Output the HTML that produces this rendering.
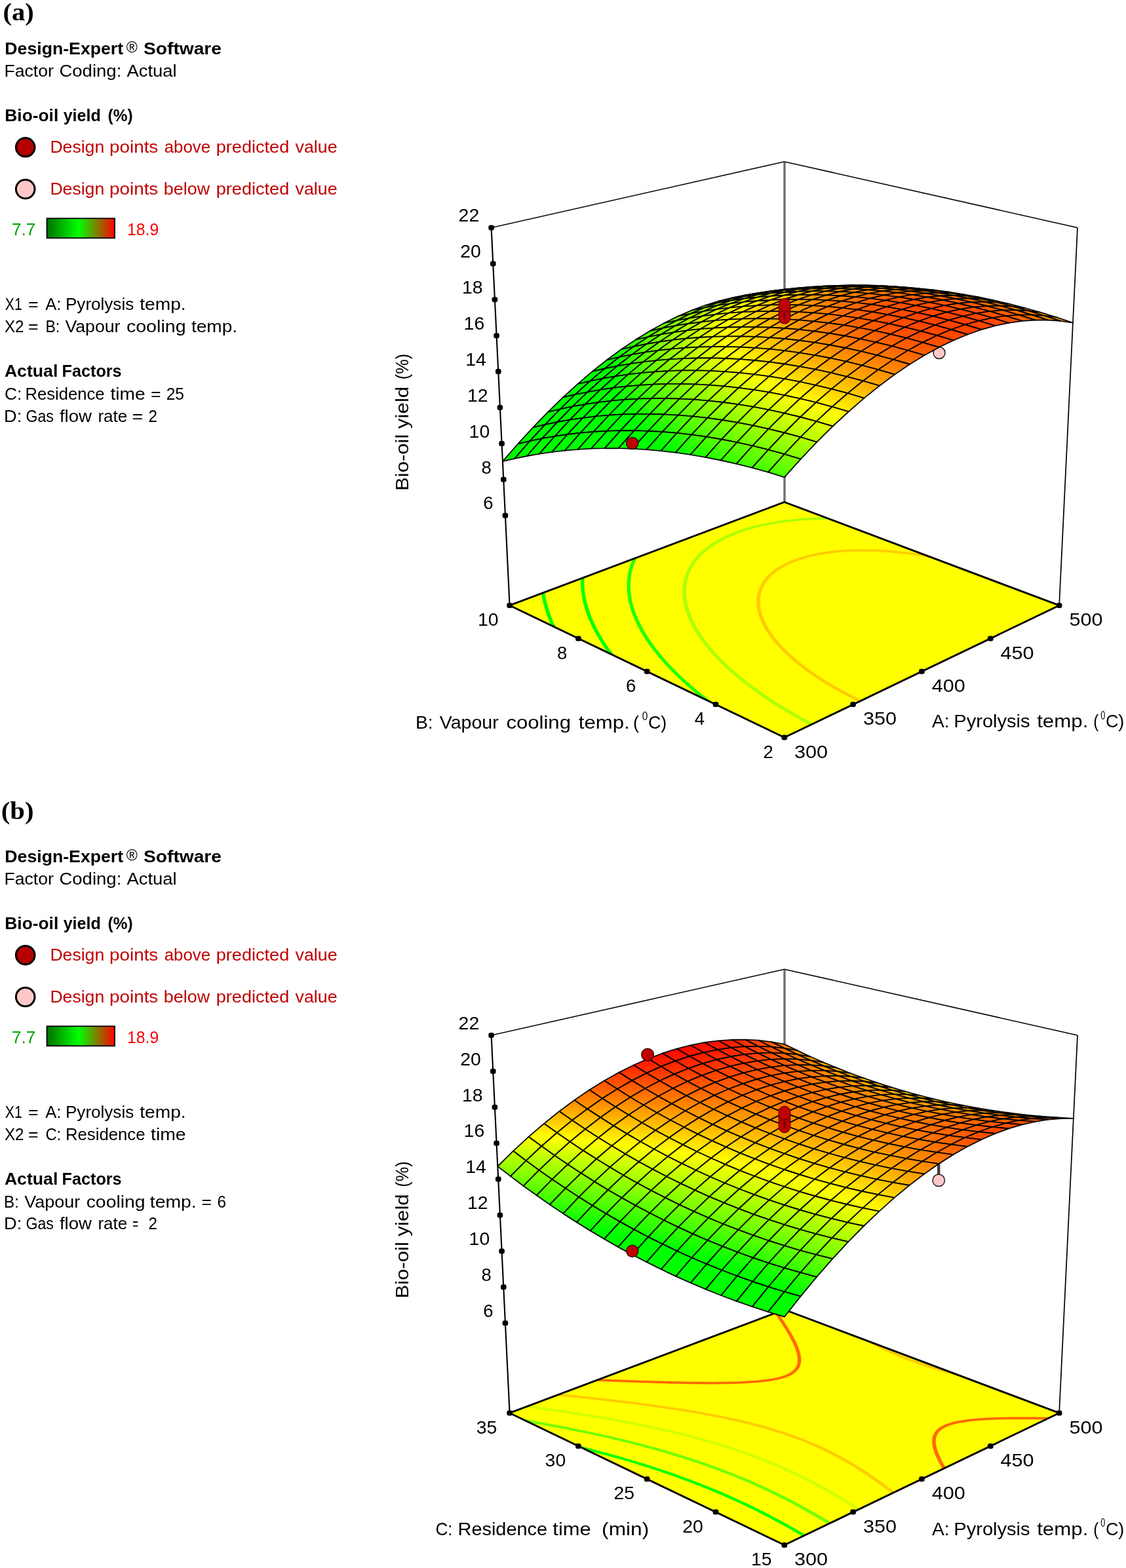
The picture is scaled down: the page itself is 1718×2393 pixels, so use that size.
<!DOCTYPE html><html><head><meta charset="utf-8"><title>Bio-oil yield response surfaces</title><style>html,body{margin:0;padding:0;background:#fff}svg{display:block}text{font-family:"Liberation Sans",sans-serif;font-size:26px;fill:#000}.b{font-weight:bold}.reg{font-size:23px;font-weight:normal}.tk text{font-size:28.3px}.ax{font-size:28.5px}.sup{font-size:17.5px}.pre{white-space:pre}.sf path{stroke:#000;stroke-width:1.85;stroke-opacity:.95;stroke-linejoin:round}.ttl{font-family:"Liberation Serif",serif;font-weight:bold;font-size:38px}</style></head><body>
<svg width="1718" height="2393" viewBox="0 0 1718 2393">
<defs><linearGradient id="lg" x1="0" x2="1" y1="0" y2="0"><stop offset="0" stop-color="#007000"/><stop offset="0.47" stop-color="#00ff00"/><stop offset="1" stop-color="#ff0000"/></linearGradient></defs>
<rect width="1718" height="2393" fill="#fff"/>
<clipPath id="fc0"><path d="M777.6 924 L1196.8 1125.5 L1616.1 924 L1196.8 766.2Z"/></clipPath>
<clipPath id="fc1"><path d="M777.6 2156.5 L1196.8 2358 L1616.1 2156.5 L1196.8 1998.7Z"/></clipPath>
<text class="ttl" x="4.4" y="30.6" textLength="47.3" lengthAdjust="spacingAndGlyphs">(a)</text>
<circle cx="38.7" cy="224.8" r="14.3" fill="#b40000" stroke="#000" stroke-width="3"/><circle cx="38.7" cy="288.6" r="14.3" fill="#ffc8c8" stroke="#000" stroke-width="3"/><rect x="71.5" y="333.3" width="103.5" height="30" fill="url(#lg)" stroke="#000" stroke-width="1.8"/>
<path d="M1197 247.7 L1197 766.2" stroke="#707070" stroke-width="3.4" fill="none"/><path d="M749.6 347.5 L1196.8 246.7 L1644 347.5" stroke="#000" stroke-width="1.6" fill="none" stroke-linejoin="miter"/><path d="M749.6 347.5 L777.6 924" stroke="#000" stroke-width="2.1" fill="none"/><path d="M1644 347.5 L1616.1 924" stroke="#000" stroke-width="1.7" fill="none"/>
<path d="M777.6 924 L1196.8 1125.5 L1616.1 924 L1196.8 766.2Z" fill="#ffff00"/><g clip-path="url(#fc0)" stroke-width="2.3" stroke-linejoin="round"><path d="M829.2 895.8 L829.4 898.6 L829.6 900.6 L830 903.2 L830.4 906.1 L830.9 908.9 L831.3 911 L831.7 913.5 L832.4 916.4 L833.1 919.3 L833.7 921.9 L834.3 924.2 L835 926.5 L835.9 929.4 L836.8 932.3 L837.7 935.2 L838.7 938 L839.7 940.7 L840.6 943.2 L841.6 945.7 L842.7 948.2 L843.8 950.9 L845.1 953.7 L846.4 956.6 L847.7 959.4 L849.1 962.2 L850.5 965 L852 967.9 L853.5 970.7 L854.5 972.5 L851.3 972.9 L850.4 971.1 L848.8 968.3 L847.4 965.5 L845.9 962.6 L844.6 959.8 L843.2 957 L841.9 954.1 L840.7 951.3 L839.5 948.6 L838.5 946 L837.5 943.5 L836.5 941 L835.6 938.4 L834.6 935.5 L833.6 932.6 L832.7 929.7 L831.8 926.8 L831.2 924.5 L830.6 922.2 L829.9 919.6 L829.2 916.6 L828.6 913.7 L828.1 911.2 L827.7 909.1 L827.3 906.4 L826.9 903.4 L826.5 900.8 L826.3 898.8 L826.1 896Z" fill="#00ff00" stroke="#00ff00"/><path d="M891.1 872.7 L890.9 874.5 L890.6 877.4 L890.4 879.8 L890.3 882.1 L890.2 885.1 L890.1 887 L890.2 889.8 L890.2 892.6 L890.3 894.5 L890.5 897.5 L890.8 900.3 L891 902.2 L891.4 905 L891.8 908 L892.2 910.4 L892.6 912.5 L893.2 915.4 L893.9 918.4 L894.6 921 L895.1 923.2 L895.9 925.7 L896.7 928.7 L897.7 931.6 L898.7 934.5 L899.6 937 L900.5 939.4 L901.4 941.8 L902.6 944.6 L903.8 947.4 L905.1 950.3 L906.4 953.2 L907.8 956 L909.2 958.9 L910.7 961.7 L912.2 964.5 L913.8 967.3 L915.4 970.2 L917.1 973 L918.8 975.8 L920.5 978.6 L922.3 981.4 L924.2 984.2 L926.1 987 L928 989.8 L929.9 992.5 L932 995.3 L934.1 998.2 L936.6 1001.5 L939.2 1004.9 L941.5 1007.8 L943.8 1010.5 L946.1 1013.3 L948.4 1016 L951.1 1019.2 L948 1019.8 L945.2 1016.7 L942.9 1013.9 L940.6 1011.1 L938.4 1008.4 L936.1 1005.5 L933.4 1002.1 L930.9 998.7 L928.8 995.9 L926.8 993.1 L924.8 990.3 L922.9 987.5 L921 984.7 L919.2 981.9 L917.4 979.1 L915.6 976.3 L913.9 973.4 L912.3 970.6 L910.6 967.8 L909.1 964.9 L907.5 962.1 L906.1 959.3 L904.6 956.4 L903.3 953.5 L901.9 950.7 L900.7 947.8 L899.4 944.9 L898.3 942.1 L897.3 939.7 L896.4 937.3 L895.5 934.8 L894.5 931.9 L893.6 928.9 L892.7 926 L892 923.5 L891.4 921.3 L890.8 918.6 L890.1 915.7 L889.5 912.7 L889.1 910.6 L888.7 908.2 L888.3 905.2 L887.9 902.4 L887.7 900.4 L887.4 897.6 L887.2 894.6 L887.1 892.7 L887.1 890 L887.1 887.1 L887.1 885.2 L887.2 882.2 L887.3 879.8 L887.5 877.5 L887.8 874.6 L888.1 872.7Z" fill="#00ff00" stroke="#00ff00"/><path d="M976.9 840.7 L975.2 843.3 L973.6 846 L972.2 848.4 L971.2 850.3 L969.9 852.9 L968.6 855.8 L967.8 857.5 L966.8 860.1 L965.8 862.8 L965.2 864.7 L964.2 867.7 L963.7 869.7 L963 872.5 L962.5 874.8 L962.1 877.4 L961.7 879.8 L961.3 882.4 L961.1 884.6 L960.9 887.6 L960.8 889.5 L960.7 892.7 L960.7 894.7 L960.8 897.4 L960.9 900.3 L961.1 902.2 L961.3 905.2 L961.7 908 L962 910 L962.5 912.8 L963 915.9 L963.5 918.2 L964.1 920.4 L964.8 923.4 L965.7 926.4 L966.5 929 L967.2 931.2 L968.1 933.8 L969.1 936.7 L970.3 939.6 L971.5 942.5 L972.6 945.3 L973.7 947.7 L974.9 950.2 L976.2 952.7 L977.6 955.5 L979.1 958.4 L980.7 961.2 L982.3 964.1 L984 966.9 L985.7 969.7 L987.5 972.5 L989.3 975.4 L991.2 978.2 L993.1 981 L995.1 983.7 L997.1 986.5 L999.4 989.6 L1001.9 992.8 L1004.5 996.1 L1006.9 999 L1009.1 1001.7 L1011.5 1004.4 L1013.9 1007.2 L1016.3 1009.9 L1019.6 1013.6 L1022.5 1016.7 L1025.1 1019.4 L1027.8 1022.1 L1030.8 1025.2 L1034.5 1028.9 L1037.3 1031.5 L1040.1 1034.2 L1044.1 1038 L1047.4 1040.9 L1050.3 1043.6 L1054.5 1047.2 L1057.9 1050.2 L1061.1 1052.8 L1065.8 1056.8 L1069 1059.4 L1073.1 1062.7 L1077.3 1066 L1080.7 1068.6 L1085.8 1072.5 L1089.3 1075.1 L1094.6 1079 L1098.1 1081.6 L1103.6 1085.4 L1107.3 1088 L1112.9 1091.8 L1118.6 1095.7 L1122.4 1098.2 L1128.3 1102 L1132.2 1104.6 L1138.2 1108.4 L1144.3 1112.2 L1148.9 1114.9 L1146.1 1116 L1141.5 1113.2 L1135.4 1109.4 L1129.4 1105.6 L1125.4 1103.1 L1119.5 1099.2 L1115.7 1096.7 L1110 1092.8 L1104.4 1088.9 L1100.7 1086.4 L1095.2 1082.5 L1091.6 1079.9 L1086.3 1076 L1082.8 1073.4 L1077.7 1069.4 L1074.3 1066.8 L1070.1 1063.5 L1066 1060.2 L1062.8 1057.6 L1058 1053.6 L1054.9 1051 L1051.5 1048 L1047.3 1044.3 L1044.3 1041.6 L1041.1 1038.7 L1037 1034.9 L1034.2 1032.2 L1031.4 1029.5 L1027.8 1025.9 L1024.7 1022.8 L1022 1020.1 L1019.5 1017.3 L1016.5 1014.2 L1013.2 1010.5 L1010.8 1007.8 L1008.4 1005 L1006 1002.3 L1003.7 999.5 L1001.4 996.6 L998.8 993.3 L996.3 990.1 L994 987 L992 984.2 L990 981.4 L988.1 978.6 L986.2 975.8 L984.3 973 L982.6 970.2 L980.8 967.3 L979.1 964.5 L977.5 961.6 L975.9 958.8 L974.4 955.9 L973 953.1 L971.8 950.6 L970.6 948.1 L969.5 945.6 L968.3 942.9 L967.1 939.9 L966 937 L964.9 934 L964 931.5 L963.3 929.2 L962.5 926.6 L961.7 923.6 L960.9 920.6 L960.4 918.4 L959.9 916.1 L959.3 913 L958.9 910.2 L958.6 908.2 L958.2 905.3 L958 902.3 L957.8 900.4 L957.7 897.5 L957.6 894.8 L957.6 892.7 L957.7 889.5 L957.8 887.6 L958 884.7 L958.3 882.4 L958.6 879.8 L959 877.4 L959.5 874.8 L960 872.4 L960.7 869.7 L961.2 867.7 L962.2 864.6 L962.8 862.8 L963.8 860 L964.8 857.4 L965.6 855.6 L966.9 852.7 L968.3 850.1 L969.3 848.2 L970.7 845.8 L972.3 843.1 L974 840.5Z" fill="#21ff00" stroke="#21ff00"/><path d="M1286.1 791.8 L1279.3 791.6 L1274.2 791.6 L1268.1 791.6 L1262.9 791.6 L1256.4 791.7 L1252 791.8 L1245 792 L1239.8 792.3 L1235 792.5 L1228.4 792.9 L1222.1 793.4 L1216.7 793.9 L1211.7 794.3 L1206.5 794.9 L1201 795.5 L1195.3 796.3 L1189.2 797.2 L1182.7 798.2 L1176.6 799.3 L1171.5 800.2 L1166.5 801.3 L1159.2 802.9 L1154.5 804 L1147.7 805.8 L1143.3 807.1 L1136.8 809.1 L1130.5 811.2 L1124.5 813.4 L1118.7 815.7 L1113.1 818 L1107.7 820.5 L1103.4 822.7 L1099.2 824.9 L1094.7 827.5 L1091.3 829.6 L1088.3 831.5 L1083.9 834.6 L1081.2 836.6 L1078.5 838.7 L1075.9 840.9 L1073.3 843.2 L1070.6 845.8 L1068.2 848.2 L1066 850.6 L1064 852.9 L1062.2 855.1 L1060.4 857.5 L1058.6 860.1 L1056.9 862.8 L1055.3 865.5 L1054.2 867.6 L1053.1 869.6 L1051.8 872.5 L1050.7 875.2 L1050 877.1 L1049.1 879.9 L1048.3 882.5 L1047.8 884.6 L1047 887.8 L1046.7 889.5 L1046.2 892.7 L1046 894.7 L1045.7 897.8 L1045.7 899.7 L1045.6 903 L1045.6 904.9 L1045.8 907.9 L1045.9 910.4 L1046.2 912.7 L1046.6 915.8 L1047 918.2 L1047.4 920.5 L1048.1 923.6 L1048.8 926.3 L1049.4 928.4 L1050.2 931.3 L1051.2 934.3 L1052.3 937.2 L1053.1 939.4 L1054.1 941.8 L1055.4 944.7 L1056.7 947.7 L1058.1 950.6 L1059.6 953.5 L1061.2 956.3 L1062.6 958.9 L1064.2 961.5 L1065.8 964.2 L1067.5 966.9 L1069.3 969.7 L1071.3 972.5 L1073.3 975.4 L1075.5 978.4 L1077.8 981.4 L1080.2 984.5 L1082.5 987.4 L1084.8 990.1 L1087.2 992.9 L1089.6 995.6 L1092.1 998.3 L1094.6 1001 L1097.9 1004.6 L1101.1 1007.8 L1103.8 1010.5 L1106.5 1013.1 L1109.6 1016 L1113.6 1019.8 L1116.5 1022.4 L1119.5 1025.1 L1123.8 1028.8 L1127.1 1031.6 L1130.3 1034.2 L1135.1 1038.1 L1138.3 1040.7 L1141.9 1043.4 L1146.7 1047.1 L1150.1 1049.7 L1155.4 1053.5 L1158.9 1056 L1164.3 1059.8 L1168 1062.3 L1173.6 1066.1 L1177.3 1068.6 L1183.1 1072.3 L1189 1076 L1193 1078.4 L1199 1082.1 L1205.1 1085.8 L1209.3 1088.2 L1215.7 1091.8 L1222.1 1095.4 L1228.3 1098.8 L1233.1 1101.3 L1239.8 1104.9 L1246.6 1108.4 L1253.6 1111.9 L1251 1113 L1244.1 1109.5 L1237.2 1106 L1230.5 1102.5 L1225.6 1099.9 L1219.4 1096.5 L1213 1092.9 L1206.6 1089.2 L1202.4 1086.8 L1196.3 1083.1 L1190.2 1079.4 L1186.2 1077 L1180.3 1073.2 L1174.5 1069.5 L1170.7 1067 L1165.1 1063.2 L1161.4 1060.7 L1156 1056.9 L1152.5 1054.3 L1147.2 1050.5 L1143.8 1047.9 L1138.9 1044.2 L1135.4 1041.5 L1132.1 1038.9 L1127.3 1035 L1124.1 1032.4 L1120.8 1029.5 L1116.5 1025.8 L1113.5 1023.1 L1110.6 1020.5 L1106.5 1016.7 L1103.5 1013.8 L1100.7 1011.1 L1098 1008.4 L1094.9 1005.2 L1091.5 1001.6 L1089 998.9 L1086.5 996.2 L1084.1 993.4 L1081.8 990.7 L1079.5 987.9 L1077.1 985 L1074.7 981.9 L1072.4 978.9 L1070.2 975.9 L1068.2 973 L1066.2 970.1 L1064.4 967.4 L1062.7 964.6 L1061 961.9 L1059.5 959.3 L1058 956.7 L1056.5 953.8 L1055 950.9 L1053.6 948 L1052.2 945 L1050.9 942.1 L1050 939.7 L1049.1 937.4 L1048.1 934.5 L1047.1 931.5 L1046.2 928.7 L1045.7 926.5 L1045 923.8 L1044.3 920.7 L1043.9 918.3 L1043.5 916 L1043.1 912.8 L1042.8 910.5 L1042.6 907.9 L1042.5 905 L1042.5 903 L1042.6 899.7 L1042.7 897.8 L1042.9 894.7 L1043.2 892.7 L1043.7 889.5 L1044 887.7 L1044.7 884.5 L1045.3 882.4 L1046 879.8 L1047 876.9 L1047.7 875.1 L1048.8 872.3 L1050.2 869.4 L1051.2 867.4 L1052.4 865.2 L1054 862.5 L1055.7 859.8 L1057.6 857.2 L1059.4 854.8 L1061.2 852.6 L1063.2 850.3 L1065.4 847.9 L1067.8 845.4 L1070.5 842.8 L1073.2 840.5 L1075.8 838.3 L1078.6 836.1 L1081.4 834 L1085.8 831 L1088.8 829 L1092.3 826.9 L1096.9 824.3 L1101.1 822 L1105.5 819.8 L1110.9 817.3 L1116.6 814.9 L1122.5 812.6 L1128.6 810.3 L1135 808.2 L1141.5 806.2 L1146 804.9 L1153 803.1 L1157.8 801.9 L1165.1 800.3 L1170.2 799.3 L1175.4 798.3 L1181.6 797.2 L1188.2 796.1 L1194.3 795.2 L1200.1 794.5 L1205.7 793.8 L1211 793.3 L1216.1 792.8 L1221.5 792.3 L1227.9 791.8 L1234.5 791.4 L1239.4 791.2 L1244.7 790.9 L1251.8 790.7 L1256.2 790.6 L1262.7 790.5 L1268 790.5 L1274.2 790.5 L1279.3 790.6 L1286.1 790.7Z" fill="#aaff00" stroke="#aaff00"/><path d="M1636.9 925.8 L1631.1 922.6 L1627.1 920.5 L1621.1 917.3 L1620.8 917.2 L1623.1 916.4 L1623.5 916.6 L1629.5 919.7 L1633.5 921.9 L1639.4 925.1Z" fill="#ffca00" stroke="#ffca00"/><path d="M1472 861.5 L1465.4 859.9 L1460.3 858.6 L1452.5 856.8 L1447.2 855.6 L1440.6 854.2 L1433.8 852.8 L1428.3 851.8 L1422.8 850.7 L1416.4 849.6 L1409.3 848.4 L1402.9 847.4 L1397.1 846.5 L1391.1 845.7 L1385.1 844.9 L1378.9 844.2 L1372.7 843.5 L1367.2 843 L1362.1 842.5 L1356.6 842 L1349.8 841.6 L1343 841.1 L1338.3 840.9 L1332.3 840.7 L1325.4 840.5 L1321.1 840.4 L1313.5 840.4 L1309.3 840.5 L1302.2 840.6 L1296.6 840.8 L1291.7 841.1 L1285 841.5 L1278.5 842 L1272.6 842.6 L1267.1 843.3 L1261.3 844.1 L1254.9 845.1 L1249.5 846 L1244.2 847.1 L1239.2 848.2 L1231.9 850 L1227.3 851.3 L1220.7 853.3 L1214.4 855.6 L1208.4 857.9 L1202.8 860.5 L1197.5 863.1 L1194.2 865 L1189.4 867.9 L1186.4 869.9 L1182.5 872.8 L1179.5 875.3 L1177 877.6 L1174.6 879.9 L1172.4 882.4 L1170.4 884.8 L1168.4 887.4 L1166.7 890.1 L1165.1 892.8 L1163.8 895.3 L1162.8 897.4 L1161.8 900 L1160.8 903 L1160.2 905.2 L1159.6 907.7 L1159.1 910.8 L1158.9 912.6 L1158.6 916 L1158.6 917.9 L1158.6 921.3 L1158.7 923.1 L1159.1 926.3 L1159.5 928.8 L1159.9 931.3 L1160.7 934.5 L1161.3 936.8 L1162.1 939.2 L1163.2 942.3 L1164.4 945.4 L1165.4 947.7 L1166.4 950 L1167.9 952.9 L1169.5 955.9 L1171.2 958.8 L1173 961.8 L1174.8 964.7 L1176.8 967.5 L1178.8 970.3 L1180.9 973.1 L1183.2 976 L1185.5 978.8 L1187.8 981.5 L1190.3 984.3 L1192.8 987 L1195.4 989.7 L1198 992.4 L1201.1 995.4 L1205 999 L1207.9 1001.7 L1210.8 1004.3 L1213.9 1006.9 L1218.5 1010.8 L1221.7 1013.3 L1224.9 1015.9 L1229.9 1019.7 L1233.3 1022.2 L1238.2 1025.7 L1242.1 1028.4 L1246.6 1031.4 L1251.2 1034.5 L1256.5 1037.9 L1260.8 1040.5 L1266.7 1044.1 L1270.6 1046.5 L1276.8 1050 L1283 1053.4 L1287.3 1055.7 L1293.7 1059.2 L1300.3 1062.5 L1307.1 1065.9 L1314 1069.2 L1321 1072.5 L1328.2 1075.7 L1325.8 1076.9 L1318.6 1073.6 L1311.5 1070.3 L1304.6 1067 L1297.8 1063.6 L1291.2 1060.2 L1284.7 1056.8 L1280.4 1054.4 L1274.1 1050.9 L1268 1047.4 L1264 1045 L1258 1041.4 L1253.8 1038.8 L1248.5 1035.4 L1243.8 1032.3 L1239.3 1029.2 L1235.4 1026.5 L1230.5 1023 L1227 1020.4 L1222 1016.6 L1218.8 1014 L1215.6 1011.5 L1211 1007.6 L1207.9 1005 L1204.9 1002.3 L1202 999.7 L1198.1 996 L1195 993 L1192.3 990.3 L1189.7 987.5 L1187.2 984.8 L1184.8 982 L1182.4 979.3 L1180.1 976.5 L1177.8 973.6 L1175.7 970.7 L1173.7 967.9 L1171.7 965 L1169.9 962.1 L1168.1 959.2 L1166.4 956.2 L1164.8 953.2 L1163.3 950.3 L1162.2 948 L1161.2 945.6 L1160 942.5 L1158.9 939.4 L1158.2 937 L1157.5 934.6 L1156.8 931.4 L1156.3 928.9 L1156 926.4 L1155.6 923.2 L1155.5 921.4 L1155.4 917.9 L1155.5 916 L1155.7 912.6 L1156 910.7 L1156.5 907.6 L1157.1 905.1 L1157.7 902.8 L1158.7 899.8 L1159.8 897.2 L1160.8 895.1 L1162.1 892.5 L1163.7 889.8 L1165.5 887.1 L1167.5 884.5 L1169.6 881.9 L1171.8 879.5 L1174.2 877.1 L1176.8 874.8 L1179.8 872.3 L1183.8 869.3 L1186.8 867.3 L1191.7 864.3 L1195.1 862.4 L1200.5 859.7 L1206.3 857.1 L1212.4 854.7 L1218.8 852.4 L1225.6 850.3 L1230.3 849 L1237.7 847.2 L1242.8 846 L1248.2 845 L1253.7 844 L1260.2 843 L1266.2 842.2 L1271.8 841.5 L1277.8 840.9 L1284.3 840.4 L1291.2 839.9 L1296.2 839.7 L1301.9 839.4 L1309.1 839.3 L1313.3 839.2 L1321.1 839.3 L1325.5 839.3 L1332.4 839.5 L1338.5 839.7 L1343.2 840 L1350.2 840.4 L1357 840.9 L1362.6 841.3 L1367.8 841.8 L1373.3 842.4 L1379.6 843.1 L1385.8 843.8 L1391.9 844.6 L1397.9 845.4 L1403.8 846.3 L1410.3 847.3 L1417.5 848.5 L1423.9 849.7 L1429.5 850.7 L1435 851.8 L1441.9 853.2 L1448.5 854.6 L1453.8 855.8 L1461.6 857.6 L1466.8 858.8 L1473.5 860.5Z" fill="#ffca00" stroke="#ffca00"/></g><path d="M777.6 924 L1196.8 1125.5 L1616.1 924 L1196.8 766.2Z" fill="none" stroke="#000" stroke-width="2.9" stroke-linejoin="miter"/>
<circle cx="1433" cy="538.5" r="9.0" fill="#ffc8c8" stroke="#2a1a1a" stroke-width="1.5"/>
<defs><linearGradient id="a0" gradientUnits="userSpaceOnUse" x1="1196.9" y1="446.7" x2="1196.7" y2="443.6"><stop stop-color="#46ff00"/><stop offset="1" stop-color="#7aff00"/></linearGradient><linearGradient id="a1" gradientUnits="userSpaceOnUse" x1="1177.3" y1="446.7" x2="1177.1" y2="444.7"><stop stop-color="#5aff00"/><stop offset="1" stop-color="#8aff00"/></linearGradient><linearGradient id="a2" gradientUnits="userSpaceOnUse" x1="1216.5" y1="443.7" x2="1216.4" y2="441"><stop stop-color="#65ff00"/><stop offset="1" stop-color="#97ff00"/></linearGradient><linearGradient id="a3" gradientUnits="userSpaceOnUse" x1="1196.9" y1="443.6" x2="1196.7" y2="441.9"><stop stop-color="#7aff00"/><stop offset="1" stop-color="#a7ff00"/></linearGradient><linearGradient id="a4" gradientUnits="userSpaceOnUse" x1="1236.4" y1="441.2" x2="1236.3" y2="438.8"><stop stop-color="#83ff00"/><stop offset="1" stop-color="#b3ff00"/></linearGradient><linearGradient id="a5" gradientUnits="userSpaceOnUse" x1="1256.5" y1="439.2" x2="1256.4" y2="437.2"><stop stop-color="#9eff00"/><stop offset="1" stop-color="#cdff00"/></linearGradient><linearGradient id="a6" gradientUnits="userSpaceOnUse" x1="1276.9" y1="437.8" x2="1276.8" y2="436.1"><stop stop-color="#b7ff00"/><stop offset="1" stop-color="#e4ff00"/></linearGradient><linearGradient id="a7" gradientUnits="userSpaceOnUse" x1="1096.1" y1="459.6" x2="1096.8" y2="461.9"><stop stop-color="#7eff00"/><stop offset="1" stop-color="#a2ff00"/></linearGradient><linearGradient id="a8" gradientUnits="userSpaceOnUse" x1="1136.3" y1="450.9" x2="1136.7" y2="452.4"><stop stop-color="#9fff00"/><stop offset="1" stop-color="#c0ff00"/></linearGradient><linearGradient id="a9" gradientUnits="userSpaceOnUse" x1="1074.8" y1="465.7" x2="1076.5" y2="469.8"><stop stop-color="#77ff00"/><stop offset="1" stop-color="#a0ff00"/></linearGradient><linearGradient id="a10" gradientUnits="userSpaceOnUse" x1="1115.5" y1="455.9" x2="1116.4" y2="458.6"><stop stop-color="#a0ff00"/><stop offset="1" stop-color="#c1ff00"/></linearGradient><linearGradient id="a11" gradientUnits="userSpaceOnUse" x1="1156.1" y1="447.8" x2="1156.6" y2="449.7"><stop stop-color="#beff00"/><stop offset="1" stop-color="#deff00"/></linearGradient><linearGradient id="a12" gradientUnits="userSpaceOnUse" x1="1053" y1="473" x2="1056.3" y2="479.3"><stop stop-color="#6bff00"/><stop offset="1" stop-color="#99ff00"/></linearGradient><linearGradient id="a13" gradientUnits="userSpaceOnUse" x1="1094.2" y1="461.8" x2="1096.1" y2="466.5"><stop stop-color="#99ff00"/><stop offset="1" stop-color="#c0ff00"/></linearGradient><linearGradient id="a14" gradientUnits="userSpaceOnUse" x1="1135.3" y1="452.7" x2="1136.2" y2="455.8"><stop stop-color="#c0ff00"/><stop offset="1" stop-color="#dfff00"/></linearGradient><linearGradient id="a15" gradientUnits="userSpaceOnUse" x1="1176.2" y1="445.2" x2="1176.7" y2="447.6"><stop stop-color="#dbff00"/><stop offset="1" stop-color="#faff00"/></linearGradient><linearGradient id="a16" gradientUnits="userSpaceOnUse" x1="1217.1" y1="439.8" x2="1217.3" y2="441.6"><stop stop-color="#eeff00"/><stop offset="0.51" stop-color="#ffff00"/><stop offset="1" stop-color="#ffef00"/></linearGradient><linearGradient id="a17" gradientUnits="userSpaceOnUse" x1="1030.5" y1="481.5" x2="1036.5" y2="490.3"><stop stop-color="#5bff00"/><stop offset="1" stop-color="#8eff00"/></linearGradient><linearGradient id="a18" gradientUnits="userSpaceOnUse" x1="1072.2" y1="468.9" x2="1076" y2="476"><stop stop-color="#8eff00"/><stop offset="1" stop-color="#baff00"/></linearGradient><linearGradient id="a19" gradientUnits="userSpaceOnUse" x1="1113.9" y1="458.4" x2="1116" y2="463.7"><stop stop-color="#baff00"/><stop offset="1" stop-color="#deff00"/></linearGradient><linearGradient id="a20" gradientUnits="userSpaceOnUse" x1="1155.3" y1="450" x2="1156.4" y2="453.5"><stop stop-color="#deff00"/><stop offset="1" stop-color="#fbff00"/></linearGradient><linearGradient id="a21" gradientUnits="userSpaceOnUse" x1="1196.5" y1="443.1" x2="1197.1" y2="446"><stop stop-color="#f6ff00"/><stop offset="0.3" stop-color="#ffff00"/><stop offset="1" stop-color="#ffea00"/></linearGradient><linearGradient id="a22" gradientUnits="userSpaceOnUse" x1="1007.1" y1="491.4" x2="1017" y2="502.7"><stop stop-color="#47ff00"/><stop offset="1" stop-color="#7fff00"/></linearGradient><linearGradient id="a23" gradientUnits="userSpaceOnUse" x1="1237.8" y1="438.4" x2="1238" y2="440.6"><stop stop-color="#fff700"/><stop offset="1" stop-color="#ffd700"/></linearGradient><linearGradient id="a24" gradientUnits="userSpaceOnUse" x1="1049.4" y1="477.2" x2="1056.3" y2="487"><stop stop-color="#7fff00"/><stop offset="1" stop-color="#afff00"/></linearGradient><linearGradient id="a25" gradientUnits="userSpaceOnUse" x1="1091.7" y1="465.2" x2="1096" y2="473.2"><stop stop-color="#afff00"/><stop offset="1" stop-color="#d8ff00"/></linearGradient><linearGradient id="a26" gradientUnits="userSpaceOnUse" x1="982.8" y1="503.1" x2="998.1" y2="516"><stop stop-color="#2eff00"/><stop offset="1" stop-color="#6bff00"/></linearGradient><linearGradient id="a27" gradientUnits="userSpaceOnUse" x1="1133.8" y1="455.5" x2="1136.2" y2="461.4"><stop stop-color="#d8ff00"/><stop offset="1" stop-color="#faff00"/></linearGradient><linearGradient id="a28" gradientUnits="userSpaceOnUse" x1="1175.6" y1="447.8" x2="1176.8" y2="451.7"><stop stop-color="#faff00"/><stop offset="0.19" stop-color="#ffff00"/><stop offset="1" stop-color="#ffea00"/></linearGradient><linearGradient id="a29" gradientUnits="userSpaceOnUse" x1="1217.2" y1="441.6" x2="1217.8" y2="444.9"><stop stop-color="#ffef00"/><stop offset="1" stop-color="#ffd200"/></linearGradient><linearGradient id="a30" gradientUnits="userSpaceOnUse" x1="1300.2" y1="435.7" x2="1300.2" y2="437.6"><stop stop-color="#ffda00"/><stop offset="1" stop-color="#ffb900"/></linearGradient><linearGradient id="a31" gradientUnits="userSpaceOnUse" x1="1258.7" y1="437.5" x2="1259" y2="440.2"><stop stop-color="#ffe100"/><stop offset="1" stop-color="#ffc200"/></linearGradient><linearGradient id="a32" gradientUnits="userSpaceOnUse" x1="1025.7" y1="487" x2="1037.2" y2="499.3"><stop stop-color="#6bff00"/><stop offset="1" stop-color="#a0ff00"/></linearGradient><linearGradient id="a33" gradientUnits="userSpaceOnUse" x1="1068.6" y1="473.3" x2="1076.5" y2="484.2"><stop stop-color="#a0ff00"/><stop offset="1" stop-color="#ceff00"/></linearGradient><linearGradient id="a34" gradientUnits="userSpaceOnUse" x1="957.8" y1="517" x2="979.4" y2="530.1"><stop stop-color="#10ff00"/><stop offset="1" stop-color="#52ff00"/></linearGradient><linearGradient id="a35" gradientUnits="userSpaceOnUse" x1="1111.5" y1="462.1" x2="1116.3" y2="470.9"><stop stop-color="#ceff00"/><stop offset="1" stop-color="#f5ff00"/></linearGradient><linearGradient id="a36" gradientUnits="userSpaceOnUse" x1="1154" y1="453.2" x2="1156.6" y2="459.6"><stop stop-color="#f5ff00"/><stop offset="0.31" stop-color="#ffff00"/><stop offset="1" stop-color="#ffea00"/></linearGradient><linearGradient id="a37" gradientUnits="userSpaceOnUse" x1="1000.9" y1="498.8" x2="1018.5" y2="512.4"><stop stop-color="#52ff00"/><stop offset="1" stop-color="#8dff00"/></linearGradient><linearGradient id="a38" gradientUnits="userSpaceOnUse" x1="1196.2" y1="446.2" x2="1197.4" y2="450.5"><stop stop-color="#ffea00"/><stop offset="1" stop-color="#ffd200"/></linearGradient><linearGradient id="a39" gradientUnits="userSpaceOnUse" x1="1321.7" y1="436.1" x2="1321.7" y2="438.4"><stop stop-color="#ffc700"/><stop offset="1" stop-color="#ffa800"/></linearGradient><linearGradient id="a40" gradientUnits="userSpaceOnUse" x1="1238.1" y1="440.6" x2="1238.7" y2="444.4"><stop stop-color="#ffd700"/><stop offset="1" stop-color="#ffbc00"/></linearGradient><linearGradient id="a41" gradientUnits="userSpaceOnUse" x1="1279.9" y1="437.2" x2="1280.2" y2="440.3"><stop stop-color="#ffcc00"/><stop offset="1" stop-color="#ffae00"/></linearGradient><linearGradient id="a42" gradientUnits="userSpaceOnUse" x1="932.6" y1="533.2" x2="960.6" y2="544.7"><stop stop-color="#00ff00"/><stop offset="0.24" stop-color="#00ff00"/><stop offset="1" stop-color="#36ff00"/></linearGradient><linearGradient id="a43" gradientUnits="userSpaceOnUse" x1="1044.4" y1="483.1" x2="1057.7" y2="496.4"><stop stop-color="#8dff00"/><stop offset="1" stop-color="#c0ff00"/></linearGradient><linearGradient id="a44" gradientUnits="userSpaceOnUse" x1="1088.1" y1="470" x2="1097.1" y2="481.9"><stop stop-color="#c0ff00"/><stop offset="1" stop-color="#ecff00"/></linearGradient><linearGradient id="a45" gradientUnits="userSpaceOnUse" x1="975.5" y1="513" x2="1000.2" y2="526"><stop stop-color="#36ff00"/><stop offset="1" stop-color="#75ff00"/></linearGradient><linearGradient id="a46" gradientUnits="userSpaceOnUse" x1="1131.5" y1="459.5" x2="1136.9" y2="469.2"><stop stop-color="#ecff00"/><stop offset="0.53" stop-color="#ffff00"/><stop offset="1" stop-color="#ffee00"/></linearGradient><linearGradient id="a47" gradientUnits="userSpaceOnUse" x1="1385.4" y1="438.9" x2="1385.3" y2="440.7"><stop stop-color="#ffbc00"/><stop offset="1" stop-color="#ff9c00"/></linearGradient><linearGradient id="a48" gradientUnits="userSpaceOnUse" x1="1174.6" y1="451.3" x2="1177.3" y2="458.4"><stop stop-color="#ffee00"/><stop offset="1" stop-color="#ffd100"/></linearGradient><linearGradient id="a49" gradientUnits="userSpaceOnUse" x1="907.5" y1="551.7" x2="941.3" y2="560"><stop stop-color="#00ff00"/><stop offset="0.73" stop-color="#00ff00"/><stop offset="1" stop-color="#14ff00"/></linearGradient><linearGradient id="a50" gradientUnits="userSpaceOnUse" x1="1343.5" y1="437.1" x2="1343.4" y2="439.8"><stop stop-color="#ffb700"/><stop offset="1" stop-color="#ff9800"/></linearGradient><linearGradient id="a51" gradientUnits="userSpaceOnUse" x1="1217.1" y1="445.1" x2="1218.4" y2="449.9"><stop stop-color="#ffd200"/><stop offset="1" stop-color="#ffbb00"/></linearGradient><linearGradient id="a52" gradientUnits="userSpaceOnUse" x1="1301.4" y1="437.5" x2="1301.7" y2="441"><stop stop-color="#ffb900"/><stop offset="1" stop-color="#ff9c00"/></linearGradient><linearGradient id="a53" gradientUnits="userSpaceOnUse" x1="1259.3" y1="440.1" x2="1260" y2="444.4"><stop stop-color="#ffc200"/><stop offset="1" stop-color="#ffa800"/></linearGradient><linearGradient id="a54" gradientUnits="userSpaceOnUse" x1="1019.2" y1="495" x2="1039.5" y2="509.2"><stop stop-color="#75ff00"/><stop offset="1" stop-color="#adff00"/></linearGradient><linearGradient id="a55" gradientUnits="userSpaceOnUse" x1="1063.3" y1="479.7" x2="1078.7" y2="494"><stop stop-color="#adff00"/><stop offset="1" stop-color="#deff00"/></linearGradient><linearGradient id="a56" gradientUnits="userSpaceOnUse" x1="950" y1="529.7" x2="981.5" y2="540.1"><stop stop-color="#14ff00"/><stop offset="1" stop-color="#59ff00"/></linearGradient><linearGradient id="a57" gradientUnits="userSpaceOnUse" x1="882.8" y1="572.1" x2="921.2" y2="576.3"><stop stop-color="#00ff00"/><stop offset="1" stop-color="#00ff00"/></linearGradient><linearGradient id="a58" gradientUnits="userSpaceOnUse" x1="1107.7" y1="467.2" x2="1118" y2="480.2"><stop stop-color="#deff00"/><stop offset="0.8" stop-color="#ffff00"/><stop offset="1" stop-color="#fff700"/></linearGradient><linearGradient id="a59" gradientUnits="userSpaceOnUse" x1="1407.7" y1="441.2" x2="1407.5" y2="443.4"><stop stop-color="#ffb000"/><stop offset="1" stop-color="#ff9100"/></linearGradient><linearGradient id="a60" gradientUnits="userSpaceOnUse" x1="1151.8" y1="457.4" x2="1157.8" y2="468"><stop stop-color="#fff700"/><stop offset="1" stop-color="#ffd500"/></linearGradient><linearGradient id="a61" gradientUnits="userSpaceOnUse" x1="993.4" y1="509.7" x2="1021.4" y2="522.3"><stop stop-color="#59ff00"/><stop offset="1" stop-color="#96ff00"/></linearGradient><linearGradient id="a62" gradientUnits="userSpaceOnUse" x1="1365.6" y1="438.7" x2="1365.5" y2="441.8"><stop stop-color="#ffa800"/><stop offset="1" stop-color="#ff8b00"/></linearGradient><linearGradient id="a63" gradientUnits="userSpaceOnUse" x1="1195.4" y1="450.1" x2="1198.3" y2="457.7"><stop stop-color="#ffd500"/><stop offset="1" stop-color="#ffbb00"/></linearGradient><linearGradient id="a64" gradientUnits="userSpaceOnUse" x1="1323.2" y1="438.3" x2="1323.4" y2="442.3"><stop stop-color="#ffa700"/><stop offset="1" stop-color="#ff8d00"/></linearGradient><linearGradient id="a65" gradientUnits="userSpaceOnUse" x1="1238.3" y1="444.5" x2="1239.6" y2="449.8"><stop stop-color="#ffbc00"/><stop offset="1" stop-color="#ffa600"/></linearGradient><linearGradient id="a66" gradientUnits="userSpaceOnUse" x1="1280.8" y1="440.3" x2="1281.5" y2="445"><stop stop-color="#ffae00"/><stop offset="1" stop-color="#ff9600"/></linearGradient><linearGradient id="a67" gradientUnits="userSpaceOnUse" x1="925" y1="548.6" x2="962" y2="554.8"><stop stop-color="#00ff00"/><stop offset="0.24" stop-color="#00ff00"/><stop offset="1" stop-color="#38ff00"/></linearGradient><linearGradient id="a68" gradientUnits="userSpaceOnUse" x1="1037.5" y1="492" x2="1060.9" y2="506.4"><stop stop-color="#96ff00"/><stop offset="1" stop-color="#cbff00"/></linearGradient><linearGradient id="a69" gradientUnits="userSpaceOnUse" x1="858.6" y1="594.2" x2="900.2" y2="593.9"><stop stop-color="#00ff00"/><stop offset="1" stop-color="#00ff00"/></linearGradient><linearGradient id="a70" gradientUnits="userSpaceOnUse" x1="1082.3" y1="477" x2="1100.1" y2="492"><stop stop-color="#ccff00"/><stop offset="1" stop-color="#faff00"/></linearGradient><linearGradient id="a71" gradientUnits="userSpaceOnUse" x1="1472.6" y1="449.6" x2="1472.4" y2="451.2"><stop stop-color="#ffb700"/><stop offset="1" stop-color="#ff9700"/></linearGradient><linearGradient id="a72" gradientUnits="userSpaceOnUse" x1="967.8" y1="526.9" x2="1002.7" y2="535.6"><stop stop-color="#38ff00"/><stop offset="1" stop-color="#7aff00"/></linearGradient><linearGradient id="a73" gradientUnits="userSpaceOnUse" x1="1127.5" y1="464.9" x2="1139.4" y2="479"><stop stop-color="#faff00"/><stop offset="0.14" stop-color="#ffff00"/><stop offset="1" stop-color="#ffdd00"/></linearGradient><linearGradient id="a74" gradientUnits="userSpaceOnUse" x1="1430.4" y1="444.1" x2="1430.1" y2="446.7"><stop stop-color="#ffa600"/><stop offset="1" stop-color="#ff8800"/></linearGradient><linearGradient id="a75" gradientUnits="userSpaceOnUse" x1="900.5" y1="569.5" x2="941.5" y2="570.6"><stop stop-color="#00ff00"/><stop offset="0.76" stop-color="#00ff00"/><stop offset="1" stop-color="#13ff00"/></linearGradient><linearGradient id="a76" gradientUnits="userSpaceOnUse" x1="834.8" y1="617.7" x2="878.6" y2="613.2"><stop stop-color="#00ff00"/><stop offset="1" stop-color="#00ff00"/></linearGradient><linearGradient id="a77" gradientUnits="userSpaceOnUse" x1="1172.3" y1="455.8" x2="1179.1" y2="467.4"><stop stop-color="#ffdd00"/><stop offset="1" stop-color="#ffbe00"/></linearGradient><linearGradient id="a78" gradientUnits="userSpaceOnUse" x1="1387.9" y1="440.8" x2="1387.7" y2="444.3"><stop stop-color="#ff9b00"/><stop offset="1" stop-color="#ff8000"/></linearGradient><linearGradient id="a79" gradientUnits="userSpaceOnUse" x1="1011.4" y1="507.2" x2="1043" y2="518.7"><stop stop-color="#7aff00"/><stop offset="1" stop-color="#b5ff00"/></linearGradient><linearGradient id="a80" gradientUnits="userSpaceOnUse" x1="1216.5" y1="449.4" x2="1219.6" y2="457.5"><stop stop-color="#ffbe00"/><stop offset="1" stop-color="#ffa600"/></linearGradient><linearGradient id="a81" gradientUnits="userSpaceOnUse" x1="1345.4" y1="439.8" x2="1345.4" y2="444.2"><stop stop-color="#ff9800"/><stop offset="1" stop-color="#ff7f00"/></linearGradient><linearGradient id="a82" gradientUnits="userSpaceOnUse" x1="1259.8" y1="444.5" x2="1261.2" y2="450.3"><stop stop-color="#ffa800"/><stop offset="1" stop-color="#ff9400"/></linearGradient><linearGradient id="a83" gradientUnits="userSpaceOnUse" x1="1302.6" y1="441" x2="1303.2" y2="446.2"><stop stop-color="#ff9c00"/><stop offset="1" stop-color="#ff8600"/></linearGradient><linearGradient id="a84" gradientUnits="userSpaceOnUse" x1="942.9" y1="546.4" x2="982.9" y2="549.7"><stop stop-color="#13ff00"/><stop offset="1" stop-color="#5aff00"/></linearGradient><linearGradient id="a85" gradientUnits="userSpaceOnUse" x1="1056" y1="489.7" x2="1082.9" y2="503.8"><stop stop-color="#b5ff00"/><stop offset="1" stop-color="#e8ff00"/></linearGradient><linearGradient id="a86" gradientUnits="userSpaceOnUse" x1="1495.8" y1="454" x2="1495.4" y2="455.8"><stop stop-color="#ffb200"/><stop offset="1" stop-color="#ff9300"/></linearGradient><linearGradient id="a87" gradientUnits="userSpaceOnUse" x1="811.3" y1="642.5" x2="856.5" y2="634.1"><stop stop-color="#00ff00"/><stop offset="1" stop-color="#00ff00"/></linearGradient><linearGradient id="a88" gradientUnits="userSpaceOnUse" x1="876.6" y1="591.7" x2="920.2" y2="588"><stop stop-color="#00ff00"/><stop offset="1" stop-color="#00ff00"/></linearGradient><linearGradient id="a89" gradientUnits="userSpaceOnUse" x1="1101.4" y1="474.8" x2="1122.1" y2="490.5"><stop stop-color="#e8ff00"/><stop offset="0.53" stop-color="#ffff00"/><stop offset="1" stop-color="#ffea00"/></linearGradient><linearGradient id="a90" gradientUnits="userSpaceOnUse" x1="1453.3" y1="447.7" x2="1452.9" y2="450.5"><stop stop-color="#ff9e00"/><stop offset="1" stop-color="#ff8100"/></linearGradient><linearGradient id="a91" gradientUnits="userSpaceOnUse" x1="985.9" y1="525.2" x2="1024.1" y2="531.3"><stop stop-color="#5aff00"/><stop offset="1" stop-color="#99ff00"/></linearGradient><linearGradient id="a92" gradientUnits="userSpaceOnUse" x1="1147.4" y1="463.2" x2="1161.1" y2="478.4"><stop stop-color="#ffea00"/><stop offset="1" stop-color="#ffc600"/></linearGradient><linearGradient id="a93" gradientUnits="userSpaceOnUse" x1="1410.6" y1="443.6" x2="1410.3" y2="447.5"><stop stop-color="#ff9100"/><stop offset="1" stop-color="#ff7600"/></linearGradient><linearGradient id="a94" gradientUnits="userSpaceOnUse" x1="1193.1" y1="454.8" x2="1200.7" y2="467.4"><stop stop-color="#ffc600"/><stop offset="1" stop-color="#ffa900"/></linearGradient><linearGradient id="a95" gradientUnits="userSpaceOnUse" x1="787.8" y1="668.5" x2="833.9" y2="656.9"><stop stop-color="#00fd00"/><stop offset="0.08" stop-color="#00ff00"/><stop offset="1" stop-color="#00ff00"/></linearGradient><linearGradient id="a96" gradientUnits="userSpaceOnUse" x1="1367.8" y1="441.8" x2="1367.7" y2="446.7"><stop stop-color="#ff8b00"/><stop offset="1" stop-color="#ff7300"/></linearGradient><linearGradient id="a97" gradientUnits="userSpaceOnUse" x1="918.8" y1="567.6" x2="962" y2="565.2"><stop stop-color="#00ff00"/><stop offset="0.3" stop-color="#00ff00"/><stop offset="1" stop-color="#35ff00"/></linearGradient><linearGradient id="a98" gradientUnits="userSpaceOnUse" x1="1237.9" y1="449.3" x2="1241.2" y2="457.9"><stop stop-color="#ffa900"/><stop offset="1" stop-color="#ff9300"/></linearGradient><linearGradient id="a99" gradientUnits="userSpaceOnUse" x1="1324.8" y1="442.2" x2="1325.3" y2="448"><stop stop-color="#ff8d00"/><stop offset="1" stop-color="#ff7700"/></linearGradient><linearGradient id="a100" gradientUnits="userSpaceOnUse" x1="1281.6" y1="445" x2="1282.9" y2="451.4"><stop stop-color="#ff9600"/><stop offset="1" stop-color="#ff8300"/></linearGradient><linearGradient id="a101" gradientUnits="userSpaceOnUse" x1="853" y1="615.3" x2="898.2" y2="607.2"><stop stop-color="#00ff00"/><stop offset="1" stop-color="#00ff00"/></linearGradient><linearGradient id="a102" gradientUnits="userSpaceOnUse" x1="1029.7" y1="505.7" x2="1065.1" y2="515.2"><stop stop-color="#99ff00"/><stop offset="1" stop-color="#d2ff00"/></linearGradient><linearGradient id="a103" gradientUnits="userSpaceOnUse" x1="1519.2" y1="458.9" x2="1518.7" y2="461.1"><stop stop-color="#ffae00"/><stop offset="1" stop-color="#ff9000"/></linearGradient><linearGradient id="a104" gradientUnits="userSpaceOnUse" x1="1074.5" y1="488.3" x2="1105.3" y2="501.4"><stop stop-color="#d2ff00"/><stop offset="0.93" stop-color="#ffff00"/><stop offset="1" stop-color="#fffc00"/></linearGradient><linearGradient id="a105" gradientUnits="userSpaceOnUse" x1="764.3" y1="695.8" x2="811.1" y2="681.4"><stop stop-color="#00e900"/><stop offset="0.7" stop-color="#00ff00"/><stop offset="1" stop-color="#00ff00"/></linearGradient><linearGradient id="a106" gradientUnits="userSpaceOnUse" x1="961.3" y1="545.1" x2="1003.9" y2="544.8"><stop stop-color="#35ff00"/><stop offset="1" stop-color="#7aff00"/></linearGradient><linearGradient id="a107" gradientUnits="userSpaceOnUse" x1="1476.5" y1="451.9" x2="1475.9" y2="455.1"><stop stop-color="#ff9700"/><stop offset="1" stop-color="#ff7c00"/></linearGradient><linearGradient id="a108" gradientUnits="userSpaceOnUse" x1="829.6" y1="640.1" x2="875.6" y2="628.1"><stop stop-color="#00ff00"/><stop offset="1" stop-color="#00ff00"/></linearGradient><linearGradient id="a109" gradientUnits="userSpaceOnUse" x1="895.2" y1="590" x2="940.1" y2="582.4"><stop stop-color="#00ff00"/><stop offset="0.86" stop-color="#00ff00"/><stop offset="1" stop-color="#0cff00"/></linearGradient><linearGradient id="a110" gradientUnits="userSpaceOnUse" x1="1120.5" y1="473.5" x2="1144.7" y2="489.4"><stop stop-color="#fffc00"/><stop offset="1" stop-color="#ffd200"/></linearGradient><linearGradient id="a111" gradientUnits="userSpaceOnUse" x1="1433.6" y1="447.1" x2="1433.1" y2="451.3"><stop stop-color="#ff8800"/><stop offset="1" stop-color="#ff6f00"/></linearGradient><linearGradient id="a112" gradientUnits="userSpaceOnUse" x1="1167.4" y1="462" x2="1183.4" y2="478.3"><stop stop-color="#ffd200"/><stop offset="1" stop-color="#ffb000"/></linearGradient><linearGradient id="a113" gradientUnits="userSpaceOnUse" x1="1004.4" y1="524.4" x2="1045.7" y2="527"><stop stop-color="#7aff00"/><stop offset="1" stop-color="#b7ff00"/></linearGradient><linearGradient id="a114" gradientUnits="userSpaceOnUse" x1="1390.5" y1="444.5" x2="1390.3" y2="449.7"><stop stop-color="#ff8000"/><stop offset="1" stop-color="#ff6900"/></linearGradient><linearGradient id="a115" gradientUnits="userSpaceOnUse" x1="1214.1" y1="454.3" x2="1222.6" y2="467.9"><stop stop-color="#ffb000"/><stop offset="1" stop-color="#ff9600"/></linearGradient><linearGradient id="a116" gradientUnits="userSpaceOnUse" x1="1347.2" y1="444.1" x2="1347.6" y2="450.4"><stop stop-color="#ff7f00"/><stop offset="1" stop-color="#ff6b00"/></linearGradient><linearGradient id="a117" gradientUnits="userSpaceOnUse" x1="1259.6" y1="449.8" x2="1263" y2="458.9"><stop stop-color="#ff9600"/><stop offset="1" stop-color="#ff8300"/></linearGradient><linearGradient id="a118" gradientUnits="userSpaceOnUse" x1="1303.7" y1="446.2" x2="1305" y2="453.1"><stop stop-color="#ff8600"/><stop offset="1" stop-color="#ff7400"/></linearGradient><linearGradient id="a119" gradientUnits="userSpaceOnUse" x1="1542.9" y1="464.6" x2="1542.3" y2="467"><stop stop-color="#ffac00"/><stop offset="1" stop-color="#ff8f00"/></linearGradient><linearGradient id="a120" gradientUnits="userSpaceOnUse" x1="937.6" y1="566.5" x2="982.3" y2="560"><stop stop-color="#0cff00"/><stop offset="1" stop-color="#55ff00"/></linearGradient><linearGradient id="a121" gradientUnits="userSpaceOnUse" x1="806.2" y1="666.1" x2="852.8" y2="651"><stop stop-color="#00ff00"/><stop offset="1" stop-color="#00ff00"/></linearGradient><linearGradient id="a122" gradientUnits="userSpaceOnUse" x1="1048.3" y1="505.3" x2="1087.3" y2="511.8"><stop stop-color="#b7ff00"/><stop offset="1" stop-color="#edff00"/></linearGradient><linearGradient id="a123" gradientUnits="userSpaceOnUse" x1="871.8" y1="613.5" x2="917.7" y2="601.6"><stop stop-color="#00ff00"/><stop offset="1" stop-color="#00ff00"/></linearGradient><linearGradient id="a124" gradientUnits="userSpaceOnUse" x1="1500" y1="456.8" x2="1499.3" y2="460.2"><stop stop-color="#ff9300"/><stop offset="1" stop-color="#ff7900"/></linearGradient><linearGradient id="a125" gradientUnits="userSpaceOnUse" x1="1093.2" y1="487.9" x2="1128.1" y2="499.1"><stop stop-color="#edff00"/><stop offset="0.4" stop-color="#ffff00"/><stop offset="1" stop-color="#ffe300"/></linearGradient><linearGradient id="a126" gradientUnits="userSpaceOnUse" x1="980.4" y1="544.7" x2="1024.8" y2="540.1"><stop stop-color="#55ff00"/><stop offset="1" stop-color="#97ff00"/></linearGradient><linearGradient id="a127" gradientUnits="userSpaceOnUse" x1="1456.9" y1="451.1" x2="1456.2" y2="455.7"><stop stop-color="#ff8100"/><stop offset="1" stop-color="#ff6900"/></linearGradient><linearGradient id="a128" gradientUnits="userSpaceOnUse" x1="782.8" y1="693.3" x2="829.7" y2="675.6"><stop stop-color="#00f500"/><stop offset="0.31" stop-color="#00ff00"/><stop offset="1" stop-color="#00ff00"/></linearGradient><linearGradient id="a129" gradientUnits="userSpaceOnUse" x1="1139.7" y1="473" x2="1167.8" y2="488.5"><stop stop-color="#ffe300"/><stop offset="1" stop-color="#ffbc00"/></linearGradient><linearGradient id="a130" gradientUnits="userSpaceOnUse" x1="1413.5" y1="447.8" x2="1413.1" y2="453.4"><stop stop-color="#ff7600"/><stop offset="1" stop-color="#ff6100"/></linearGradient><linearGradient id="a131" gradientUnits="userSpaceOnUse" x1="914.4" y1="588.9" x2="960" y2="577.2"><stop stop-color="#00ff00"/><stop offset="0.43" stop-color="#00ff00"/><stop offset="1" stop-color="#2dff00"/></linearGradient><linearGradient id="a132" gradientUnits="userSpaceOnUse" x1="848.6" y1="638.3" x2="894.8" y2="622.6"><stop stop-color="#00ff00"/><stop offset="1" stop-color="#00ff00"/></linearGradient><linearGradient id="a133" gradientUnits="userSpaceOnUse" x1="1187.5" y1="461.5" x2="1206.3" y2="478.7"><stop stop-color="#ffbc00"/><stop offset="1" stop-color="#ff9d00"/></linearGradient><linearGradient id="a134" gradientUnits="userSpaceOnUse" x1="1566.9" y1="470.8" x2="1566.1" y2="473.8"><stop stop-color="#ffad00"/><stop offset="1" stop-color="#ff8e00"/></linearGradient><linearGradient id="a135" gradientUnits="userSpaceOnUse" x1="1369.9" y1="446.6" x2="1370.1" y2="453.4"><stop stop-color="#ff7300"/><stop offset="1" stop-color="#ff6000"/></linearGradient><linearGradient id="a136" gradientUnits="userSpaceOnUse" x1="1235.3" y1="454.4" x2="1244.9" y2="469.1"><stop stop-color="#ff9d00"/><stop offset="1" stop-color="#ff8500"/></linearGradient><linearGradient id="a137" gradientUnits="userSpaceOnUse" x1="1023.7" y1="524.6" x2="1067.3" y2="522.8"><stop stop-color="#97ff00"/><stop offset="1" stop-color="#d2ff00"/></linearGradient><linearGradient id="a138" gradientUnits="userSpaceOnUse" x1="1326.1" y1="447.9" x2="1327.3" y2="455.4"><stop stop-color="#ff7700"/><stop offset="1" stop-color="#ff6700"/></linearGradient><linearGradient id="a139" gradientUnits="userSpaceOnUse" x1="1281.7" y1="450.9" x2="1285.1" y2="460.4"><stop stop-color="#ff8500"/><stop offset="1" stop-color="#ff7400"/></linearGradient><linearGradient id="a140" gradientUnits="userSpaceOnUse" x1="1523.8" y1="462.3" x2="1522.9" y2="466"><stop stop-color="#ff9000"/><stop offset="1" stop-color="#ff7700"/></linearGradient><linearGradient id="a141" gradientUnits="userSpaceOnUse" x1="1067.4" y1="505.9" x2="1109.6" y2="508.3"><stop stop-color="#d2ff00"/><stop offset="0.87" stop-color="#ffff00"/><stop offset="1" stop-color="#fff800"/></linearGradient><linearGradient id="a142" gradientUnits="userSpaceOnUse" x1="957.2" y1="566.1" x2="1002.6" y2="555.2"><stop stop-color="#2dff00"/><stop offset="1" stop-color="#74ff00"/></linearGradient><linearGradient id="a143" gradientUnits="userSpaceOnUse" x1="825.3" y1="664.2" x2="871.7" y2="645.5"><stop stop-color="#00ff00"/><stop offset="1" stop-color="#00ff00"/></linearGradient><linearGradient id="a144" gradientUnits="userSpaceOnUse" x1="891.3" y1="612.3" x2="937.2" y2="596.4"><stop stop-color="#00ff00"/><stop offset="1" stop-color="#00ff00"/></linearGradient><linearGradient id="a145" gradientUnits="userSpaceOnUse" x1="1480.4" y1="455.9" x2="1479.5" y2="460.7"><stop stop-color="#ff7c00"/><stop offset="1" stop-color="#ff6500"/></linearGradient><linearGradient id="a146" gradientUnits="userSpaceOnUse" x1="1112.2" y1="488.8" x2="1151.3" y2="496.7"><stop stop-color="#fff800"/><stop offset="1" stop-color="#ffcd00"/></linearGradient><linearGradient id="a147" gradientUnits="userSpaceOnUse" x1="1436.8" y1="451.7" x2="1436.2" y2="457.7"><stop stop-color="#ff6f00"/><stop offset="1" stop-color="#ff5b00"/></linearGradient><linearGradient id="a148" gradientUnits="userSpaceOnUse" x1="1000.3" y1="545" x2="1045.5" y2="535.7"><stop stop-color="#74ff00"/><stop offset="1" stop-color="#b3ff00"/></linearGradient><linearGradient id="a149" gradientUnits="userSpaceOnUse" x1="1591.3" y1="477.6" x2="1590.1" y2="481.2"><stop stop-color="#ffb000"/><stop offset="1" stop-color="#ff9000"/></linearGradient><linearGradient id="a150" gradientUnits="userSpaceOnUse" x1="1158.8" y1="473.6" x2="1191.5" y2="487.6"><stop stop-color="#ffcc00"/><stop offset="1" stop-color="#ffa800"/></linearGradient><linearGradient id="a151" gradientUnits="userSpaceOnUse" x1="1393" y1="449.8" x2="1392.9" y2="457"><stop stop-color="#ff6900"/><stop offset="1" stop-color="#ff5800"/></linearGradient><linearGradient id="a152" gradientUnits="userSpaceOnUse" x1="801.9" y1="691.4" x2="848.4" y2="670.3"><stop stop-color="#00ff00"/><stop offset="1" stop-color="#00ff00"/></linearGradient><linearGradient id="a153" gradientUnits="userSpaceOnUse" x1="1207.5" y1="461.8" x2="1229.8" y2="479.6"><stop stop-color="#ffa800"/><stop offset="1" stop-color="#ff8b00"/></linearGradient><linearGradient id="a154" gradientUnits="userSpaceOnUse" x1="1348.8" y1="450.3" x2="1349.9" y2="458.4"><stop stop-color="#ff6b00"/><stop offset="1" stop-color="#ff5c00"/></linearGradient><linearGradient id="a155" gradientUnits="userSpaceOnUse" x1="934.3" y1="588.4" x2="979.8" y2="572.5"><stop stop-color="#00ff00"/><stop offset="0.01" stop-color="#00ff00"/><stop offset="1" stop-color="#4bff00"/></linearGradient><linearGradient id="a156" gradientUnits="userSpaceOnUse" x1="1256.7" y1="455.1" x2="1267.6" y2="470.9"><stop stop-color="#ff8b00"/><stop offset="1" stop-color="#ff7500"/></linearGradient><linearGradient id="a157" gradientUnits="userSpaceOnUse" x1="1304.1" y1="452.7" x2="1307.5" y2="462.5"><stop stop-color="#ff7500"/><stop offset="1" stop-color="#ff6700"/></linearGradient><linearGradient id="a158" gradientUnits="userSpaceOnUse" x1="868.2" y1="636.9" x2="914" y2="617.6"><stop stop-color="#00ff00"/><stop offset="1" stop-color="#00ff00"/></linearGradient><linearGradient id="a159" gradientUnits="userSpaceOnUse" x1="1547.9" y1="468.4" x2="1546.7" y2="472.6"><stop stop-color="#ff9000"/><stop offset="1" stop-color="#ff7700"/></linearGradient><linearGradient id="a160" gradientUnits="userSpaceOnUse" x1="1043.7" y1="525.6" x2="1088.6" y2="518.9"><stop stop-color="#b3ff00"/><stop offset="1" stop-color="#ecff00"/></linearGradient><linearGradient id="a161" gradientUnits="userSpaceOnUse" x1="1504.3" y1="461.3" x2="1503.1" y2="466.3"><stop stop-color="#ff7800"/><stop offset="1" stop-color="#ff6400"/></linearGradient><linearGradient id="a162" gradientUnits="userSpaceOnUse" x1="1087.4" y1="507.7" x2="1131.7" y2="504.9"><stop stop-color="#ecff00"/><stop offset="0.39" stop-color="#ffff00"/><stop offset="1" stop-color="#ffe100"/></linearGradient><linearGradient id="a163" gradientUnits="userSpaceOnUse" x1="977.6" y1="566.2" x2="1022.7" y2="551"><stop stop-color="#4bff00"/><stop offset="1" stop-color="#90ff00"/></linearGradient><linearGradient id="a164" gradientUnits="userSpaceOnUse" x1="1616" y1="485" x2="1614.4" y2="489.3"><stop stop-color="#ffb600"/><stop offset="1" stop-color="#ff9300"/></linearGradient><linearGradient id="a165" gradientUnits="userSpaceOnUse" x1="844.9" y1="662.7" x2="890.7" y2="640.7"><stop stop-color="#00ff00"/><stop offset="1" stop-color="#00ff00"/></linearGradient><linearGradient id="a166" gradientUnits="userSpaceOnUse" x1="1460.5" y1="456.3" x2="1459.5" y2="462.6"><stop stop-color="#ff6900"/><stop offset="1" stop-color="#ff5700"/></linearGradient><linearGradient id="a167" gradientUnits="userSpaceOnUse" x1="911.4" y1="611.6" x2="956.6" y2="591.9"><stop stop-color="#00ff00"/><stop offset="0.62" stop-color="#00ff00"/><stop offset="1" stop-color="#1fff00"/></linearGradient><linearGradient id="a168" gradientUnits="userSpaceOnUse" x1="1131.9" y1="491" x2="1174.4" y2="494.1"><stop stop-color="#ffe100"/><stop offset="1" stop-color="#ffb800"/></linearGradient><linearGradient id="a169" gradientUnits="userSpaceOnUse" x1="1416.4" y1="453.6" x2="1416" y2="461.2"><stop stop-color="#ff6100"/><stop offset="1" stop-color="#ff5100"/></linearGradient><linearGradient id="a170" gradientUnits="userSpaceOnUse" x1="1178.1" y1="475.6" x2="1215.6" y2="486.6"><stop stop-color="#ffb800"/><stop offset="1" stop-color="#ff9600"/></linearGradient><linearGradient id="a171" gradientUnits="userSpaceOnUse" x1="1021.1" y1="546" x2="1066" y2="531.8"><stop stop-color="#90ff00"/><stop offset="1" stop-color="#cdff00"/></linearGradient><linearGradient id="a172" gradientUnits="userSpaceOnUse" x1="1371.9" y1="453.3" x2="1372.7" y2="461.9"><stop stop-color="#ff6000"/><stop offset="1" stop-color="#ff5300"/></linearGradient><linearGradient id="a173" gradientUnits="userSpaceOnUse" x1="1227.4" y1="463" x2="1254" y2="480.7"><stop stop-color="#ff9600"/><stop offset="1" stop-color="#ff7b00"/></linearGradient><linearGradient id="a174" gradientUnits="userSpaceOnUse" x1="1572.4" y1="474.9" x2="1570.7" y2="480.1"><stop stop-color="#ff9300"/><stop offset="1" stop-color="#ff7700"/></linearGradient><linearGradient id="a175" gradientUnits="userSpaceOnUse" x1="1326.8" y1="455.2" x2="1330.1" y2="465.1"><stop stop-color="#ff6800"/><stop offset="1" stop-color="#ff5c00"/></linearGradient><linearGradient id="a176" gradientUnits="userSpaceOnUse" x1="1278.3" y1="456.3" x2="1290.8" y2="473.4"><stop stop-color="#ff7b00"/><stop offset="1" stop-color="#ff6800"/></linearGradient><linearGradient id="a177" gradientUnits="userSpaceOnUse" x1="821.5" y1="689.9" x2="867.2" y2="665.6"><stop stop-color="#00ff00"/><stop offset="1" stop-color="#00ff00"/></linearGradient><linearGradient id="a178" gradientUnits="userSpaceOnUse" x1="955" y1="588.3" x2="999.5" y2="568.5"><stop stop-color="#1fff00"/><stop offset="1" stop-color="#68ff00"/></linearGradient><linearGradient id="a179" gradientUnits="userSpaceOnUse" x1="1064.7" y1="527.5" x2="1109.5" y2="515.3"><stop stop-color="#cdff00"/><stop offset="0.92" stop-color="#ffff00"/><stop offset="1" stop-color="#fffb00"/></linearGradient><linearGradient id="a180" gradientUnits="userSpaceOnUse" x1="888.4" y1="636.1" x2="933.2" y2="613.3"><stop stop-color="#00ff00"/><stop offset="1" stop-color="#00ff00"/></linearGradient><linearGradient id="a181" gradientUnits="userSpaceOnUse" x1="1528.5" y1="467.4" x2="1527" y2="472.8"><stop stop-color="#ff7800"/><stop offset="1" stop-color="#ff6300"/></linearGradient><linearGradient id="a182" gradientUnits="userSpaceOnUse" x1="1108.4" y1="510.4" x2="1153.3" y2="501.7"><stop stop-color="#fffb00"/><stop offset="1" stop-color="#ffcc00"/></linearGradient><linearGradient id="a183" gradientUnits="userSpaceOnUse" x1="1484.5" y1="461.7" x2="1483.1" y2="468.1"><stop stop-color="#ff6500"/><stop offset="1" stop-color="#ff5500"/></linearGradient><linearGradient id="a184" gradientUnits="userSpaceOnUse" x1="998.8" y1="566.9" x2="1042.7" y2="547.3"><stop stop-color="#68ff00"/><stop offset="1" stop-color="#abff00"/></linearGradient><linearGradient id="a185" gradientUnits="userSpaceOnUse" x1="1152.5" y1="494.5" x2="1197.1" y2="491.4"><stop stop-color="#ffcc00"/><stop offset="1" stop-color="#ffa500"/></linearGradient><linearGradient id="a186" gradientUnits="userSpaceOnUse" x1="1440.1" y1="458.1" x2="1439.3" y2="466"><stop stop-color="#ff5b00"/><stop offset="1" stop-color="#ff4d00"/></linearGradient><linearGradient id="a187" gradientUnits="userSpaceOnUse" x1="1597.2" y1="482.1" x2="1595" y2="488.2"><stop stop-color="#ff9800"/><stop offset="1" stop-color="#ff7a00"/></linearGradient><linearGradient id="a188" gradientUnits="userSpaceOnUse" x1="932.2" y1="611.4" x2="976" y2="588.1"><stop stop-color="#00ff00"/><stop offset="0.24" stop-color="#00ff00"/><stop offset="1" stop-color="#3cff00"/></linearGradient><linearGradient id="a189" gradientUnits="userSpaceOnUse" x1="865.1" y1="661.8" x2="909.7" y2="636.5"><stop stop-color="#00ff00"/><stop offset="1" stop-color="#00ff00"/></linearGradient><linearGradient id="a190" gradientUnits="userSpaceOnUse" x1="1197.9" y1="479.2" x2="1239.8" y2="485.1"><stop stop-color="#ffa500"/><stop offset="1" stop-color="#ff8500"/></linearGradient><linearGradient id="a191" gradientUnits="userSpaceOnUse" x1="1395.4" y1="456.9" x2="1395.8" y2="466.1"><stop stop-color="#ff5800"/><stop offset="1" stop-color="#ff4c00"/></linearGradient><linearGradient id="a192" gradientUnits="userSpaceOnUse" x1="1247" y1="465.4" x2="1279" y2="481.7"><stop stop-color="#ff8500"/><stop offset="1" stop-color="#ff6d00"/></linearGradient><linearGradient id="a193" gradientUnits="userSpaceOnUse" x1="1349.9" y1="458.4" x2="1352.9" y2="468.2"><stop stop-color="#ff5c00"/><stop offset="1" stop-color="#ff5300"/></linearGradient><linearGradient id="a194" gradientUnits="userSpaceOnUse" x1="1299.9" y1="458.1" x2="1314.6" y2="476.5"><stop stop-color="#ff6d00"/><stop offset="1" stop-color="#ff5c00"/></linearGradient><linearGradient id="a195" gradientUnits="userSpaceOnUse" x1="1042.7" y1="547.4" x2="1086.2" y2="528.6"><stop stop-color="#abff00"/><stop offset="1" stop-color="#e6ff00"/></linearGradient><linearGradient id="a196" gradientUnits="userSpaceOnUse" x1="1553.1" y1="473.6" x2="1551" y2="480.3"><stop stop-color="#ff7a00"/><stop offset="1" stop-color="#ff6300"/></linearGradient><linearGradient id="a197" gradientUnits="userSpaceOnUse" x1="1086.7" y1="529.8" x2="1130.1" y2="512.4"><stop stop-color="#e6ff00"/><stop offset="0.49" stop-color="#ffff00"/><stop offset="1" stop-color="#ffe500"/></linearGradient><linearGradient id="a198" gradientUnits="userSpaceOnUse" x1="976.3" y1="588.6" x2="1019.1" y2="565.1"><stop stop-color="#3cff00"/><stop offset="1" stop-color="#83ff00"/></linearGradient><linearGradient id="a199" gradientUnits="userSpaceOnUse" x1="841.6" y1="688.8" x2="886.1" y2="661.6"><stop stop-color="#00ff00"/><stop offset="1" stop-color="#00ff00"/></linearGradient><linearGradient id="a200" gradientUnits="userSpaceOnUse" x1="1508.7" y1="467.7" x2="1507" y2="474.3"><stop stop-color="#ff6400"/><stop offset="1" stop-color="#ff5400"/></linearGradient><linearGradient id="a201" gradientUnits="userSpaceOnUse" x1="909.2" y1="635.6" x2="952.5" y2="609.6"><stop stop-color="#00ff00"/><stop offset="0.86" stop-color="#00ff00"/><stop offset="1" stop-color="#0bff00"/></linearGradient><linearGradient id="a202" gradientUnits="userSpaceOnUse" x1="1130.6" y1="513.8" x2="1174.4" y2="499"><stop stop-color="#ffe500"/><stop offset="1" stop-color="#ffb900"/></linearGradient><linearGradient id="a203" gradientUnits="userSpaceOnUse" x1="1464.2" y1="463.4" x2="1462.9" y2="471.4"><stop stop-color="#ff5700"/><stop offset="1" stop-color="#ff4a00"/></linearGradient><linearGradient id="a204" gradientUnits="userSpaceOnUse" x1="1020.7" y1="567.9" x2="1062.5" y2="544.5"><stop stop-color="#83ff00"/><stop offset="1" stop-color="#c3ff00"/></linearGradient><linearGradient id="a205" gradientUnits="userSpaceOnUse" x1="1174.5" y1="499.1" x2="1219.1" y2="488.9"><stop stop-color="#ffb900"/><stop offset="1" stop-color="#ff9400"/></linearGradient><linearGradient id="a206" gradientUnits="userSpaceOnUse" x1="1419.2" y1="461.3" x2="1419.1" y2="470.9"><stop stop-color="#ff5100"/><stop offset="1" stop-color="#ff4700"/></linearGradient><linearGradient id="a207" gradientUnits="userSpaceOnUse" x1="1218.9" y1="484.6" x2="1263.5" y2="483"><stop stop-color="#ff9400"/><stop offset="1" stop-color="#ff7700"/></linearGradient><linearGradient id="a208" gradientUnits="userSpaceOnUse" x1="1373.3" y1="461.9" x2="1376.1" y2="472.2"><stop stop-color="#ff5300"/><stop offset="1" stop-color="#ff4c00"/></linearGradient><linearGradient id="a209" gradientUnits="userSpaceOnUse" x1="1578.2" y1="480.5" x2="1575.1" y2="488.5"><stop stop-color="#ff7f00"/><stop offset="1" stop-color="#ff6600"/></linearGradient><linearGradient id="a210" gradientUnits="userSpaceOnUse" x1="1266.6" y1="469.7" x2="1304.8" y2="482.2"><stop stop-color="#ff7700"/><stop offset="1" stop-color="#ff6100"/></linearGradient><linearGradient id="a211" gradientUnits="userSpaceOnUse" x1="1321.4" y1="460.6" x2="1339" y2="480.2"><stop stop-color="#ff6100"/><stop offset="1" stop-color="#ff5300"/></linearGradient><linearGradient id="a212" gradientUnits="userSpaceOnUse" x1="953.6" y1="611.4" x2="995.5" y2="585"><stop stop-color="#0bff00"/><stop offset="1" stop-color="#58ff00"/></linearGradient><linearGradient id="a213" gradientUnits="userSpaceOnUse" x1="885.8" y1="661.2" x2="928.8" y2="633.1"><stop stop-color="#00ff00"/><stop offset="1" stop-color="#00ff00"/></linearGradient><linearGradient id="a214" gradientUnits="userSpaceOnUse" x1="1065.2" y1="549.2" x2="1106.3" y2="526.2"><stop stop-color="#c3ff00"/><stop offset="1" stop-color="#fcff00"/></linearGradient><linearGradient id="a215" gradientUnits="userSpaceOnUse" x1="1533.6" y1="473.7" x2="1530.9" y2="482"><stop stop-color="#ff6600"/><stop offset="1" stop-color="#ff5400"/></linearGradient><linearGradient id="a216" gradientUnits="userSpaceOnUse" x1="1109.7" y1="532.4" x2="1150.4" y2="510.4"><stop stop-color="#fcff00"/><stop offset="0.07" stop-color="#ffff00"/><stop offset="1" stop-color="#ffd100"/></linearGradient><linearGradient id="a217" gradientUnits="userSpaceOnUse" x1="998.3" y1="589.3" x2="1038.8" y2="562.6"><stop stop-color="#58ff00"/><stop offset="1" stop-color="#9dff00"/></linearGradient><linearGradient id="a218" gradientUnits="userSpaceOnUse" x1="1488.6" y1="469.4" x2="1486.7" y2="477.4"><stop stop-color="#ff5500"/><stop offset="1" stop-color="#ff4900"/></linearGradient><linearGradient id="a219" gradientUnits="userSpaceOnUse" x1="862.2" y1="688.1" x2="905.1" y2="658.3"><stop stop-color="#00ff00"/><stop offset="1" stop-color="#00ff00"/></linearGradient><linearGradient id="a220" gradientUnits="userSpaceOnUse" x1="930.5" y1="635.5" x2="971.8" y2="606.7"><stop stop-color="#00ff00"/><stop offset="0.51" stop-color="#00ff00"/><stop offset="1" stop-color="#27ff00"/></linearGradient><linearGradient id="a221" gradientUnits="userSpaceOnUse" x1="1154" y1="517.5" x2="1194.9" y2="497.3"><stop stop-color="#ffd100"/><stop offset="1" stop-color="#ffa800"/></linearGradient><linearGradient id="a222" gradientUnits="userSpaceOnUse" x1="1443.4" y1="466.4" x2="1442.5" y2="476.2"><stop stop-color="#ff4d00"/><stop offset="1" stop-color="#ff4400"/></linearGradient><linearGradient id="a223" gradientUnits="userSpaceOnUse" x1="1198.1" y1="504.2" x2="1240.1" y2="487.1"><stop stop-color="#ffa800"/><stop offset="1" stop-color="#ff8500"/></linearGradient><linearGradient id="a224" gradientUnits="userSpaceOnUse" x1="1397" y1="466" x2="1399.4" y2="477.1"><stop stop-color="#ff4c00"/><stop offset="1" stop-color="#ff4600"/></linearGradient><linearGradient id="a225" gradientUnits="userSpaceOnUse" x1="1043.2" y1="569.2" x2="1082.4" y2="542.5"><stop stop-color="#9dff00"/><stop offset="1" stop-color="#daff00"/></linearGradient><linearGradient id="a226" gradientUnits="userSpaceOnUse" x1="1241.7" y1="491.4" x2="1285.9" y2="480.9"><stop stop-color="#ff8500"/><stop offset="1" stop-color="#ff6b00"/></linearGradient><linearGradient id="a227" gradientUnits="userSpaceOnUse" x1="1342.4" y1="463.8" x2="1364.6" y2="484.4"><stop stop-color="#ff5700"/><stop offset="1" stop-color="#ff4b00"/></linearGradient><linearGradient id="a228" gradientUnits="userSpaceOnUse" x1="1286.8" y1="476.7" x2="1330.5" y2="481.2"><stop stop-color="#ff6b00"/><stop offset="1" stop-color="#ff5700"/></linearGradient><linearGradient id="a229" gradientUnits="userSpaceOnUse" x1="1558.9" y1="480.2" x2="1554.8" y2="490.4"><stop stop-color="#ff6a00"/><stop offset="1" stop-color="#ff5600"/></linearGradient><linearGradient id="a230" gradientUnits="userSpaceOnUse" x1="975.5" y1="611.8" x2="1015.1" y2="582.7"><stop stop-color="#27ff00"/><stop offset="1" stop-color="#71ff00"/></linearGradient><linearGradient id="a231" gradientUnits="userSpaceOnUse" x1="1088.3" y1="551.1" x2="1126.3" y2="524.8"><stop stop-color="#daff00"/><stop offset="0.68" stop-color="#ffff00"/><stop offset="1" stop-color="#ffee00"/></linearGradient><linearGradient id="a232" gradientUnits="userSpaceOnUse" x1="907.1" y1="660.9" x2="948.1" y2="630.3"><stop stop-color="#00ff00"/><stop offset="1" stop-color="#00ff00"/></linearGradient><linearGradient id="a233" gradientUnits="userSpaceOnUse" x1="1513.7" y1="475.2" x2="1510.4" y2="485.1"><stop stop-color="#ff5600"/><stop offset="1" stop-color="#ff4900"/></linearGradient><linearGradient id="a234" gradientUnits="userSpaceOnUse" x1="1133.4" y1="535.2" x2="1170.5" y2="509.5"><stop stop-color="#ffee00"/><stop offset="1" stop-color="#ffbf00"/></linearGradient><linearGradient id="a235" gradientUnits="userSpaceOnUse" x1="1020.8" y1="590.2" x2="1058.5" y2="560.9"><stop stop-color="#71ff00"/><stop offset="1" stop-color="#b4ff00"/></linearGradient><linearGradient id="a236" gradientUnits="userSpaceOnUse" x1="1468.1" y1="472.4" x2="1466.2" y2="482.1"><stop stop-color="#ff4a00"/><stop offset="1" stop-color="#ff4300"/></linearGradient><linearGradient id="a237" gradientUnits="userSpaceOnUse" x1="1178.4" y1="521.2" x2="1215.1" y2="496.7"><stop stop-color="#ffbf00"/><stop offset="1" stop-color="#ff9800"/></linearGradient><linearGradient id="a238" gradientUnits="userSpaceOnUse" x1="1421.4" y1="470.8" x2="1422.9" y2="482.6"><stop stop-color="#ff4700"/><stop offset="1" stop-color="#ff4200"/></linearGradient><linearGradient id="a239" gradientUnits="userSpaceOnUse" x1="883.3" y1="687.8" x2="924.3" y2="655.7"><stop stop-color="#00ff00"/><stop offset="1" stop-color="#00ff00"/></linearGradient><linearGradient id="a240" gradientUnits="userSpaceOnUse" x1="952.3" y1="635.7" x2="991.3" y2="604.6"><stop stop-color="#00ff00"/><stop offset="0.17" stop-color="#00ff00"/><stop offset="1" stop-color="#42ff00"/></linearGradient><linearGradient id="a241" gradientUnits="userSpaceOnUse" x1="1223.1" y1="509.2" x2="1260.4" y2="486.6"><stop stop-color="#ff9800"/><stop offset="1" stop-color="#ff7800"/></linearGradient><linearGradient id="a242" gradientUnits="userSpaceOnUse" x1="1362" y1="468.6" x2="1392.1" y2="488.4"><stop stop-color="#ff4f00"/><stop offset="1" stop-color="#ff4600"/></linearGradient><linearGradient id="a243" gradientUnits="userSpaceOnUse" x1="1266.9" y1="498.5" x2="1306.6" y2="479.6"><stop stop-color="#ff7800"/><stop offset="1" stop-color="#ff6000"/></linearGradient><linearGradient id="a244" gradientUnits="userSpaceOnUse" x1="1309.6" y1="486.6" x2="1354.2" y2="478.6"><stop stop-color="#ff6000"/><stop offset="1" stop-color="#ff4f00"/></linearGradient><linearGradient id="a245" gradientUnits="userSpaceOnUse" x1="1066.3" y1="570.7" x2="1102.3" y2="541.5"><stop stop-color="#b4ff00"/><stop offset="1" stop-color="#efff00"/></linearGradient><linearGradient id="a246" gradientUnits="userSpaceOnUse" x1="1539.6" y1="481.1" x2="1533.9" y2="493.9"><stop stop-color="#ff5900"/><stop offset="1" stop-color="#ff4a00"/></linearGradient><linearGradient id="a247" gradientUnits="userSpaceOnUse" x1="997.9" y1="612.6" x2="1034.8" y2="581.2"><stop stop-color="#42ff00"/><stop offset="1" stop-color="#89ff00"/></linearGradient><linearGradient id="a248" gradientUnits="userSpaceOnUse" x1="1112" y1="553.3" x2="1146.3" y2="524.5"><stop stop-color="#efff00"/><stop offset="0.32" stop-color="#ffff00"/><stop offset="1" stop-color="#ffdc00"/></linearGradient><linearGradient id="a249" gradientUnits="userSpaceOnUse" x1="928.7" y1="661.1" x2="967.6" y2="628.4"><stop stop-color="#00ff00"/><stop offset="0.84" stop-color="#00ff00"/><stop offset="1" stop-color="#0dff00"/></linearGradient><linearGradient id="a250" gradientUnits="userSpaceOnUse" x1="1493.6" y1="478" x2="1489.5" y2="489.7"><stop stop-color="#ff4a00"/><stop offset="1" stop-color="#ff4200"/></linearGradient><linearGradient id="a251" gradientUnits="userSpaceOnUse" x1="1157.8" y1="538" x2="1190.6" y2="509.8"><stop stop-color="#ffdc00"/><stop offset="1" stop-color="#ffaf00"/></linearGradient><linearGradient id="a252" gradientUnits="userSpaceOnUse" x1="1446.5" y1="476.5" x2="1446.1" y2="488.6"><stop stop-color="#ff4400"/><stop offset="1" stop-color="#ff4000"/></linearGradient><linearGradient id="a253" gradientUnits="userSpaceOnUse" x1="1043.7" y1="591.5" x2="1078.5" y2="560.2"><stop stop-color="#89ff00"/><stop offset="1" stop-color="#c9ff00"/></linearGradient><linearGradient id="a254" gradientUnits="userSpaceOnUse" x1="1203.6" y1="524.8" x2="1235.2" y2="497.5"><stop stop-color="#ffaf00"/><stop offset="1" stop-color="#ff8b00"/></linearGradient><linearGradient id="a255" gradientUnits="userSpaceOnUse" x1="1379.6" y1="478.6" x2="1422.2" y2="488.5"><stop stop-color="#ff4900"/><stop offset="1" stop-color="#ff4200"/></linearGradient><linearGradient id="a256" gradientUnits="userSpaceOnUse" x1="1249.1" y1="513.9" x2="1280.2" y2="487.7"><stop stop-color="#ff8b00"/><stop offset="1" stop-color="#ff6d00"/></linearGradient><linearGradient id="a257" gradientUnits="userSpaceOnUse" x1="1337" y1="497" x2="1373.9" y2="476.9"><stop stop-color="#ff5700"/><stop offset="1" stop-color="#ff4900"/></linearGradient><linearGradient id="a258" gradientUnits="userSpaceOnUse" x1="1294" y1="504.9" x2="1326.1" y2="480.5"><stop stop-color="#ff6d00"/><stop offset="1" stop-color="#ff5700"/></linearGradient><linearGradient id="a259" gradientUnits="userSpaceOnUse" x1="974.5" y1="636.3" x2="1011" y2="603.4"><stop stop-color="#0dff00"/><stop offset="1" stop-color="#5aff00"/></linearGradient><linearGradient id="a260" gradientUnits="userSpaceOnUse" x1="904.9" y1="687.9" x2="943.8" y2="653.9"><stop stop-color="#00ff00"/><stop offset="1" stop-color="#00ff00"/></linearGradient><linearGradient id="a261" gradientUnits="userSpaceOnUse" x1="1089.9" y1="572.5" x2="1122.4" y2="541.5"><stop stop-color="#c9ff00"/><stop offset="0.95" stop-color="#ffff00"/><stop offset="1" stop-color="#fffc00"/></linearGradient><linearGradient id="a262" gradientUnits="userSpaceOnUse" x1="1136.2" y1="555.6" x2="1166.6" y2="525.2"><stop stop-color="#fffc00"/><stop offset="1" stop-color="#ffcb00"/></linearGradient><linearGradient id="a263" gradientUnits="userSpaceOnUse" x1="1520.9" y1="482.8" x2="1511.7" y2="499.5"><stop stop-color="#ff4d00"/><stop offset="1" stop-color="#ff4300"/></linearGradient><linearGradient id="a264" gradientUnits="userSpaceOnUse" x1="1020.7" y1="613.6" x2="1054.8" y2="580.7"><stop stop-color="#5aff00"/><stop offset="1" stop-color="#9fff00"/></linearGradient><linearGradient id="a265" gradientUnits="userSpaceOnUse" x1="950.8" y1="661.6" x2="987.3" y2="627.2"><stop stop-color="#00ff00"/><stop offset="0.53" stop-color="#00ff00"/><stop offset="1" stop-color="#26ff00"/></linearGradient><linearGradient id="a266" gradientUnits="userSpaceOnUse" x1="1182.6" y1="540.8" x2="1211" y2="511.3"><stop stop-color="#ffcb00"/><stop offset="1" stop-color="#ffa200"/></linearGradient><linearGradient id="a267" gradientUnits="userSpaceOnUse" x1="1473.3" y1="482.1" x2="1468.1" y2="496.1"><stop stop-color="#ff4300"/><stop offset="1" stop-color="#ff4000"/></linearGradient><linearGradient id="a268" gradientUnits="userSpaceOnUse" x1="1229.1" y1="528.3" x2="1255.5" y2="499.8"><stop stop-color="#ffa200"/><stop offset="1" stop-color="#ff7f00"/></linearGradient><linearGradient id="a269" gradientUnits="userSpaceOnUse" x1="1408.2" y1="499.7" x2="1441.9" y2="478.9"><stop stop-color="#ff4500"/><stop offset="1" stop-color="#ff4000"/></linearGradient><linearGradient id="a270" gradientUnits="userSpaceOnUse" x1="1067.1" y1="593" x2="1098.7" y2="560.4"><stop stop-color="#9fff00"/><stop offset="1" stop-color="#dcff00"/></linearGradient><linearGradient id="a271" gradientUnits="userSpaceOnUse" x1="1275.5" y1="518.1" x2="1300.3" y2="490.7"><stop stop-color="#ff7f00"/><stop offset="1" stop-color="#ff6400"/></linearGradient><linearGradient id="a272" gradientUnits="userSpaceOnUse" x1="1367.5" y1="504.4" x2="1391.2" y2="479.6"><stop stop-color="#ff5100"/><stop offset="1" stop-color="#ff4500"/></linearGradient><linearGradient id="a273" gradientUnits="userSpaceOnUse" x1="1321.8" y1="510.1" x2="1345.4" y2="483.9"><stop stop-color="#ff6400"/><stop offset="1" stop-color="#ff5100"/></linearGradient><linearGradient id="a274" gradientUnits="userSpaceOnUse" x1="997.2" y1="637.3" x2="1031" y2="602.9"><stop stop-color="#26ff00"/><stop offset="1" stop-color="#70ff00"/></linearGradient><linearGradient id="a275" gradientUnits="userSpaceOnUse" x1="926.8" y1="688.4" x2="963.5" y2="652.8"><stop stop-color="#00ff00"/><stop offset="1" stop-color="#00ff00"/></linearGradient><linearGradient id="a276" gradientUnits="userSpaceOnUse" x1="1113.8" y1="574.5" x2="1142.9" y2="542.5"><stop stop-color="#dcff00"/><stop offset="0.64" stop-color="#ffff00"/><stop offset="1" stop-color="#ffec00"/></linearGradient><linearGradient id="a277" gradientUnits="userSpaceOnUse" x1="1160.6" y1="558.1" x2="1187.2" y2="527"><stop stop-color="#ffec00"/><stop offset="1" stop-color="#ffbd00"/></linearGradient><linearGradient id="a278" gradientUnits="userSpaceOnUse" x1="1511" y1="485.9" x2="1480.1" y2="506.6"><stop stop-color="#ff4500"/><stop offset="1" stop-color="#ff4000"/></linearGradient><linearGradient id="a279" gradientUnits="userSpaceOnUse" x1="1043.8" y1="615.1" x2="1075" y2="581"><stop stop-color="#70ff00"/><stop offset="1" stop-color="#b3ff00"/></linearGradient><linearGradient id="a280" gradientUnits="userSpaceOnUse" x1="1207.6" y1="543.9" x2="1231.7" y2="513.9"><stop stop-color="#ffbd00"/><stop offset="1" stop-color="#ff9600"/></linearGradient><linearGradient id="a281" gradientUnits="userSpaceOnUse" x1="973.3" y1="662.5" x2="1007.3" y2="626.9"><stop stop-color="#00ff00"/><stop offset="0.23" stop-color="#00ff00"/><stop offset="1" stop-color="#3dff00"/></linearGradient><linearGradient id="a282" gradientUnits="userSpaceOnUse" x1="1254.8" y1="531.8" x2="1276.3" y2="503.3"><stop stop-color="#ff9600"/><stop offset="1" stop-color="#ff7600"/></linearGradient><linearGradient id="a283" gradientUnits="userSpaceOnUse" x1="1397.4" y1="508.7" x2="1409.7" y2="486.7"><stop stop-color="#ff4c00"/><stop offset="1" stop-color="#ff4200"/></linearGradient><linearGradient id="a284" gradientUnits="userSpaceOnUse" x1="1302" y1="522" x2="1321" y2="495.1"><stop stop-color="#ff7600"/><stop offset="1" stop-color="#ff5d00"/></linearGradient><linearGradient id="a285" gradientUnits="userSpaceOnUse" x1="1349.5" y1="514.4" x2="1365.6" y2="489.5"><stop stop-color="#ff5d00"/><stop offset="1" stop-color="#ff4c00"/></linearGradient><linearGradient id="a286" gradientUnits="userSpaceOnUse" x1="1090.8" y1="594.9" x2="1119.3" y2="561.5"><stop stop-color="#b3ff00"/><stop offset="1" stop-color="#eeff00"/></linearGradient><linearGradient id="a287" gradientUnits="userSpaceOnUse" x1="1020.2" y1="638.7" x2="1051.3" y2="603.3"><stop stop-color="#3dff00"/><stop offset="1" stop-color="#84ff00"/></linearGradient><linearGradient id="a288" gradientUnits="userSpaceOnUse" x1="1137.9" y1="576.8" x2="1163.7" y2="544.4"><stop stop-color="#eeff00"/><stop offset="0.33" stop-color="#ffff00"/><stop offset="1" stop-color="#ffdd00"/></linearGradient><linearGradient id="a289" gradientUnits="userSpaceOnUse" x1="949.1" y1="689.4" x2="983.4" y2="652.6"><stop stop-color="#00ff00"/><stop offset="0.94" stop-color="#00ff00"/><stop offset="1" stop-color="#05ff00"/></linearGradient><linearGradient id="a290" gradientUnits="userSpaceOnUse" x1="1185.3" y1="560.9" x2="1208.3" y2="529.7"><stop stop-color="#ffdd00"/><stop offset="1" stop-color="#ffb000"/></linearGradient><linearGradient id="a291" gradientUnits="userSpaceOnUse" x1="1474.6" y1="510.5" x2="1474.3" y2="495.5"><stop stop-color="#ff4400"/><stop offset="1" stop-color="#ff4100"/></linearGradient><linearGradient id="a292" gradientUnits="userSpaceOnUse" x1="1232.8" y1="547.1" x2="1253" y2="517.6"><stop stop-color="#ffb000"/><stop offset="1" stop-color="#ff8b00"/></linearGradient><linearGradient id="a293" gradientUnits="userSpaceOnUse" x1="1067.3" y1="616.9" x2="1095.7" y2="582.2"><stop stop-color="#84ff00"/><stop offset="1" stop-color="#c4ff00"/></linearGradient><linearGradient id="a294" gradientUnits="userSpaceOnUse" x1="1425.4" y1="512.1" x2="1430.8" y2="496.1"><stop stop-color="#ff4900"/><stop offset="1" stop-color="#ff4200"/></linearGradient><linearGradient id="a295" gradientUnits="userSpaceOnUse" x1="1280.5" y1="535.5" x2="1297.7" y2="508"><stop stop-color="#ff8b00"/><stop offset="1" stop-color="#ff6e00"/></linearGradient><linearGradient id="a296" gradientUnits="userSpaceOnUse" x1="1376.6" y1="518.5" x2="1386.9" y2="496.7"><stop stop-color="#ff5800"/><stop offset="1" stop-color="#ff4900"/></linearGradient><linearGradient id="a297" gradientUnits="userSpaceOnUse" x1="1328.4" y1="526" x2="1342.4" y2="500.9"><stop stop-color="#ff6e00"/><stop offset="1" stop-color="#ff5800"/></linearGradient><linearGradient id="a298" gradientUnits="userSpaceOnUse" x1="996.1" y1="663.9" x2="1027.6" y2="627.4"><stop stop-color="#05ff00"/><stop offset="1" stop-color="#52ff00"/></linearGradient><linearGradient id="a299" gradientUnits="userSpaceOnUse" x1="1114.7" y1="597.1" x2="1140.2" y2="563.5"><stop stop-color="#c4ff00"/><stop offset="1" stop-color="#fdff00"/></linearGradient><linearGradient id="a300" gradientUnits="userSpaceOnUse" x1="1162.3" y1="579.5" x2="1184.9" y2="547.2"><stop stop-color="#fdff00"/><stop offset="0.04" stop-color="#ffff00"/><stop offset="1" stop-color="#ffd000"/></linearGradient><linearGradient id="a301" gradientUnits="userSpaceOnUse" x1="1043.5" y1="640.5" x2="1072" y2="604.6"><stop stop-color="#52ff00"/><stop offset="1" stop-color="#97ff00"/></linearGradient><linearGradient id="a302" gradientUnits="userSpaceOnUse" x1="971.8" y1="690.7" x2="1003.8" y2="653.1"><stop stop-color="#00ff00"/><stop offset="0.68" stop-color="#00ff00"/><stop offset="1" stop-color="#1aff00"/></linearGradient><linearGradient id="a303" gradientUnits="userSpaceOnUse" x1="1210.2" y1="564.1" x2="1229.8" y2="533.5"><stop stop-color="#ffd000"/><stop offset="1" stop-color="#ffa600"/></linearGradient><linearGradient id="a304" gradientUnits="userSpaceOnUse" x1="1451.6" y1="518.9" x2="1454.4" y2="503.5"><stop stop-color="#ff4a00"/><stop offset="1" stop-color="#ff4200"/></linearGradient><linearGradient id="a305" gradientUnits="userSpaceOnUse" x1="1258.2" y1="550.8" x2="1274.7" y2="522.2"><stop stop-color="#ffa600"/><stop offset="1" stop-color="#ff8300"/></linearGradient><linearGradient id="a306" gradientUnits="userSpaceOnUse" x1="1403.2" y1="522.9" x2="1409.4" y2="505"><stop stop-color="#ff5500"/><stop offset="1" stop-color="#ff4800"/></linearGradient><linearGradient id="a307" gradientUnits="userSpaceOnUse" x1="1306.3" y1="539.6" x2="1319.7" y2="513.6"><stop stop-color="#ff8300"/><stop offset="1" stop-color="#ff6800"/></linearGradient><linearGradient id="a308" gradientUnits="userSpaceOnUse" x1="1091.1" y1="619.1" x2="1116.7" y2="584.2"><stop stop-color="#97ff00"/><stop offset="1" stop-color="#d4ff00"/></linearGradient><linearGradient id="a309" gradientUnits="userSpaceOnUse" x1="1354.6" y1="530.4" x2="1364.7" y2="507.8"><stop stop-color="#ff6800"/><stop offset="1" stop-color="#ff5500"/></linearGradient><linearGradient id="a310" gradientUnits="userSpaceOnUse" x1="1019.3" y1="665.7" x2="1048.3" y2="628.6"><stop stop-color="#1aff00"/><stop offset="1" stop-color="#64ff00"/></linearGradient><linearGradient id="a311" gradientUnits="userSpaceOnUse" x1="1138.9" y1="599.8" x2="1161.5" y2="566.3"><stop stop-color="#d4ff00"/><stop offset="0.79" stop-color="#ffff00"/><stop offset="1" stop-color="#fff300"/></linearGradient><linearGradient id="a312" gradientUnits="userSpaceOnUse" x1="1187" y1="582.7" x2="1206.6" y2="550.9"><stop stop-color="#fff300"/><stop offset="1" stop-color="#ffc400"/></linearGradient><linearGradient id="a313" gradientUnits="userSpaceOnUse" x1="1067" y1="642.7" x2="1093" y2="606.6"><stop stop-color="#64ff00"/><stop offset="1" stop-color="#a7ff00"/></linearGradient><linearGradient id="a314" gradientUnits="userSpaceOnUse" x1="1235.2" y1="567.7" x2="1251.8" y2="538.1"><stop stop-color="#ffc400"/><stop offset="1" stop-color="#ff9d00"/></linearGradient><linearGradient id="a315" gradientUnits="userSpaceOnUse" x1="994.8" y1="692.6" x2="1024.4" y2="654.4"><stop stop-color="#00ff00"/><stop offset="0.42" stop-color="#00ff00"/><stop offset="1" stop-color="#2eff00"/></linearGradient><linearGradient id="a316" gradientUnits="userSpaceOnUse" x1="1429.2" y1="529.1" x2="1433.2" y2="512.9"><stop stop-color="#ff5400"/><stop offset="1" stop-color="#ff4900"/></linearGradient><linearGradient id="a317" gradientUnits="userSpaceOnUse" x1="1283.6" y1="554.9" x2="1297.1" y2="527.8"><stop stop-color="#ff9d00"/><stop offset="1" stop-color="#ff7d00"/></linearGradient><linearGradient id="a318" gradientUnits="userSpaceOnUse" x1="1380.7" y1="535.2" x2="1387.7" y2="515.5"><stop stop-color="#ff6400"/><stop offset="1" stop-color="#ff5300"/></linearGradient><linearGradient id="a319" gradientUnits="userSpaceOnUse" x1="1332.1" y1="544.1" x2="1342.4" y2="520.2"><stop stop-color="#ff7d00"/><stop offset="1" stop-color="#ff6400"/></linearGradient><linearGradient id="a320" gradientUnits="userSpaceOnUse" x1="1115.1" y1="621.8" x2="1138.1" y2="587.1"><stop stop-color="#a7ff00"/><stop offset="1" stop-color="#e2ff00"/></linearGradient><linearGradient id="a321" gradientUnits="userSpaceOnUse" x1="1042.7" y1="668" x2="1069.3" y2="630.7"><stop stop-color="#2eff00"/><stop offset="1" stop-color="#75ff00"/></linearGradient><linearGradient id="a322" gradientUnits="userSpaceOnUse" x1="1163.4" y1="603" x2="1183.3" y2="570"><stop stop-color="#e2ff00"/><stop offset="0.55" stop-color="#ffff00"/><stop offset="1" stop-color="#ffe800"/></linearGradient><linearGradient id="a323" gradientUnits="userSpaceOnUse" x1="1211.8" y1="586.4" x2="1228.7" y2="555.5"><stop stop-color="#ffe800"/><stop offset="1" stop-color="#ffbb00"/></linearGradient><linearGradient id="a324" gradientUnits="userSpaceOnUse" x1="1260.4" y1="571.9" x2="1274.3" y2="543.5"><stop stop-color="#ffbb00"/><stop offset="1" stop-color="#ff9600"/></linearGradient><linearGradient id="a325" gradientUnits="userSpaceOnUse" x1="1090.9" y1="645.5" x2="1114.5" y2="609.5"><stop stop-color="#75ff00"/><stop offset="1" stop-color="#b6ff00"/></linearGradient><linearGradient id="a326" gradientUnits="userSpaceOnUse" x1="1406.7" y1="541.1" x2="1411.5" y2="523.7"><stop stop-color="#ff6300"/><stop offset="1" stop-color="#ff5400"/></linearGradient><linearGradient id="a327" gradientUnits="userSpaceOnUse" x1="1309.1" y1="559.5" x2="1320" y2="534.2"><stop stop-color="#ff9600"/><stop offset="1" stop-color="#ff7900"/></linearGradient><linearGradient id="a328" gradientUnits="userSpaceOnUse" x1="1357.9" y1="549.2" x2="1365.7" y2="527.7"><stop stop-color="#ff7900"/><stop offset="1" stop-color="#ff6300"/></linearGradient><linearGradient id="a329" gradientUnits="userSpaceOnUse" x1="1018" y1="695" x2="1045.5" y2="656.5"><stop stop-color="#00ff00"/><stop offset="0.18" stop-color="#00ff00"/><stop offset="1" stop-color="#3fff00"/></linearGradient><linearGradient id="a330" gradientUnits="userSpaceOnUse" x1="1139.4" y1="625" x2="1159.9" y2="590.7"><stop stop-color="#b6ff00"/><stop offset="1" stop-color="#eeff00"/></linearGradient><linearGradient id="a331" gradientUnits="userSpaceOnUse" x1="1188" y1="606.7" x2="1205.5" y2="574.5"><stop stop-color="#eeff00"/><stop offset="0.33" stop-color="#ffff00"/><stop offset="1" stop-color="#ffde00"/></linearGradient><linearGradient id="a332" gradientUnits="userSpaceOnUse" x1="1066.4" y1="670.8" x2="1090.8" y2="633.6"><stop stop-color="#3fff00"/><stop offset="1" stop-color="#84ff00"/></linearGradient><linearGradient id="a333" gradientUnits="userSpaceOnUse" x1="1236.8" y1="590.6" x2="1251.4" y2="560.9"><stop stop-color="#ffde00"/><stop offset="1" stop-color="#ffb400"/></linearGradient><linearGradient id="a334" gradientUnits="userSpaceOnUse" x1="1285.8" y1="576.6" x2="1297.3" y2="549.8"><stop stop-color="#ffb400"/><stop offset="1" stop-color="#ff9200"/></linearGradient><linearGradient id="a335" gradientUnits="userSpaceOnUse" x1="1334.8" y1="564.8" x2="1343.4" y2="541.4"><stop stop-color="#ff9200"/><stop offset="1" stop-color="#ff7600"/></linearGradient><linearGradient id="a336" gradientUnits="userSpaceOnUse" x1="1383.8" y1="555" x2="1389.6" y2="535.9"><stop stop-color="#ff7600"/><stop offset="1" stop-color="#ff6300"/></linearGradient><linearGradient id="a337" gradientUnits="userSpaceOnUse" x1="1115.1" y1="648.7" x2="1136.3" y2="613.1"><stop stop-color="#84ff00"/><stop offset="1" stop-color="#c2ff00"/></linearGradient><linearGradient id="a338" gradientUnits="userSpaceOnUse" x1="1041.6" y1="697.8" x2="1066.9" y2="659.4"><stop stop-color="#04ff00"/><stop offset="1" stop-color="#4fff00"/></linearGradient><linearGradient id="a339" gradientUnits="userSpaceOnUse" x1="1163.9" y1="628.8" x2="1182.2" y2="595.2"><stop stop-color="#c2ff00"/><stop offset="1" stop-color="#f9ff00"/></linearGradient><linearGradient id="a340" gradientUnits="userSpaceOnUse" x1="1212.9" y1="611" x2="1228.2" y2="579.8"><stop stop-color="#f9ff00"/><stop offset="0.14" stop-color="#ffff00"/><stop offset="1" stop-color="#ffd600"/></linearGradient><linearGradient id="a341" gradientUnits="userSpaceOnUse" x1="1090.4" y1="674.2" x2="1112.6" y2="637.2"><stop stop-color="#4fff00"/><stop offset="1" stop-color="#91ff00"/></linearGradient><linearGradient id="a342" gradientUnits="userSpaceOnUse" x1="1262.1" y1="595.4" x2="1274.5" y2="567"><stop stop-color="#ffd600"/><stop offset="1" stop-color="#ffaf00"/></linearGradient><linearGradient id="a343" gradientUnits="userSpaceOnUse" x1="1311.3" y1="582" x2="1320.8" y2="556.9"><stop stop-color="#ffaf00"/><stop offset="1" stop-color="#ff8f00"/></linearGradient><linearGradient id="a344" gradientUnits="userSpaceOnUse" x1="1360.6" y1="570.7" x2="1367.4" y2="549.4"><stop stop-color="#ff8f00"/><stop offset="1" stop-color="#ff7600"/></linearGradient><linearGradient id="a345" gradientUnits="userSpaceOnUse" x1="1139.5" y1="652.6" x2="1158.6" y2="617.6"><stop stop-color="#91ff00"/><stop offset="1" stop-color="#cdff00"/></linearGradient><linearGradient id="a346" gradientUnits="userSpaceOnUse" x1="1065.5" y1="701.3" x2="1088.7" y2="663.1"><stop stop-color="#14ff00"/><stop offset="1" stop-color="#5cff00"/></linearGradient><linearGradient id="a347" gradientUnits="userSpaceOnUse" x1="1188.7" y1="633.2" x2="1204.9" y2="600.5"><stop stop-color="#cdff00"/><stop offset="0.96" stop-color="#ffff00"/><stop offset="1" stop-color="#fffd00"/></linearGradient><linearGradient id="a348" gradientUnits="userSpaceOnUse" x1="1238.1" y1="616" x2="1251.3" y2="585.9"><stop stop-color="#fffd00"/><stop offset="1" stop-color="#ffd100"/></linearGradient><linearGradient id="a349" gradientUnits="userSpaceOnUse" x1="1287.5" y1="600.9" x2="1298" y2="574"><stop stop-color="#ffd100"/><stop offset="1" stop-color="#ffab00"/></linearGradient><linearGradient id="a350" gradientUnits="userSpaceOnUse" x1="1114.7" y1="678.1" x2="1134.9" y2="641.7"><stop stop-color="#5cff00"/><stop offset="1" stop-color="#9dff00"/></linearGradient><linearGradient id="a351" gradientUnits="userSpaceOnUse" x1="1337.1" y1="588.1" x2="1344.8" y2="564.7"><stop stop-color="#ffab00"/><stop offset="1" stop-color="#ff8e00"/></linearGradient><linearGradient id="a352" gradientUnits="userSpaceOnUse" x1="1164.2" y1="657.1" x2="1181.3" y2="622.8"><stop stop-color="#9dff00"/><stop offset="1" stop-color="#d6ff00"/></linearGradient><linearGradient id="a353" gradientUnits="userSpaceOnUse" x1="1213.7" y1="638.2" x2="1228" y2="606.5"><stop stop-color="#d6ff00"/><stop offset="0.84" stop-color="#ffff00"/><stop offset="1" stop-color="#fff700"/></linearGradient><linearGradient id="a354" gradientUnits="userSpaceOnUse" x1="1089.7" y1="705.4" x2="1111" y2="667.5"><stop stop-color="#23ff00"/><stop offset="1" stop-color="#68ff00"/></linearGradient><linearGradient id="a355" gradientUnits="userSpaceOnUse" x1="1263.4" y1="621.6" x2="1274.9" y2="592.8"><stop stop-color="#fff700"/><stop offset="1" stop-color="#ffcd00"/></linearGradient><linearGradient id="a356" gradientUnits="userSpaceOnUse" x1="1313.2" y1="607.1" x2="1322" y2="581.8"><stop stop-color="#ffcd00"/><stop offset="1" stop-color="#ffaa00"/></linearGradient><linearGradient id="a357" gradientUnits="userSpaceOnUse" x1="1139.3" y1="682.7" x2="1157.6" y2="646.9"><stop stop-color="#68ff00"/><stop offset="1" stop-color="#a6ff00"/></linearGradient><linearGradient id="a358" gradientUnits="userSpaceOnUse" x1="1189.1" y1="662.2" x2="1204.5" y2="628.9"><stop stop-color="#a6ff00"/><stop offset="1" stop-color="#dcff00"/></linearGradient><linearGradient id="a359" gradientUnits="userSpaceOnUse" x1="1239.1" y1="643.9" x2="1251.6" y2="613.4"><stop stop-color="#dcff00"/><stop offset="0.73" stop-color="#ffff00"/><stop offset="1" stop-color="#fff200"/></linearGradient><linearGradient id="a360" gradientUnits="userSpaceOnUse" x1="1114.2" y1="710" x2="1133.6" y2="672.8"><stop stop-color="#2fff00"/><stop offset="1" stop-color="#72ff00"/></linearGradient><linearGradient id="a361" gradientUnits="userSpaceOnUse" x1="1289.1" y1="627.8" x2="1299" y2="600.5"><stop stop-color="#fff200"/><stop offset="1" stop-color="#ffcb00"/></linearGradient><linearGradient id="a362" gradientUnits="userSpaceOnUse" x1="1164.2" y1="687.9" x2="1180.7" y2="652.9"><stop stop-color="#72ff00"/><stop offset="1" stop-color="#adff00"/></linearGradient><linearGradient id="a363" gradientUnits="userSpaceOnUse" x1="1214.4" y1="668" x2="1228" y2="635.7"><stop stop-color="#adff00"/><stop offset="1" stop-color="#e1ff00"/></linearGradient><linearGradient id="a364" gradientUnits="userSpaceOnUse" x1="1264.6" y1="650.3" x2="1275.6" y2="621"><stop stop-color="#e1ff00"/><stop offset="0.67" stop-color="#ffff00"/><stop offset="1" stop-color="#fff000"/></linearGradient><linearGradient id="a365" gradientUnits="userSpaceOnUse" x1="1139" y1="715.4" x2="1156.7" y2="678.8"><stop stop-color="#39ff00"/><stop offset="1" stop-color="#79ff00"/></linearGradient><linearGradient id="a366" gradientUnits="userSpaceOnUse" x1="1189.4" y1="693.8" x2="1204.2" y2="659.8"><stop stop-color="#79ff00"/><stop offset="1" stop-color="#b3ff00"/></linearGradient><linearGradient id="a367" gradientUnits="userSpaceOnUse" x1="1239.9" y1="674.4" x2="1252" y2="643.3"><stop stop-color="#b3ff00"/><stop offset="1" stop-color="#e4ff00"/></linearGradient><linearGradient id="a368" gradientUnits="userSpaceOnUse" x1="1164.1" y1="721.4" x2="1180.2" y2="685.6"><stop stop-color="#41ff00"/><stop offset="1" stop-color="#7fff00"/></linearGradient><linearGradient id="a369" gradientUnits="userSpaceOnUse" x1="1214.8" y1="700.4" x2="1228.2" y2="667.4"><stop stop-color="#7fff00"/><stop offset="1" stop-color="#b6ff00"/></linearGradient><linearGradient id="a370" gradientUnits="userSpaceOnUse" x1="1189.5" y1="728.1" x2="1204.1" y2="693.2"><stop stop-color="#48ff00"/><stop offset="1" stop-color="#83ff00"/></linearGradient></defs><g class="sf"><path fill="url(#a0)" d="M1196.8 443.6l19.5 0.1l-19.5 3l-19.5 0z"/><path fill="url(#a1)" d="M1177.1 444.7l19.7-1.1l-19.5 3.1l-19.7 1.3z"/><path fill="url(#a2)" d="M1216.6 441l19.5 0.2l-19.8 2.5l-19.5-0.1z"/><path fill="#81ff00" d="M1157.1 447.1l20-2.4l-19.5 3.3l-20 2.5z"/><path fill="url(#a3)" d="M1196.8 441.9l19.8-0.9l-19.8 2.6l-19.7 1.1z"/><path fill="url(#a4)" d="M1236.6 438.8l19.5 0.5l-20 1.9l-19.5-0.2z"/><path fill="#8aff00" d="M1136.9 450.7l20.2-3.6l-19.5 3.4l-20.2 3.8z"/><path fill="#a0ff00" d="M1176.8 444.1l20-2.2l-19.7 2.8l-20 2.4z"/><path fill="#afff00" d="M1216.8 439.6l19.8-0.8l-20 2.2l-19.8 0.9z"/><path fill="url(#a5)" d="M1256.8 437.2l19.5 0.6l-20.2 1.5l-19.5-0.5z"/><path fill="#8fff00" d="M1116.4 455.7l20.5-5l-19.5 3.6l-20.4 5.1z"/><path fill="#aaff00" d="M1156.6 447.7l20.2-3.6l-19.7 3l-20.2 3.6z"/><path fill="#beff00" d="M1196.8 441.7l20-2.1l-20 2.3l-20 2.2z"/><path fill="url(#a6)" d="M1277.4 436.1l19.5 0.7l-20.6 1l-19.5-0.6z"/><path fill="#caff00" d="M1237.1 437.9l19.7-0.7l-20.2 1.6l-19.8 0.8z"/><path fill="url(#a7)" d="M1095.7 462l20.7-6.3l-19.4 3.7l-20.6 6.4z"/><path fill="url(#a8)" d="M1136.1 452.5l20.5-4.8l-19.7 3l-20.5 5z"/><path fill="#c8ff00" d="M1176.6 445.1l20.2-3.4l-20 2.4l-20.2 3.6z"/><path fill="#e6ff00" d="M1298.2 435.5l19.5 0.9l-20.8 0.4l-19.5-0.7z"/><path fill="#daff00" d="M1217.1 439.8l20-1.9l-20.3 1.7l-20 2.1z"/><path fill="#e4ff00" d="M1257.6 436.6l19.8-0.5l-20.6 1.1l-19.7 0.7z"/><path fill="url(#a9)" d="M1074.8 469.6l20.9-7.6l-19.3 3.8l-20.9 7.8z"/><path fill="url(#a10)" d="M1115.4 458.7l20.7-6.2l-19.7 3.2l-20.7 6.3z"/><path fill="url(#a11)" d="M1156.1 449.8l20.5-4.7l-20 2.6l-20.5 4.8z"/><path fill="#fbff00" d="M1319.2 435.5l19.5 1l-21-0.1l-19.5-0.9z"/><path fill="#e4ff00" d="M1196.8 443.1l20.3-3.3l-20.3 1.9l-20.2 3.4z"/><path fill="#fbff00" d="M1278.4 435.9l19.8-0.4l-20.8 0.6l-19.8 0.5z"/><path fill="#f3ff00" d="M1237.6 438.4l20-1.8l-20.5 1.3l-20 1.9z"/><path fill="url(#a12)" d="M1053.7 478.7l21.1-9.1l-19.3 4l-21.1 9.1z"/><path fill="url(#a13)" d="M1094.5 466.2l20.9-7.5l-19.7 3.3l-20.9 7.6z"/><path fill="url(#a14)" d="M1135.3 455.9l20.8-6.1l-20 2.7l-20.7 6.2z"/><path fill="#fff000" d="M1340.6 436l19.4 1.2l-21.3-0.7l-19.5-1z"/><path fill="url(#a15)" d="M1176.3 447.7l20.5-4.6l-20.2 2l-20.5 4.7z"/><path fill="#ffee00" d="M1299.5 435.7l19.7-0.2l-21 0l-19.8 0.4z"/><path fill="url(#a16)" d="M1217.3 441.6l20.3-3.2l-20.5 1.4l-20.3 3.3z"/><path fill="#fff300" d="M1258.4 437.6l20-1.7l-20.8 0.7l-20 1.8z"/><path fill="url(#a17)" d="M1032.4 489.1l21.3-10.4l-19.3 4l-21.3 10.5z"/><path fill="url(#a18)" d="M1073.3 475.1l21.2-8.9l-19.7 3.4l-21.1 9.1z"/><path fill="url(#a19)" d="M1114.4 463.3l20.9-7.4l-19.9 2.8l-20.9 7.5z"/><path fill="url(#a20)" d="M1155.5 453.6l20.8-5.9l-20.2 2.1l-20.8 6.1z"/><path fill="#ffdf00" d="M1362.2 437.1l19.4 1.4l-21.6-1.3l-19.4-1.2z"/><path fill="url(#a21)" d="M1196.8 446l20.5-4.4l-20.5 1.5l-20.5 4.6z"/><path fill="#ffdb00" d="M1320.9 436.1l19.7-0.1l-21.4-0.5l-19.7 0.2z"/><path fill="url(#a22)" d="M1010.8 500.9l21.6-11.8l-19.3 4.1l-21.5 11.9z"/><path fill="url(#a23)" d="M1238.1 440.6l20.3-3l-20.8 0.8l-20.3 3.2z"/><path fill="#ffdd00" d="M1279.5 437.3l20-1.6l-21.1 0.2l-20 1.7z"/><path fill="url(#a24)" d="M1051.9 485.5l21.4-10.4l-19.6 3.6l-21.3 10.4z"/><path fill="url(#a25)" d="M1093.2 472.1l21.2-8.8l-19.9 2.9l-21.2 8.9z"/><path fill="url(#a26)" d="M989.1 514.1l21.7-13.2l-19.2 4.2l-21.7 13.3z"/><path fill="url(#a27)" d="M1134.5 460.9l21-7.3l-20.2 2.3l-20.9 7.4z"/><path fill="#ffd000" d="M1384.1 438.8l19.4 1.5l-21.9-1.8l-19.4-1.4z"/><path fill="url(#a28)" d="M1176 451.9l20.8-5.9l-20.5 1.7l-20.8 5.9z"/><path fill="#ffc900" d="M1342.5 437.1l19.7 0l-21.6-1.1l-19.7 0.1z"/><path fill="url(#a29)" d="M1217.6 444.9l20.5-4.3l-20.8 1l-20.5 4.4z"/><path fill="url(#a30)" d="M1300.9 437.5l20-1.4l-21.4-0.4l-20 1.6z"/><path fill="url(#a31)" d="M1259.2 440.2l20.3-2.9l-21.1 0.3l-20.3 3z"/><path fill="url(#a32)" d="M1030.3 497.2l21.6-11.7l-19.5 3.6l-21.6 11.8z"/><path fill="url(#a33)" d="M1071.7 482.4l21.5-10.3l-19.9 3l-21.4 10.4z"/><path fill="url(#a34)" d="M967.1 528.8l22-14.7l-19.2 4.3l-21.9 14.7z"/><path fill="url(#a35)" d="M1113.3 469.6l21.2-8.7l-20.1 2.4l-21.2 8.8z"/><path fill="#ffc300" d="M1406.2 441.1l19.4 1.6l-22.1-2.4l-19.4-1.5z"/><path fill="url(#a36)" d="M1155 459.1l21-7.2l-20.5 1.7l-21 7.3z"/><path fill="#ffba00" d="M1364.4 438.6l19.7 0.2l-21.9-1.7l-19.7 0z"/><path fill="url(#a37)" d="M1008.5 510.4l21.8-13.2l-19.5 3.7l-21.7 13.2z"/><path fill="url(#a38)" d="M1196.8 450.6l20.8-5.7l-20.8 1.1l-20.8 5.9z"/><path fill="url(#a39)" d="M1322.5 438.4l20-1.3l-21.6-1l-20 1.4z"/><path fill="url(#a40)" d="M1238.7 444.4l20.5-4.2l-21.1 0.4l-20.5 4.3z"/><path fill="url(#a41)" d="M1280.6 440.3l20.3-2.8l-21.4-0.2l-20.3 2.9z"/><path fill="url(#a42)" d="M945 544.9l22.1-16.1l-19.1 4.3l-22 16.2z"/><path fill="url(#a43)" d="M1050.1 494l21.6-11.6l-19.8 3.1l-21.6 11.7z"/><path fill="url(#a44)" d="M1091.8 479.8l21.5-10.2l-20.1 2.5l-21.5 10.3z"/><path fill="url(#a45)" d="M986.5 525l22-14.6l-19.4 3.7l-22 14.7z"/><path fill="#ffb800" d="M1428.7 443.9l19.3 1.8l-22.4-3l-19.4-1.6z"/><path fill="url(#a46)" d="M1133.7 467.7l21.3-8.6l-20.5 1.8l-21.2 8.7z"/><path fill="url(#a47)" d="M1386.6 440.8l19.6 0.3l-22.1-2.3l-19.7-0.2z"/><path fill="url(#a48)" d="M1175.8 457.8l21-7.2l-20.8 1.3l-21 7.2z"/><path fill="url(#a49)" d="M922.7 562.5l22.3-17.6l-19 4.4l-22.3 17.6z"/><path fill="url(#a50)" d="M1344.4 439.8l20-1.2l-21.9-1.5l-20 1.3z"/><path fill="url(#a51)" d="M1217.9 450l20.8-5.6l-21.1 0.5l-20.8 5.7z"/><path fill="url(#a52)" d="M1302.2 441l20.3-2.6l-21.6-0.9l-20.3 2.8z"/><path fill="url(#a53)" d="M1260 444.4l20.6-4.1l-21.4-0.1l-20.5 4.2z"/><path fill="url(#a54)" d="M1028.2 507.1l21.9-13.1l-19.8 3.2l-21.8 13.2z"/><path fill="url(#a55)" d="M1070.2 491.4l21.6-11.6l-20.1 2.6l-21.6 11.6z"/><path fill="url(#a56)" d="M964.3 541.1l22.2-16.1l-19.4 3.8l-22.1 16.1z"/><path fill="#ffaf00" d="M1451.4 447.4l19.3 1.9l-22.7-3.6l-19.3-1.8z"/><path fill="url(#a57)" d="M900.2 581.6l22.5-19.1l-19 4.4l-22.4 19.2z"/><path fill="url(#a58)" d="M1112.2 477.7l21.5-10l-20.4 1.9l-21.5 10.2z"/><path fill="url(#a59)" d="M1409 443.5l19.7 0.4l-22.5-2.8l-19.6-0.3z"/><path fill="url(#a60)" d="M1154.5 466.3l21.3-8.5l-20.8 1.3l-21.3 8.6z"/><path fill="url(#a61)" d="M1006.2 521.7l22-14.6l-19.7 3.3l-22 14.6z"/><path fill="url(#a62)" d="M1366.6 441.8l20-1l-22.2-2.2l-20 1.2z"/><path fill="url(#a63)" d="M1196.8 457l21.1-7l-21.1 0.6l-21 7.2z"/><path fill="url(#a64)" d="M1324.2 442.3l20.2-2.5l-21.9-1.4l-20.3 2.6z"/><path fill="url(#a65)" d="M1239.2 449.9l20.8-5.5l-21.3 0l-20.8 5.6z"/><path fill="url(#a66)" d="M1281.7 445l20.5-4l-21.6-0.7l-20.6 4.1z"/><path fill="url(#a67)" d="M941.9 558.6l22.4-17.5l-19.3 3.8l-22.3 17.6z"/><path fill="url(#a68)" d="M1048.2 504.4l22-13l-20.1 2.6l-21.9 13.1z"/><path fill="url(#a69)" d="M877.5 602.2l22.7-20.6l-18.9 4.5l-22.6 20.6z"/><path fill="url(#a70)" d="M1090.5 489.2l21.7-11.5l-20.4 2.1l-21.6 11.6z"/><path fill="url(#a71)" d="M1474.4 451.5l19.2 2l-22.9-4.2l-19.3-1.9z"/><path fill="url(#a72)" d="M983.9 537.7l22.3-16l-19.7 3.3l-22.2 16.1z"/><path fill="url(#a73)" d="M1132.9 476.2l21.6-9.9l-20.8 1.4l-21.5 10z"/><path fill="url(#a74)" d="M1431.8 446.9l19.6 0.5l-22.7-3.5l-19.7-0.4z"/><path fill="url(#a75)" d="M919.3 577.7l22.6-19.1l-19.2 3.9l-22.5 19.1z"/><path fill="url(#a76)" d="M854.7 624.3l22.8-22.1l-18.8 4.5l-22.7 22.1z"/><path fill="url(#a77)" d="M1175.5 465.4l21.3-8.4l-21 0.8l-21.3 8.5z"/><path fill="url(#a78)" d="M1389.1 444.4l19.9-0.9l-22.4-2.7l-20 1z"/><path fill="url(#a79)" d="M1026.1 518.9l22.1-14.5l-20 2.7l-22 14.6z"/><path fill="url(#a80)" d="M1218.2 456.8l21-6.9l-21.3 0.1l-21.1 7z"/><path fill="url(#a81)" d="M1346.4 444.2l20.2-2.4l-22.2-2l-20.2 2.5z"/><path fill="url(#a82)" d="M1260.9 450.4l20.8-5.4l-21.7-0.6l-20.8 5.5z"/><path fill="url(#a83)" d="M1303.6 446.2l20.6-3.9l-22-1.3l-20.5 4z"/><path fill="url(#a84)" d="M961.4 555.3l22.5-17.6l-19.6 3.4l-22.4 17.5z"/><path fill="url(#a85)" d="M1068.6 502.2l21.9-13l-20.3 2.2l-22 13z"/><path fill="url(#a86)" d="M1497.6 456.3l19.2 2.1l-23.2-4.9l-19.2-2z"/><path fill="url(#a87)" d="M831.7 648l23-23.7l-18.7 4.5l-22.9 23.6z"/><path fill="url(#a88)" d="M896.6 598.3l22.7-20.6l-19.1 3.9l-22.7 20.6z"/><path fill="url(#a89)" d="M1111.2 487.7l21.7-11.5l-20.7 1.5l-21.7 11.5z"/><path fill="url(#a90)" d="M1454.8 450.8l19.6 0.7l-23-4.1l-19.6-0.5z"/><path fill="url(#a91)" d="M1003.8 534.9l22.3-16l-19.9 2.8l-22.3 16z"/><path fill="url(#a92)" d="M1153.9 475.3l21.6-9.9l-21 0.9l-21.6 9.9z"/><path fill="url(#a93)" d="M1411.9 447.6l19.9-0.7l-22.8-3.4l-19.9 0.9z"/><path fill="url(#a94)" d="M1196.8 465.1l21.4-8.3l-21.4 0.2l-21.3 8.4z"/><path fill="url(#a95)" d="M808.5 673.1l23.2-25.1l-18.6 4.4l-23 25.1z"/><path fill="url(#a96)" d="M1368.9 446.7l20.2-2.3l-22.5-2.6l-20.2 2.4z"/><path fill="url(#a97)" d="M938.8 574.3l22.6-19l-19.5 3.3l-22.6 19.1z"/><path fill="url(#a98)" d="M1239.8 457.2l21.1-6.8l-21.7-0.5l-21 6.9z"/><path fill="url(#a99)" d="M1325.8 447.9l20.6-3.7l-22.2-1.9l-20.6 3.9z"/><path fill="url(#a100)" d="M1282.8 451.5l20.8-5.3l-21.9-1.2l-20.8 5.4z"/><path fill="url(#a101)" d="M873.6 620.4l23-22.1l-19.1 3.9l-22.8 22.1z"/><path fill="url(#a102)" d="M1046.4 516.7l22.2-14.5l-20.4 2.2l-22.1 14.5z"/><path fill="url(#a103)" d="M1521.1 461.6l19.2 2.3l-23.5-5.5l-19.2-2.1z"/><path fill="url(#a104)" d="M1089.2 500.6l22-12.9l-20.7 1.5l-21.9 13z"/><path fill="url(#a105)" d="M785.3 699.8l23.2-26.7l-18.4 4.4l-23.2 26.7z"/><path fill="url(#a106)" d="M981.2 552.4l22.6-17.5l-19.9 2.8l-22.5 17.6z"/><path fill="url(#a107)" d="M1478.1 455.4l19.5 0.9l-23.2-4.8l-19.6-0.7z"/><path fill="url(#a108)" d="M850.6 644l23-23.6l-18.9 3.9l-23 23.7z"/><path fill="url(#a109)" d="M915.9 594.9l22.9-20.6l-19.5 3.4l-22.7 20.6z"/><path fill="url(#a110)" d="M1132.1 486.7l21.8-11.4l-21 0.9l-21.7 11.5z"/><path fill="url(#a111)" d="M1434.9 451.5l19.9-0.7l-23-3.9l-19.9 0.7z"/><path fill="url(#a112)" d="M1175.2 474.9l21.6-9.8l-21.3 0.3l-21.6 9.9z"/><path fill="url(#a113)" d="M1024 532.6l22.4-15.9l-20.3 2.2l-22.3 16z"/><path fill="url(#a114)" d="M1391.7 449.8l20.2-2.2l-22.8-3.2l-20.2 2.3z"/><path fill="url(#a115)" d="M1218.4 465.4l21.4-8.2l-21.6-0.4l-21.4 8.3z"/><path fill="url(#a116)" d="M1348.4 450.3l20.5-3.6l-22.5-2.5l-20.6 3.7z"/><path fill="url(#a117)" d="M1261.7 458.2l21.1-6.7l-21.9-1.1l-21.1 6.8z"/><path fill="url(#a118)" d="M1305 453.1l20.8-5.2l-22.2-1.7l-20.8 5.3z"/><path fill="url(#a119)" d="M1545 467.7l19.1 2.4l-23.8-6.2l-19.2-2.3z"/><path fill="url(#a120)" d="M958.5 571.4l22.7-19l-19.8 2.9l-22.6 19z"/><path fill="url(#a121)" d="M827.3 669.2l23.3-25.2l-18.9 4l-23.2 25.1z"/><path fill="url(#a122)" d="M1066.9 515l22.3-14.4l-20.6 1.6l-22.2 14.5z"/><path fill="url(#a123)" d="M892.9 617l23-22.1l-19.3 3.4l-23 22.1z"/><path fill="url(#a124)" d="M1501.7 460.7l19.4 0.9l-23.5-5.3l-19.5-0.9z"/><path fill="url(#a125)" d="M1110.1 499.5l22-12.8l-20.9 1l-22 12.9z"/><path fill="url(#a126)" d="M1001.4 550.1l22.6-17.5l-20.2 2.3l-22.6 17.5z"/><path fill="url(#a127)" d="M1458.3 456l19.8-0.6l-23.3-4.6l-19.9 0.7z"/><path fill="url(#a128)" d="M804 696l23.3-26.8l-18.8 3.9l-23.2 26.7z"/><path fill="url(#a129)" d="M1153.4 486.2l21.8-11.3l-21.3 0.4l-21.8 11.4z"/><path fill="url(#a130)" d="M1414.7 453.5l20.2-2l-23-3.9l-20.2 2.2z"/><path fill="url(#a131)" d="M935.6 592l22.9-20.6l-19.7 2.9l-22.9 20.6z"/><path fill="url(#a132)" d="M869.7 640.6l23.2-23.6l-19.3 3.4l-23 23.6z"/><path fill="url(#a133)" d="M1196.8 475.2l21.6-9.8l-21.6-0.3l-21.6 9.8z"/><path fill="url(#a134)" d="M1569.1 474.4l19 2.5l-24-6.8l-19.1-2.4z"/><path fill="url(#a135)" d="M1371.2 453.3l20.5-3.5l-22.8-3.1l-20.5 3.6z"/><path fill="url(#a136)" d="M1240.3 466.3l21.4-8.1l-21.9-1l-21.4 8.2z"/><path fill="url(#a137)" d="M1044.5 530.9l22.4-15.9l-20.5 1.7l-22.4 15.9z"/><path fill="url(#a138)" d="M1327.5 455.4l20.9-5.1l-22.6-2.4l-20.8 5.2z"/><path fill="url(#a139)" d="M1283.9 459.7l21.1-6.6l-22.2-1.6l-21.1 6.7z"/><path fill="url(#a140)" d="M1525.5 466.6l19.5 1.1l-23.9-6.1l-19.4-0.9z"/><path fill="url(#a141)" d="M1087.8 513.8l22.3-14.3l-20.9 1.1l-22.3 14.4z"/><path fill="url(#a142)" d="M978.6 569.1l22.8-19l-20.2 2.3l-22.7 19z"/><path fill="url(#a143)" d="M846.4 665.9l23.3-25.3l-19.1 3.4l-23.3 25.2z"/><path fill="url(#a144)" d="M912.5 614.1l23.1-22.1l-19.7 2.9l-23 22.1z"/><path fill="url(#a145)" d="M1481.9 461.1l19.8-0.4l-23.6-5.3l-19.8 0.6z"/><path fill="url(#a146)" d="M1131.3 499l22.1-12.8l-21.3 0.5l-22 12.8z"/><path fill="url(#a147)" d="M1438.1 457.9l20.2-1.9l-23.4-4.5l-20.2 2z"/><path fill="url(#a148)" d="M1021.8 548.3l22.7-17.4l-20.5 1.7l-22.6 17.5z"/><path fill="url(#a149)" d="M1593.4 481.8l19 2.6l-24.3-7.5l-19-2.5z"/><path fill="url(#a150)" d="M1174.9 486.4l21.9-11.2l-21.6-0.3l-21.8 11.3z"/><path fill="url(#a151)" d="M1394.3 457l20.4-3.5l-23-3.7l-20.5 3.5z"/><path fill="url(#a152)" d="M822.9 692.6l23.5-26.7l-19.1 3.3l-23.3 26.8z"/><path fill="url(#a153)" d="M1218.7 476l21.6-9.7l-21.9-0.9l-21.6 9.8z"/><path fill="url(#a154)" d="M1350.4 458.3l20.8-5l-22.8-3l-20.9 5.1z"/><path fill="url(#a155)" d="M955.6 589.6l23-20.5l-20.1 2.3l-22.9 20.6z"/><path fill="url(#a156)" d="M1262.6 467.8l21.3-8.1l-22.2-1.5l-21.4 8.1z"/><path fill="url(#a157)" d="M1306.4 461.9l21.1-6.5l-22.5-2.3l-21.1 6.6z"/><path fill="url(#a158)" d="M889.3 637.8l23.2-23.7l-19.6 2.9l-23.2 23.6z"/><path fill="url(#a159)" d="M1549.7 473.2l19.4 1.2l-24.1-6.7l-19.5-1.1z"/><path fill="url(#a160)" d="M1065.3 529.7l22.5-15.9l-20.9 1.2l-22.4 15.9z"/><path fill="url(#a161)" d="M1505.8 467l19.7-0.4l-23.8-5.9l-19.8 0.4z"/><path fill="url(#a162)" d="M1109 513.3l22.3-14.3l-21.2 0.5l-22.3 14.3z"/><path fill="url(#a163)" d="M999 567.3l22.8-19l-20.4 1.8l-22.8 19z"/><path fill="url(#a164)" d="M1618.1 489.8l18.9 2.8l-24.6-8.2l-19-2.6z"/><path fill="url(#a165)" d="M865.8 663l23.5-25.2l-19.6 2.8l-23.3 25.3z"/><path fill="url(#a166)" d="M1461.8 463l20.1-1.9l-23.6-5.1l-20.2 1.9z"/><path fill="url(#a167)" d="M932.4 611.7l23.2-22.1l-20 2.4l-23.1 22.1z"/><path fill="url(#a168)" d="M1152.8 499.1l22.1-12.7l-21.5-0.2l-22.1 12.8z"/><path fill="url(#a169)" d="M1417.7 461.3l20.4-3.4l-23.4-4.4l-20.4 3.5z"/><path fill="url(#a170)" d="M1196.8 487.1l21.9-11.1l-21.9-0.8l-21.9 11.2z"/><path fill="url(#a171)" d="M1042.6 547.1l22.7-17.4l-20.8 1.2l-22.7 17.4z"/><path fill="url(#a172)" d="M1373.5 461.9l20.8-4.9l-23.1-3.7l-20.8 5z"/><path fill="url(#a173)" d="M1240.9 477.4l21.7-9.6l-22.3-1.5l-21.6 9.7z"/><path fill="url(#a174)" d="M1574.1 480.5l19.3 1.3l-24.3-7.4l-19.4-1.2z"/><path fill="url(#a175)" d="M1329.3 464.7l21.1-6.4l-22.9-2.9l-21.1 6.5z"/><path fill="url(#a176)" d="M1285.1 469.9l21.3-8l-22.5-2.2l-21.3 8.1z"/><path fill="url(#a177)" d="M842.2 689.8l23.6-26.8l-19.4 2.9l-23.5 26.7z"/><path fill="url(#a178)" d="M975.9 587.8l23.1-20.5l-20.4 1.8l-23 20.5z"/><path fill="url(#a179)" d="M1086.4 529.1l22.6-15.8l-21.2 0.5l-22.5 15.9z"/><path fill="url(#a180)" d="M909.1 635.4l23.3-23.7l-19.9 2.4l-23.2 23.7z"/><path fill="url(#a181)" d="M1530 473.4l19.7-0.2l-24.2-6.6l-19.7 0.4z"/><path fill="url(#a182)" d="M1130.5 513.3l22.3-14.2l-21.5-0.1l-22.3 14.3z"/><path fill="url(#a183)" d="M1485.7 468.7l20.1-1.7l-23.9-5.9l-20.1 1.9z"/><path fill="url(#a184)" d="M1019.7 566.1l22.9-19l-20.8 1.2l-22.8 19z"/><path fill="url(#a185)" d="M1174.7 499.7l22.1-12.6l-21.9-0.7l-22.1 12.7z"/><path fill="url(#a186)" d="M1441.4 466.2l20.4-3.2l-23.7-5.1l-20.4 3.4z"/><path fill="url(#a187)" d="M1598.9 488.5l19.2 1.3l-24.7-8l-19.3-1.3z"/><path fill="url(#a188)" d="M952.6 609.9l23.3-22.1l-20.3 1.8l-23.2 22.1z"/><path fill="url(#a189)" d="M885.6 660.7l23.5-25.3l-19.8 2.4l-23.5 25.2z"/><path fill="url(#a190)" d="M1219 488.4l21.9-11l-22.2-1.4l-21.9 11.1z"/><path fill="url(#a191)" d="M1396.9 466.1l20.8-4.8l-23.4-4.3l-20.8 4.9z"/><path fill="url(#a192)" d="M1263.4 479.4l21.7-9.5l-22.5-2.1l-21.7 9.6z"/><path fill="url(#a193)" d="M1352.4 468.2l21.1-6.3l-23.1-3.6l-21.1 6.4z"/><path fill="url(#a194)" d="M1307.9 472.7l21.4-8l-22.9-2.8l-21.3 8z"/><path fill="url(#a195)" d="M1063.7 546.5l22.7-17.4l-21.1 0.6l-22.7 17.4z"/><path fill="url(#a196)" d="M1554.5 480.6l19.6-0.1l-24.4-7.3l-19.7 0.2z"/><path fill="url(#a197)" d="M1107.9 529.1l22.6-15.8l-21.5 0l-22.6 15.8z"/><path fill="url(#a198)" d="M996.5 586.6l23.2-20.5l-20.7 1.2l-23.1 20.5z"/><path fill="url(#a199)" d="M861.9 687.6l23.7-26.9l-19.8 2.3l-23.6 26.8z"/><path fill="url(#a200)" d="M1510 475.1l20-1.7l-24.2-6.4l-20.1 1.7z"/><path fill="url(#a201)" d="M929.2 633.7l23.4-23.8l-20.2 1.8l-23.3 23.7z"/><path fill="url(#a202)" d="M1152.3 513.9l22.4-14.2l-21.9-0.6l-22.3 14.2z"/><path fill="url(#a203)" d="M1465.3 471.8l20.4-3.1l-23.9-5.7l-20.4 3.2z"/><path fill="url(#a204)" d="M1040.7 565.4l23-18.9l-21.1 0.6l-22.9 19z"/><path fill="url(#a205)" d="M1196.8 501l22.2-12.6l-22.2-1.3l-22.1 12.6z"/><path fill="url(#a206)" d="M1420.6 470.9l20.8-4.7l-23.7-4.9l-20.8 4.8z"/><path fill="url(#a207)" d="M1241.5 490.4l21.9-11l-22.5-2l-21.9 11z"/><path fill="url(#a208)" d="M1375.8 472.3l21.1-6.2l-23.4-4.2l-21.1 6.3z"/><path fill="url(#a209)" d="M1579.3 488.5l19.6 0l-24.8-8l-19.6 0.1z"/><path fill="url(#a210)" d="M1286.2 482.1l21.7-9.4l-22.8-2.8l-21.7 9.5z"/><path fill="url(#a211)" d="M1331 476l21.4-7.8l-23.1-3.5l-21.4 8z"/><path fill="url(#a212)" d="M973.2 608.7l23.3-22.1l-20.6 1.2l-23.3 22.1z"/><path fill="url(#a213)" d="M905.6 659l23.6-25.3l-20.1 1.7l-23.5 25.3z"/><path fill="url(#a214)" d="M1085 546.4l22.9-17.3l-21.5 0l-22.7 17.4z"/><path fill="url(#a215)" d="M1534.5 482.1l20-1.5l-24.5-7.2l-20 1.7z"/><path fill="url(#a216)" d="M1129.6 529.7l22.7-15.8l-21.8-0.6l-22.6 15.8z"/><path fill="url(#a217)" d="M1017.5 585.9l23.2-20.5l-21 0.7l-23.2 20.5z"/><path fill="url(#a218)" d="M1489.6 478.1l20.4-3l-24.3-6.4l-20.4 3.1z"/><path fill="url(#a219)" d="M881.8 685.9l23.8-26.9l-20 1.7l-23.7 26.9z"/><path fill="url(#a220)" d="M949.7 632.4l23.5-23.7l-20.6 1.2l-23.4 23.8z"/><path fill="url(#a221)" d="M1174.4 515.2l22.4-14.2l-22.1-1.3l-22.4 14.2z"/><path fill="url(#a222)" d="M1444.6 476.4l20.7-4.6l-23.9-5.6l-20.8 4.7z"/><path fill="url(#a223)" d="M1219.3 502.9l22.2-12.5l-22.5-2l-22.2 12.6z"/><path fill="url(#a224)" d="M1399.6 477.1l21-6.2l-23.7-4.8l-21.1 6.2z"/><path fill="url(#a225)" d="M1062 565.4l23-19l-21.3 0.1l-23 18.9z"/><path fill="url(#a226)" d="M1264.3 493l21.9-10.9l-22.8-2.7l-21.9 11z"/><path fill="url(#a227)" d="M1354.4 480.1l21.4-7.8l-23.4-4.1l-21.4 7.8z"/><path fill="url(#a228)" d="M1309.3 485.4l21.7-9.4l-23.1-3.3l-21.7 9.4z"/><path fill="url(#a229)" d="M1559.4 489.9l19.9-1.4l-24.8-7.9l-20 1.5z"/><path fill="url(#a230)" d="M994 608.1l23.5-22.2l-21 0.7l-23.3 22.1z"/><path fill="url(#a231)" d="M1106.7 547l22.9-17.3l-21.7-0.6l-22.9 17.3z"/><path fill="url(#a232)" d="M926 657.8l23.7-25.4l-20.5 1.3l-23.6 25.3z"/><path fill="url(#a233)" d="M1514.2 485.1l20.3-3l-24.5-7l-20.4 3z"/><path fill="url(#a234)" d="M1151.7 530.9l22.7-15.7l-22.1-1.3l-22.7 15.8z"/><path fill="url(#a235)" d="M1038.7 585.9l23.3-20.5l-21.3 0l-23.2 20.5z"/><path fill="url(#a236)" d="M1468.9 482.6l20.7-4.5l-24.3-6.3l-20.7 4.6z"/><path fill="url(#a237)" d="M1196.8 517l22.5-14.1l-22.5-1.9l-22.4 14.2z"/><path fill="url(#a238)" d="M1423.6 482.5l21-6.1l-24-5.5l-21 6.2z"/><path fill="url(#a239)" d="M902.1 684.7l23.9-26.9l-20.4 1.2l-23.8 26.9z"/><path fill="url(#a240)" d="M970.4 631.8l23.6-23.7l-20.8 0.6l-23.5 23.7z"/><path fill="url(#a241)" d="M1242.1 505.5l22.2-12.5l-22.8-2.6l-22.2 12.5z"/><path fill="url(#a242)" d="M1378.2 484.8l21.4-7.7l-23.8-4.8l-21.4 7.8z"/><path fill="url(#a243)" d="M1287.4 496.2l21.9-10.8l-23.1-3.3l-21.9 10.9z"/><path fill="url(#a244)" d="M1332.8 489.3l21.6-9.2l-23.4-4.1l-21.7 9.4z"/><path fill="url(#a245)" d="M1083.6 565.9l23.1-18.9l-21.7-0.6l-23 19z"/><path fill="url(#a246)" d="M1539.1 492.8l20.3-2.9l-24.9-7.8l-20.3 3z"/><path fill="url(#a247)" d="M1015.2 608l23.5-22.1l-21.2 0l-23.5 22.2z"/><path fill="url(#a248)" d="M1128.8 548.2l22.9-17.3l-22.1-1.2l-22.9 17.3z"/><path fill="url(#a249)" d="M946.7 657.2l23.7-25.4l-20.7 0.6l-23.7 25.4z"/><path fill="url(#a250)" d="M1493.6 489.6l20.6-4.5l-24.6-7l-20.7 4.5z"/><path fill="url(#a251)" d="M1174.1 532.7l22.7-15.7l-22.4-1.8l-22.7 15.7z"/><path fill="url(#a252)" d="M1447.9 488.7l21-6.1l-24.3-6.2l-21 6.1z"/><path fill="url(#a253)" d="M1060.3 586.4l23.3-20.5l-21.6-0.5l-23.3 20.5z"/><path fill="url(#a254)" d="M1219.6 519.5l22.5-14l-22.8-2.6l-22.5 14.1z"/><path fill="url(#a255)" d="M1402.2 490.1l21.4-7.6l-24-5.4l-21.4 7.7z"/><path fill="url(#a256)" d="M1265.2 508.7l22.2-12.5l-23.1-3.2l-22.2 12.5z"/><path fill="url(#a257)" d="M1356.5 494l21.7-9.2l-23.8-4.7l-21.6 9.2z"/><path fill="url(#a258)" d="M1310.8 500.1l22-10.8l-23.5-3.9l-21.9 10.8z"/><path fill="url(#a259)" d="M991.6 631.8l23.6-23.8l-21.2 0.1l-23.6 23.7z"/><path fill="url(#a260)" d="M922.7 684.2l24-27l-20.7 0.6l-23.9 26.9z"/><path fill="url(#a261)" d="M1105.6 567.1l23.2-18.9l-22.1-1.2l-23.1 18.9z"/><path fill="url(#a262)" d="M1151.1 550l23-17.3l-22.4-1.8l-22.9 17.3z"/><path fill="url(#a263)" d="M1518.5 497.2l20.6-4.4l-24.9-7.7l-20.6 4.5z"/><path fill="url(#a264)" d="M1036.8 608.6l23.5-22.2l-21.6-0.5l-23.5 22.1z"/><path fill="url(#a265)" d="M967.7 657.2l23.9-25.4l-21.2 0l-23.7 25.4z"/><path fill="url(#a266)" d="M1196.8 535.2l22.8-15.7l-22.8-2.5l-22.7 15.7z"/><path fill="url(#a267)" d="M1472.6 495.5l21-5.9l-24.7-7l-21 6.1z"/><path fill="url(#a268)" d="M1242.6 522.7l22.6-14l-23.1-3.2l-22.5 14z"/><path fill="url(#a269)" d="M1426.6 496.2l21.3-7.5l-24.3-6.2l-21.4 7.6z"/><path fill="url(#a270)" d="M1082.2 587.6l23.4-20.5l-22-1.2l-23.3 20.5z"/><path fill="url(#a271)" d="M1288.6 512.5l22.2-12.4l-23.4-3.9l-22.2 12.5z"/><path fill="url(#a272)" d="M1380.6 499.3l21.6-9.2l-24-5.3l-21.7 9.2z"/><path fill="url(#a273)" d="M1334.6 504.7l21.9-10.7l-23.7-4.7l-22 10.8z"/><path fill="url(#a274)" d="M1013 632.4l23.8-23.8l-21.6-0.6l-23.6 23.8z"/><path fill="url(#a275)" d="M943.6 684.2l24.1-27l-21 0l-24 27z"/><path fill="url(#a276)" d="M1127.9 568.9l23.2-18.9l-22.3-1.8l-23.2 18.9z"/><path fill="url(#a277)" d="M1173.8 552.4l23-17.2l-22.7-2.5l-23 17.3z"/><path fill="url(#a278)" d="M1497.6 503l20.9-5.8l-24.9-7.6l-21 5.9z"/><path fill="url(#a279)" d="M1058.6 609.7l23.6-22.1l-21.9-1.2l-23.5 22.2z"/><path fill="url(#a280)" d="M1219.9 538.3l22.7-15.6l-23-3.2l-22.8 15.7z"/><path fill="#ff4100" d="M1451.3 503l21.3-7.5l-24.7-6.8l-21.3 7.5z"/><path fill="url(#a281)" d="M989 657.8l24-25.4l-21.4-0.6l-23.9 25.4z"/><path fill="url(#a282)" d="M1266 526.5l22.6-14l-23.4-3.8l-22.6 14z"/><path fill="url(#a283)" d="M1405 505.3l21.6-9.1l-24.4-6.1l-21.6 9.2z"/><path fill="url(#a284)" d="M1312.3 517.1l22.3-12.4l-23.8-4.6l-22.2 12.4z"/><path fill="url(#a285)" d="M1358.6 510l22-10.7l-24.1-5.3l-21.9 10.7z"/><path fill="url(#a286)" d="M1104.5 589.4l23.4-20.5l-22.3-1.8l-23.4 20.5z"/><path fill="url(#a287)" d="M1034.8 633.6l23.8-23.9l-21.8-1.1l-23.8 23.8z"/><path fill="url(#a288)" d="M1150.5 571.3l23.3-18.9l-22.7-2.4l-23.2 18.9z"/><path fill="url(#a289)" d="M964.9 684.9l24.1-27.1l-21.3-0.6l-24.1 27z"/><path fill="url(#a290)" d="M1196.8 555.5l23.1-17.2l-23.1-3.1l-23 17.2z"/><path fill="url(#a291)" d="M1476.3 510.5l21.3-7.5l-25-7.5l-21.3 7.5z"/><path fill="url(#a292)" d="M1243.2 542.1l22.8-15.6l-23.4-3.8l-22.7 15.6z"/><path fill="url(#a293)" d="M1080.8 611.6l23.7-22.2l-22.3-1.8l-23.6 22.1z"/><path fill="url(#a294)" d="M1429.7 512l21.6-9l-24.7-6.8l-21.6 9.1z"/><path fill="url(#a295)" d="M1289.8 531l22.5-13.9l-23.7-4.6l-22.6 14z"/><path fill="url(#a296)" d="M1383 515.9l22-10.6l-24.4-6l-22 10.7z"/><path fill="url(#a297)" d="M1336.4 522.3l22.2-12.3l-24-5.3l-22.3 12.4z"/><path fill="url(#a298)" d="M1010.7 659l24.1-25.4l-21.8-1.2l-24 25.4z"/><path fill="url(#a299)" d="M1127 591.8l23.5-20.5l-22.6-2.4l-23.4 20.5z"/><path fill="url(#a300)" d="M1173.5 574.4l23.3-18.9l-23-3.1l-23.3 18.9z"/><path fill="url(#a301)" d="M1056.9 635.4l23.9-23.8l-22.2-1.9l-23.8 23.9z"/><path fill="url(#a302)" d="M986.5 686.2l24.2-27.2l-21.7-1.2l-24.1 27.1z"/><path fill="url(#a303)" d="M1220.2 559.3l23-17.2l-23.3-3.8l-23.1 17.2z"/><path fill="url(#a304)" d="M1454.7 519.4l21.6-8.9l-25-7.5l-21.6 9z"/><path fill="url(#a305)" d="M1266.9 546.5l22.9-15.5l-23.8-4.5l-22.8 15.6z"/><path fill="url(#a306)" d="M1407.7 522.6l22-10.6l-24.7-6.7l-22 10.6z"/><path fill="url(#a307)" d="M1313.8 536.2l22.6-13.9l-24.1-5.2l-22.5 13.9z"/><path fill="url(#a308)" d="M1103.3 614l23.7-22.2l-22.5-2.4l-23.7 22.2z"/><path fill="url(#a309)" d="M1360.8 528.2l22.2-12.3l-24.4-5.9l-22.2 12.3z"/><path fill="url(#a310)" d="M1032.8 660.9l24.1-25.5l-22.1-1.8l-24.1 25.4z"/><path fill="url(#a311)" d="M1150 594.9l23.5-20.5l-23-3.1l-23.5 20.5z"/><path fill="url(#a312)" d="M1196.8 578.2l23.4-18.9l-23.4-3.8l-23.3 18.9z"/><path fill="url(#a313)" d="M1079.3 637.9l24-23.9l-22.5-2.4l-23.9 23.8z"/><path fill="url(#a314)" d="M1243.8 563.7l23.1-17.2l-23.7-4.4l-23 17.2z"/><path fill="url(#a315)" d="M1008.5 688.1l24.3-27.2l-22.1-1.9l-24.2 27.2z"/><path fill="url(#a316)" d="M1432.8 530l21.9-10.6l-25-7.4l-22 10.6z"/><path fill="url(#a317)" d="M1291 551.7l22.8-15.5l-24-5.2l-22.9 15.5z"/><path fill="url(#a318)" d="M1385.5 534.8l22.2-12.2l-24.7-6.7l-22.2 12.3z"/><path fill="url(#a319)" d="M1338.2 542.1l22.6-13.9l-24.4-5.9l-22.6 13.9z"/><path fill="url(#a320)" d="M1126.2 617.1l23.8-22.2l-23-3.1l-23.7 22.2z"/><path fill="url(#a321)" d="M1055.2 663.4l24.1-25.5l-22.4-2.5l-24.1 25.5z"/><path fill="url(#a322)" d="M1173.2 598.7l23.6-20.5l-23.3-3.8l-23.5 20.5z"/><path fill="url(#a323)" d="M1220.5 582.6l23.3-18.9l-23.6-4.4l-23.4 18.9z"/><path fill="url(#a324)" d="M1267.8 568.9l23.2-17.2l-24.1-5.2l-23.1 17.2z"/><path fill="url(#a325)" d="M1102.1 641l24.1-23.9l-22.9-3.1l-24 23.9z"/><path fill="url(#a326)" d="M1410.5 542.2l22.3-12.2l-25.1-7.4l-22.2 12.2z"/><path fill="url(#a327)" d="M1315.3 557.6l22.9-15.5l-24.4-5.9l-22.8 15.5z"/><path fill="url(#a328)" d="M1362.9 548.7l22.6-13.9l-24.7-6.6l-22.6 13.9z"/><path fill="url(#a329)" d="M1030.8 690.7l24.4-27.3l-22.4-2.5l-24.3 27.2z"/><path fill="url(#a330)" d="M1149.4 620.9l23.8-22.2l-23.2-3.8l-23.8 22.2z"/><path fill="url(#a331)" d="M1196.8 603.2l23.7-20.6l-23.7-4.4l-23.6 20.5z"/><path fill="url(#a332)" d="M1077.9 666.6l24.2-25.6l-22.8-3.1l-24.1 25.5z"/><path fill="url(#a333)" d="M1244.4 587.8l23.4-18.9l-24-5.2l-23.3 18.9z"/><path fill="url(#a334)" d="M1292.2 574.8l23.1-17.2l-24.3-5.9l-23.2 17.2z"/><path fill="url(#a335)" d="M1340 564.2l22.9-15.5l-24.7-6.6l-22.9 15.5z"/><path fill="url(#a336)" d="M1388 556l22.5-13.8l-25-7.4l-22.6 13.9z"/><path fill="url(#a337)" d="M1125.3 644.9l24.1-24l-23.2-3.8l-24.1 23.9z"/><path fill="url(#a338)" d="M1053.4 693.9l24.5-27.3l-22.7-3.2l-24.4 27.3z"/><path fill="url(#a339)" d="M1172.9 625.4l23.9-22.2l-23.6-4.5l-23.8 22.2z"/><path fill="url(#a340)" d="M1220.8 608.3l23.6-20.5l-23.9-5.2l-23.7 20.6z"/><path fill="url(#a341)" d="M1101 670.5l24.3-25.6l-23.2-3.9l-24.2 25.6z"/><path fill="url(#a342)" d="M1268.8 593.6l23.4-18.8l-24.4-5.9l-23.4 18.9z"/><path fill="url(#a343)" d="M1316.9 581.3l23.1-17.1l-24.7-6.6l-23.1 17.2z"/><path fill="url(#a344)" d="M1365.1 571.5l22.9-15.5l-25.1-7.3l-22.9 15.5z"/><path fill="url(#a345)" d="M1148.8 649.4l24.1-24l-23.5-4.5l-24.1 24z"/><path fill="url(#a346)" d="M1076.4 697.9l24.6-27.4l-23.1-3.9l-24.5 27.3z"/><path fill="url(#a347)" d="M1196.8 630.6l24-22.3l-24-5.1l-23.9 22.2z"/><path fill="url(#a348)" d="M1245 614.2l23.8-20.6l-24.4-5.8l-23.6 20.5z"/><path fill="url(#a349)" d="M1293.4 600.2l23.5-18.9l-24.7-6.5l-23.4 18.8z"/><path fill="url(#a350)" d="M1124.4 675.1l24.4-25.7l-23.5-4.5l-24.3 25.6z"/><path fill="url(#a351)" d="M1341.9 588.7l23.2-17.2l-25.1-7.3l-23.1 17.1z"/><path fill="url(#a352)" d="M1172.6 654.6l24.2-24l-23.9-5.2l-24.1 24z"/><path fill="url(#a353)" d="M1221.1 636.5l23.9-22.3l-24.2-5.9l-24 22.3z"/><path fill="url(#a354)" d="M1099.8 702.5l24.6-27.4l-23.4-4.6l-24.6 27.4z"/><path fill="url(#a355)" d="M1269.7 620.8l23.7-20.6l-24.6-6.6l-23.8 20.6z"/><path fill="url(#a356)" d="M1318.4 607.6l23.5-18.9l-25-7.4l-23.5 18.9z"/><path fill="url(#a357)" d="M1148.2 680.3l24.4-25.7l-23.8-5.2l-24.4 25.7z"/><path fill="url(#a358)" d="M1196.8 660.5l24.3-24l-24.3-5.9l-24.2 24z"/><path fill="url(#a359)" d="M1245.7 643.1l24-22.3l-24.7-6.6l-23.9 22.3z"/><path fill="url(#a360)" d="M1123.5 707.9l24.7-27.6l-23.8-5.2l-24.6 27.4z"/><path fill="url(#a361)" d="M1294.7 628.2l23.7-20.6l-25-7.4l-23.7 20.6z"/><path fill="url(#a362)" d="M1172.3 686.4l24.5-25.9l-24.2-5.9l-24.4 25.7z"/><path fill="url(#a363)" d="M1221.4 667.2l24.3-24.1l-24.6-6.6l-24.3 24z"/><path fill="url(#a364)" d="M1270.6 650.5l24.1-22.3l-25-7.4l-24 22.3z"/><path fill="url(#a365)" d="M1147.6 713.9l24.7-27.5l-24.1-6.1l-24.7 27.6z"/><path fill="url(#a366)" d="M1196.8 693.1l24.6-25.9l-24.6-6.7l-24.5 25.9z"/><path fill="url(#a367)" d="M1246.3 674.7l24.3-24.2l-24.9-7.4l-24.3 24.1z"/><path fill="url(#a368)" d="M1172 720.7l24.8-27.6l-24.5-6.7l-24.7 27.5z"/><path fill="url(#a369)" d="M1221.7 700.6l24.6-25.9l-24.9-7.5l-24.6 25.9z"/><path fill="url(#a370)" d="M1196.8 728.3l24.9-27.7l-24.9-7.5l-24.8 27.6z"/></g>
<circle cx="964.8" cy="676.5" r="9.0" fill="#c00000" stroke="#3a0000" stroke-width="1.5"/><rect x="1188.4" y="455.8" width="17.2" height="38.1" rx="8.6" fill="#c00000" stroke="#7a0000" stroke-width="1.6"/><path d="M1189.4 471.4 A8.6 8.6 0 0 0 1204.6 471.4" fill="none" stroke="#8a0000" stroke-width="1.6"/><path d="M1189.4 478.9 A8.6 8.6 0 0 1 1204.6 478.9" fill="none" stroke="#8a0000" stroke-width="1.6"/><rect x="1195" y="476.9" width="4" height="10" fill="#800000"/>
<g fill="#000"><rect x="766.6" y="782.7" width="8.6" height="8" rx="3"/><rect x="764" y="727.8" width="8.6" height="8" rx="3"/><rect x="761.3" y="672.9" width="8.6" height="8" rx="3"/><rect x="758.6" y="618" width="8.6" height="8" rx="3"/><rect x="756" y="563.1" width="8.6" height="8" rx="3"/><rect x="753.3" y="508.2" width="8.6" height="8" rx="3"/><rect x="750.6" y="453.3" width="8.6" height="8" rx="3"/><rect x="748" y="398.4" width="8.6" height="8" rx="3"/><rect x="745.3" y="343.5" width="8.6" height="8" rx="3"/><rect x="773.3" y="920" width="8.6" height="8" rx="3"/><rect x="878.1" y="970.4" width="8.6" height="8" rx="3"/><rect x="982.9" y="1020.7" width="8.6" height="8" rx="3"/><rect x="1087.7" y="1071.1" width="8.6" height="8" rx="3"/><rect x="1192.5" y="1121.5" width="8.6" height="8" rx="3"/><rect x="1297.3" y="1071.1" width="8.6" height="8" rx="3"/><rect x="1402.1" y="1020.7" width="8.6" height="8" rx="3"/><rect x="1506.9" y="970.4" width="8.6" height="8" rx="3"/><rect x="1611.8" y="920" width="8.6" height="8" rx="3"/></g><g class="tk"><text x="752.5" y="777.4" text-anchor="end" textLength="15.3" lengthAdjust="spacingAndGlyphs">6</text><text x="749.9" y="722.5" text-anchor="end" textLength="15.3" lengthAdjust="spacingAndGlyphs">8</text><text x="747.2" y="667.6" text-anchor="end" textLength="31.6" lengthAdjust="spacingAndGlyphs">10</text><text x="744.5" y="612.7" text-anchor="end" textLength="31.6" lengthAdjust="spacingAndGlyphs">12</text><text x="741.9" y="557.8" text-anchor="end" textLength="31.6" lengthAdjust="spacingAndGlyphs">14</text><text x="739.2" y="502.9" text-anchor="end" textLength="31.6" lengthAdjust="spacingAndGlyphs">16</text><text x="736.5" y="448" text-anchor="end" textLength="31.6" lengthAdjust="spacingAndGlyphs">18</text><text x="733.9" y="393.1" text-anchor="end" textLength="31.6" lengthAdjust="spacingAndGlyphs">20</text><text x="731.2" y="338.2" text-anchor="end" textLength="31.6" lengthAdjust="spacingAndGlyphs">22</text><text x="760.6" y="955.1" text-anchor="end" textLength="31.6" lengthAdjust="spacingAndGlyphs">10</text><text x="865.4" y="1005.5" text-anchor="end" textLength="15.3" lengthAdjust="spacingAndGlyphs">8</text><text x="970.2" y="1055.8" text-anchor="end" textLength="15.3" lengthAdjust="spacingAndGlyphs">6</text><text x="1075" y="1106.2" text-anchor="end" textLength="15.3" lengthAdjust="spacingAndGlyphs">4</text><text x="1179.8" y="1156.6" text-anchor="end" textLength="15.3" lengthAdjust="spacingAndGlyphs">2</text><text x="1212.1" y="1156.6" text-anchor="start" textLength="51" lengthAdjust="spacingAndGlyphs">300</text><text x="1316.9" y="1106.2" text-anchor="start" textLength="51" lengthAdjust="spacingAndGlyphs">350</text><text x="1421.7" y="1055.8" text-anchor="start" textLength="51" lengthAdjust="spacingAndGlyphs">400</text><text x="1526.5" y="1005.5" text-anchor="start" textLength="51" lengthAdjust="spacingAndGlyphs">450</text><text x="1631.4" y="955.1" text-anchor="start" textLength="51" lengthAdjust="spacingAndGlyphs">500</text></g>
<text class="ttl" x="1.8" y="1250.3" textLength="49.8" lengthAdjust="spacingAndGlyphs">(b)</text>
<circle cx="38.7" cy="1457.7" r="14.3" fill="#b40000" stroke="#000" stroke-width="3"/><circle cx="38.7" cy="1521.5" r="14.3" fill="#ffc8c8" stroke="#000" stroke-width="3"/><rect x="71.5" y="1566.2" width="103.5" height="30" fill="url(#lg)" stroke="#000" stroke-width="1.8"/>
<path d="M1197 1480.2 L1197 1998.7" stroke="#707070" stroke-width="3.4" fill="none"/><path d="M749.6 1580 L1196.8 1479.2 L1644 1580" stroke="#000" stroke-width="1.6" fill="none" stroke-linejoin="miter"/><path d="M749.6 1580 L777.6 2156.5" stroke="#000" stroke-width="2.1" fill="none"/><path d="M1644 1580 L1616.1 2156.5" stroke="#000" stroke-width="1.7" fill="none"/>
<path d="M777.6 2156.5 L1196.8 2358 L1616.1 2156.5 L1196.8 1998.7Z" fill="#ffff00"/><g clip-path="url(#fc1)" stroke-width="2.3" stroke-linejoin="round"><path d="M838.4 2197.1 L845.7 2198.7 L851.2 2200 L856.7 2201.2 L862.8 2202.7 L870.4 2204.4 L875.8 2205.7 L881.2 2207 L888.8 2208.9 L894.7 2210.3 L900 2211.7 L907.2 2213.6 L913.3 2215.1 L918.6 2216.5 L926.5 2218.7 L931.8 2220.1 L937.1 2221.6 L944.8 2223.7 L950 2225.2 L957.8 2227.5 L963 2229 L970.6 2231.3 L975.7 2232.8 L983.4 2235.2 L988.4 2236.8 L996 2239.2 L1001 2240.8 L1008.5 2243.3 L1013.5 2245 L1020.9 2247.5 L1028.2 2250.1 L1033.2 2251.8 L1040.5 2254.5 L1047.3 2257 L1052.6 2258.9 L1059.8 2261.7 L1066.9 2264.4 L1071.7 2266.3 L1078.8 2269.2 L1085.8 2272 L1092.9 2274.9 L1099.8 2277.9 L1106.8 2280.9 L1111.4 2282.9 L1118.3 2286 L1125.1 2289.1 L1131.9 2292.2 L1138.7 2295.4 L1145.5 2298.6 L1152.2 2301.9 L1158.8 2305.2 L1163.3 2307.4 L1169.9 2310.8 L1176.5 2314.2 L1183.1 2317.7 L1189.6 2321.2 L1196.1 2324.7 L1200.4 2327.1 L1206.9 2330.7 L1213.3 2334.3 L1219.7 2338 L1224 2340.5 L1230.3 2344.3 L1236.7 2348.1 L1240.9 2350.7 L1238.1 2351.7 L1233.9 2349.1 L1227.6 2345.3 L1221.2 2341.6 L1217 2339.1 L1210.6 2335.4 L1204.2 2331.8 L1197.7 2328.1 L1193.4 2325.8 L1186.9 2322.2 L1180.4 2318.7 L1173.9 2315.3 L1167.3 2311.9 L1160.7 2308.5 L1156.3 2306.3 L1149.6 2303 L1143 2299.7 L1136.2 2296.5 L1129.5 2293.3 L1122.7 2290.2 L1115.9 2287.1 L1109 2284.1 L1104.4 2282 L1097.5 2279.1 L1090.5 2276.1 L1083.5 2273.2 L1076.5 2270.3 L1069.4 2267.5 L1064.7 2265.6 L1057.5 2262.9 L1050.3 2260.1 L1045.1 2258.2 L1038.3 2255.7 L1031 2253 L1026.1 2251.3 L1018.8 2248.7 L1011.3 2246.2 L1006.4 2244.5 L998.9 2242.1 L993.9 2240.4 L986.4 2238 L981.3 2236.4 L973.7 2234.1 L968.7 2232.5 L961 2230.2 L955.8 2228.7 L948.1 2226.4 L942.9 2225 L935.2 2222.8 L929.9 2221.3 L924.7 2219.9 L916.8 2217.8 L911.5 2216.4 L905.4 2214.8 L898.2 2212.9 L892.8 2211.6 L887 2210.1 L879.4 2208.3 L874 2207 L868.6 2205.7 L861.1 2203.9 L855 2202.5 L849.5 2201.2 L844 2200 L836.7 2198.4Z" fill="#0dff00" stroke="#0dff00"/><path d="M764.4 2161.3 L770.7 2162.3 L777 2163.3 L783.3 2164.4 L789.8 2165.4 L796.2 2166.5 L802.2 2167.5 L808.1 2168.5 L813.9 2169.5 L819.7 2170.6 L825.5 2171.6 L831.3 2172.6 L837.1 2173.7 L843.3 2174.8 L850.3 2176.1 L857.2 2177.4 L862.9 2178.5 L868.5 2179.6 L874.2 2180.8 L879.9 2181.9 L886.7 2183.3 L893.9 2184.8 L899.5 2186 L905.1 2187.2 L910.6 2188.4 L918 2190 L924.4 2191.4 L929.9 2192.7 L935.4 2193.9 L943.3 2195.8 L949 2197.1 L954.4 2198.4 L961.3 2200.1 L967.8 2201.8 L973.2 2203.1 L980.4 2205 L986.4 2206.6 L991.7 2208 L999.5 2210.2 L1004.7 2211.6 L1012.3 2213.8 L1017.7 2215.3 L1024.2 2217.3 L1030.5 2219.1 L1036.9 2221.1 L1043.1 2223 L1050.6 2225.4 L1055.6 2227.1 L1063.1 2229.5 L1068 2231.2 L1075.4 2233.7 L1082.7 2236.3 L1087.5 2238 L1094.7 2240.7 L1101.9 2243.3 L1107.1 2245.3 L1113.8 2247.9 L1120.8 2250.7 L1127.8 2253.5 L1134.7 2256.4 L1141.7 2259.3 L1148.4 2262.2 L1153.1 2264.3 L1159.8 2267.3 L1166.6 2270.4 L1173.3 2273.5 L1179.9 2276.7 L1184.3 2278.8 L1190.9 2282.1 L1197.4 2285.3 L1203.9 2288.7 L1210.4 2292.1 L1216.8 2295.5 L1221.1 2297.8 L1227.5 2301.3 L1233.8 2304.8 L1240.1 2308.4 L1244.3 2310.8 L1250.5 2314.4 L1256.7 2318.1 L1260.9 2320.6 L1267 2324.4 L1272.8 2328 L1277.2 2330.8 L1279.3 2332.1 L1276.5 2333.1 L1274.4 2331.8 L1270 2329 L1264.3 2325.4 L1258.1 2321.6 L1254 2319.1 L1247.8 2315.4 L1241.6 2311.8 L1237.4 2309.4 L1231.1 2305.8 L1224.8 2302.3 L1218.5 2298.8 L1214.2 2296.5 L1207.8 2293.1 L1201.4 2289.7 L1194.9 2286.4 L1188.4 2283.1 L1181.8 2279.9 L1177.4 2277.8 L1170.8 2274.6 L1164.1 2271.5 L1157.4 2268.4 L1150.7 2265.4 L1146 2263.3 L1139.3 2260.4 L1132.4 2257.5 L1125.5 2254.6 L1118.5 2251.8 L1111.5 2249 L1104.9 2246.5 L1099.7 2244.5 L1092.6 2241.8 L1085.4 2239.2 L1080.5 2237.4 L1073.3 2234.9 L1065.9 2232.4 L1061 2230.7 L1053.6 2228.2 L1048.6 2226.6 L1041.1 2224.2 L1035 2222.3 L1028.5 2220.3 L1022.3 2218.5 L1015.8 2216.5 L1010.5 2215 L1002.9 2212.8 L997.7 2211.4 L989.8 2209.2 L984.6 2207.8 L978.6 2206.3 L971.4 2204.4 L966.1 2203 L959.5 2201.4 L952.7 2199.7 L947.3 2198.4 L941.6 2197 L933.7 2195.2 L928.3 2193.9 L922.8 2192.7 L916.4 2191.2 L909 2189.6 L903.5 2188.4 L897.9 2187.2 L892.3 2186 L885.1 2184.6 L878.3 2183.2 L872.6 2182 L867 2180.9 L861.3 2179.8 L855.6 2178.7 L848.7 2177.4 L841.7 2176.1 L835.6 2174.9 L829.8 2173.9 L824 2172.8 L818.2 2171.8 L812.4 2170.8 L806.6 2169.8 L800.8 2168.8 L794.8 2167.8 L788.3 2166.7 L781.9 2165.6 L775.5 2164.6 L769.2 2163.6 L762.9 2162.6Z" fill="#6fff00" stroke="#6fff00"/><path d="M786.5 2143.4 L792.7 2144.2 L798.8 2145 L805 2145.8 L811.1 2146.6 L817.2 2147.5 L823.3 2148.3 L829.4 2149.2 L835.5 2150 L841.6 2150.9 L847.6 2151.8 L853.7 2152.6 L859.7 2153.5 L865.7 2154.5 L871.7 2155.4 L877.7 2156.3 L883.7 2157.2 L889.7 2158.2 L895.6 2159.1 L901.5 2160.1 L907.4 2161.1 L913.3 2162.1 L920 2163.2 L926.8 2164.4 L933.7 2165.6 L939.6 2166.7 L945.3 2167.8 L951.1 2168.8 L956.8 2169.9 L962.6 2171 L969.6 2172.4 L976.8 2173.8 L982.4 2175 L988 2176.1 L993.6 2177.3 L1000.8 2178.9 L1007.5 2180.3 L1013 2181.6 L1018.5 2182.8 L1026.4 2184.7 L1032.1 2186 L1037.5 2187.3 L1045 2189.2 L1050.9 2190.7 L1056.2 2192.1 L1064 2194.1 L1069.3 2195.6 L1076.5 2197.6 L1082.2 2199.2 L1088.5 2201 L1095 2202.9 L1101.6 2204.9 L1107.6 2206.8 L1115 2209.2 L1120 2210.8 L1127.3 2213.3 L1134.1 2215.6 L1139.4 2217.5 L1146.6 2220.1 L1153.7 2222.7 L1158.4 2224.5 L1165.4 2227.2 L1172.4 2230 L1179.2 2232.8 L1186 2235.7 L1192.8 2238.6 L1199.5 2241.5 L1206.1 2244.5 L1212.7 2247.6 L1219.2 2250.7 L1225.6 2253.9 L1232 2257.1 L1236.7 2259.5 L1242.6 2262.6 L1248.9 2265.9 L1255.1 2269.3 L1259.2 2271.6 L1265.3 2275.1 L1271.4 2278.6 L1275.5 2281 L1281.5 2284.6 L1287.5 2288.2 L1291.5 2290.7 L1297.4 2294.4 L1301.3 2296.9 L1307.2 2300.7 L1311.1 2303.3 L1316.9 2307.2 L1320.7 2309.8 L1322.7 2311.1 L1319.8 2312 L1317.9 2310.7 L1314.1 2308.1 L1308.3 2304.2 L1304.4 2301.6 L1298.5 2297.8 L1294.6 2295.3 L1288.7 2291.6 L1284.8 2289.1 L1278.8 2285.5 L1272.8 2281.9 L1268.8 2279.5 L1262.7 2276 L1256.6 2272.6 L1252.5 2270.3 L1246.3 2266.9 L1240 2263.6 L1234.2 2260.5 L1229.5 2258.1 L1223.2 2254.9 L1216.7 2251.7 L1210.3 2248.6 L1203.7 2245.6 L1197.1 2242.6 L1190.5 2239.6 L1183.7 2236.7 L1177 2233.9 L1170.1 2231.1 L1163.2 2228.3 L1156.2 2225.6 L1151.6 2223.8 L1144.5 2221.2 L1137.3 2218.6 L1132 2216.7 L1125.3 2214.4 L1118 2212 L1113.1 2210.3 L1105.6 2208 L1099.7 2206.1 L1093.1 2204.1 L1086.6 2202.2 L1080.4 2200.4 L1074.7 2198.8 L1067.5 2196.8 L1062.3 2195.3 L1054.4 2193.3 L1049.1 2191.9 L1043.3 2190.4 L1035.8 2188.5 L1030.4 2187.2 L1024.8 2185.9 L1016.9 2184 L1011.4 2182.8 L1005.9 2181.6 L999.2 2180.1 L992.1 2178.6 L986.5 2177.4 L980.9 2176.2 L975.3 2175.1 L968.1 2173.6 L961.1 2172.3 L955.4 2171.2 L949.7 2170.1 L943.9 2169 L938.1 2167.9 L932.3 2166.9 L925.4 2165.7 L918.6 2164.5 L911.9 2163.3 L906 2162.3 L900.2 2161.4 L894.2 2160.4 L888.3 2159.4 L882.4 2158.5 L876.4 2157.5 L870.4 2156.6 L864.4 2155.7 L858.4 2154.8 L852.4 2153.9 L846.4 2153 L840.3 2152.1 L834.2 2151.3 L828.2 2150.4 L822.1 2149.6 L815.9 2148.7 L809.8 2147.9 L803.7 2147 L797.6 2146.2 L791.4 2145.4 L785.2 2144.6Z" fill="#d1ff00" stroke="#d1ff00"/><path d="M1517.5 2111 L1511.1 2109.7 L1505.5 2108.6 L1499.9 2107.5 L1491.6 2105.7 L1486.2 2104.5 L1480.8 2103.3 L1472.8 2101.5 L1467.6 2100.2 L1459.9 2098.3 L1454.7 2097 L1447.2 2095 L1442.3 2093.7 L1435 2091.6 L1428.1 2089.6 L1423.1 2088 L1416.2 2085.9 L1409.4 2083.6 L1402.7 2081.4 L1398.3 2079.8 L1391.9 2077.5 L1385.6 2075.1 L1379.4 2072.7 L1375.4 2071.1 L1369.4 2068.6 L1363.6 2066.1 L1357.8 2063.6 L1352.3 2061 L1348.6 2059.3 L1343.2 2056.7 L1337.9 2054.1 L1334.4 2052.3 L1329.3 2049.6 L1325.9 2047.8 L1321 2045.1 L1317.7 2043.3 L1312.9 2040.5 L1309.7 2038.7 L1305.1 2035.9 L1302 2034.1 L1298.8 2032.1 L1294.5 2029.4 L1291.6 2027.6 L1287.8 2025.1 L1290.2 2024.6 L1294 2027 L1297 2028.9 L1301.2 2031.5 L1304.4 2033.5 L1307.5 2035.3 L1312.1 2038.1 L1315.3 2039.9 L1320.1 2042.7 L1323.3 2044.5 L1328.3 2047.2 L1331.6 2048.9 L1336.7 2051.6 L1340.2 2053.4 L1345.4 2056 L1350.8 2058.6 L1354.5 2060.3 L1360 2062.8 L1365.7 2065.4 L1371.5 2067.8 L1377.4 2070.3 L1381.4 2071.9 L1387.6 2074.3 L1393.8 2076.7 L1400.2 2079 L1404.6 2080.5 L1411.2 2082.7 L1417.9 2084.9 L1424.8 2087.1 L1429.8 2088.6 L1436.6 2090.6 L1443.9 2092.7 L1448.8 2094 L1456.2 2096 L1461.3 2097.3 L1469 2099.2 L1474.2 2100.4 L1482.1 2102.3 L1487.5 2103.5 L1492.9 2104.6 L1501.1 2106.4 L1506.6 2107.5 L1512.2 2108.6 L1518.6 2109.9Z" fill="#ffcb00" stroke="#ffcb00"/><path d="M832.8 2126 L839.3 2126.6 L845.8 2127.3 L851.3 2127.8 L856.6 2128.4 L862.1 2128.9 L868.5 2129.6 L875 2130.2 L881.5 2130.9 L887.9 2131.6 L893.9 2132.2 L899.3 2132.8 L904.7 2133.4 L910.4 2134 L916.8 2134.8 L923.2 2135.5 L929.6 2136.2 L935.9 2137 L942.3 2137.7 L948.6 2138.5 L954.9 2139.2 L960.6 2139.9 L966.4 2140.7 L972.2 2141.4 L978 2142.2 L983.9 2142.9 L989.9 2143.7 L995.9 2144.6 L1001.9 2145.4 L1008 2146.3 L1014.2 2147.1 L1020.4 2148.1 L1026.7 2149 L1033.1 2150 L1039.6 2151 L1046.2 2152 L1052.9 2153.1 L1059.1 2154.2 L1065 2155.2 L1070.9 2156.2 L1076.7 2157.3 L1082.5 2158.3 L1088.2 2159.4 L1095.8 2160.9 L1102.5 2162.2 L1108.1 2163.4 L1113.7 2164.6 L1120.1 2166 L1127.5 2167.6 L1133 2168.9 L1138.4 2170.2 L1146.4 2172.2 L1151.7 2173.5 L1158.9 2175.4 L1164.8 2177 L1170.8 2178.7 L1177.5 2180.7 L1184.6 2182.8 L1190 2184.5 L1197.3 2186.9 L1202.1 2188.5 L1209.2 2191 L1216.3 2193.6 L1223.2 2196.2 L1230 2198.9 L1236.7 2201.7 L1243.4 2204.5 L1249.9 2207.4 L1256.3 2210.3 L1262.6 2213.4 L1268.9 2216.4 L1275 2219.6 L1279 2221.7 L1285.1 2225 L1291 2228.3 L1294.9 2230.5 L1300.7 2234 L1305.5 2236.9 L1310.2 2239.8 L1315.5 2243.1 L1319.6 2245.7 L1324.2 2248.8 L1328.8 2251.9 L1332.4 2254.4 L1337.8 2258.1 L1341.4 2260.7 L1346.3 2264.2 L1350.3 2267.2 L1353.8 2269.8 L1359 2273.7 L1362.6 2276.5 L1366.1 2279.2 L1370.6 2282.7 L1374.7 2286 L1371.8 2286.7 L1367.6 2283.4 L1363.1 2279.9 L1359.7 2277.2 L1356.1 2274.4 L1351 2270.5 L1347.4 2267.9 L1343.5 2265 L1338.6 2261.5 L1335 2258.9 L1329.6 2255.2 L1326 2252.7 L1321.4 2249.6 L1316.8 2246.6 L1312.7 2243.9 L1307.5 2240.6 L1302.9 2237.7 L1298.1 2234.8 L1292.3 2231.4 L1288.4 2229.2 L1282.5 2225.9 L1276.5 2222.6 L1272.5 2220.5 L1266.4 2217.4 L1260.2 2214.3 L1253.9 2211.3 L1247.5 2208.4 L1241.1 2205.5 L1234.5 2202.7 L1227.8 2199.9 L1221.1 2197.2 L1214.2 2194.6 L1207.2 2192.1 L1200.1 2189.6 L1195.3 2188 L1188 2185.6 L1182.7 2183.9 L1175.7 2181.8 L1169 2179.8 L1163 2178.1 L1157.2 2176.6 L1150 2174.7 L1144.8 2173.3 L1136.8 2171.4 L1131.4 2170.1 L1126 2168.8 L1118.6 2167.2 L1112.2 2165.8 L1106.7 2164.6 L1101.1 2163.4 L1094.4 2162.1 L1086.9 2160.6 L1081.1 2159.6 L1075.4 2158.5 L1069.5 2157.4 L1063.7 2156.4 L1057.8 2155.4 L1051.6 2154.4 L1045 2153.3 L1038.4 2152.2 L1031.9 2151.2 L1025.6 2150.2 L1019.3 2149.3 L1013 2148.4 L1006.9 2147.5 L1000.8 2146.6 L994.7 2145.8 L988.8 2145 L982.8 2144.2 L976.9 2143.4 L971.1 2142.7 L965.3 2141.9 L959.5 2141.2 L953.8 2140.5 L947.5 2139.7 L941.2 2139 L934.9 2138.2 L928.5 2137.5 L922.2 2136.7 L915.8 2136 L909.4 2135.3 L903.7 2134.7 L898.3 2134.1 L892.9 2133.5 L886.9 2132.8 L880.5 2132.2 L874 2131.5 L867.5 2130.8 L861 2130.2 L855.6 2129.6 L850.3 2129.1 L844.8 2128.5 L838.3 2127.9 L831.8 2127.2Z" fill="#ffcb00" stroke="#ffcb00"/><path d="M1623.4 2165.8 L1617.7 2165.7 L1611.4 2165.5 L1604.3 2165.4 L1599.2 2165.3 L1591.1 2165.2 L1586.8 2165.1 L1578.7 2165 L1573.8 2165 L1566.3 2165 L1561 2164.9 L1553.6 2165 L1548.5 2165 L1540.8 2165.1 L1536.3 2165.1 L1528.3 2165.3 L1523.2 2165.4 L1516.7 2165.7 L1509.4 2166 L1504.7 2166.2 L1498.2 2166.6 L1491.1 2167.2 L1484.7 2167.8 L1479.2 2168.4 L1473.4 2169.1 L1467.1 2170.1 L1460.2 2171.4 L1455 2172.7 L1449.9 2174.2 L1443.9 2176.5 L1438.4 2179.3 L1435.4 2181.4 L1432.3 2184.2 L1430 2187.2 L1428.6 2189.8 L1427.6 2192.2 L1427 2194.9 L1426.6 2198.3 L1426.6 2200.6 L1426.8 2203.6 L1427.2 2206.3 L1427.9 2209.3 L1428.6 2211.8 L1429.7 2215.3 L1430.5 2217.5 L1431.7 2220.5 L1433.2 2224 L1434.3 2226.3 L1435.6 2229 L1437.4 2232.4 L1439.1 2235.6 L1440.4 2237.9 L1442.1 2240.7 L1444 2244.1 L1446.1 2247.4 L1447.9 2250.3 L1448.1 2250.7 L1444.9 2251 L1444.7 2250.6 L1442.8 2247.7 L1440.8 2244.4 L1438.8 2241 L1437.2 2238.2 L1435.9 2235.8 L1434.2 2232.6 L1432.4 2229.3 L1431 2226.5 L1430 2224.2 L1428.5 2220.7 L1427.2 2217.6 L1426.4 2215.4 L1425.3 2211.9 L1424.6 2209.3 L1424 2206.3 L1423.6 2203.5 L1423.4 2200.5 L1423.4 2198.1 L1423.7 2194.7 L1424.4 2191.9 L1425.4 2189.5 L1426.9 2186.8 L1429.3 2183.6 L1432.6 2180.7 L1435.8 2178.4 L1441.5 2175.5 L1447.8 2173.1 L1453.2 2171.5 L1458.6 2170.2 L1465.7 2168.8 L1472.1 2167.8 L1478.1 2167.1 L1483.7 2166.4 L1490.3 2165.8 L1497.4 2165.3 L1504 2164.9 L1508.8 2164.6 L1516.1 2164.3 L1522.6 2164.1 L1527.8 2164 L1535.9 2163.8 L1540.4 2163.7 L1548.2 2163.6 L1553.3 2163.6 L1560.7 2163.6 L1566 2163.6 L1573.5 2163.7 L1578.5 2163.7 L1586.5 2163.8 L1590.9 2163.8 L1599 2164 L1604.1 2164.1 L1611.1 2164.2 L1617.5 2164.3 L1623.2 2164.5Z" fill="#ff6900" stroke="#ff6900"/><path d="M890.1 2104.5 L897.3 2104.8 L902.7 2105.1 L908.3 2105.3 L915.5 2105.6 L920.6 2105.8 L926.5 2106 L933.8 2106.3 L938.3 2106.5 L944.9 2106.7 L951.6 2107 L956 2107.2 L963.3 2107.4 L969.3 2107.6 L974.4 2107.8 L981.9 2108.1 L986.8 2108.2 L993.1 2108.4 L999.9 2108.6 L1004.4 2108.7 L1012 2108.9 L1017.2 2109.1 L1023.4 2109.2 L1030 2109.4 L1034.9 2109.5 L1042.6 2109.6 L1047 2109.7 L1054.3 2109.8 L1059.6 2109.9 L1066.1 2110 L1072 2110 L1078 2110.1 L1084.3 2110.1 L1090.2 2110.1 L1096.3 2110 L1102.6 2110 L1108.1 2109.9 L1115.3 2109.7 L1119.6 2109.6 L1127.2 2109.4 L1132.9 2109.1 L1138.1 2108.9 L1145.2 2108.5 L1151.9 2108 L1157 2107.6 L1162.3 2107 L1168.1 2106.4 L1174 2105.5 L1181 2104.3 L1187.5 2102.9 L1192.2 2101.6 L1198.7 2099.5 L1204.2 2096.9 L1207.3 2095.1 L1211.1 2092.1 L1213.4 2089.6 L1215 2087.3 L1216.1 2085.3 L1217 2083.2 L1217.7 2080.4 L1218 2078.2 L1218.2 2075.9 L1218.1 2073.5 L1217.9 2071.1 L1217.6 2069 L1217 2066.1 L1216.6 2064.4 L1215.8 2061.9 L1214.9 2059.2 L1214.3 2057.4 L1213.4 2055.1 L1212.3 2052.5 L1211.2 2050.1 L1210.3 2048.3 L1209.3 2046.1 L1208 2043.6 L1206.7 2041.1 L1205.5 2038.9 L1204.4 2037 L1203.2 2034.9 L1201.8 2032.5 L1200.4 2030.1 L1198.9 2027.7 L1197.5 2025.5 L1196.3 2023.5 L1195 2021.6 L1193.7 2019.5 L1192.1 2017.2 L1190.6 2014.9 L1189.1 2012.6 L1187.5 2010.4 L1186 2008.1 L1184.6 2006.1 L1183.2 2004.2 L1181.9 2002.2 L1180.5 2000.3 L1178.9 1998.1 L1178.1 1997 L1180.8 1996.7 L1181.6 1997.8 L1183.2 2000 L1184.6 2001.9 L1186 2003.9 L1187.3 2005.8 L1188.7 2007.8 L1190.3 2010.1 L1191.8 2012.4 L1193.4 2014.7 L1194.9 2017 L1196.4 2019.3 L1197.8 2021.3 L1199 2023.3 L1200.3 2025.2 L1201.7 2027.5 L1203.1 2029.9 L1204.6 2032.3 L1206 2034.7 L1207.2 2036.7 L1208.3 2038.6 L1209.5 2040.9 L1210.8 2043.4 L1212.1 2045.9 L1213.2 2048.1 L1214.1 2049.9 L1215.2 2052.3 L1216.3 2055 L1217.2 2057.2 L1217.8 2059 L1218.8 2061.7 L1219.5 2064.3 L1220 2066 L1220.5 2068.9 L1220.9 2071.1 L1221.1 2073.4 L1221.2 2075.9 L1221 2078.3 L1220.7 2080.5 L1219.9 2083.4 L1219.1 2085.6 L1218 2087.6 L1216.3 2090 L1213.8 2092.6 L1210 2095.7 L1206.6 2097.7 L1200.8 2100.3 L1194.1 2102.6 L1189 2104 L1182.3 2105.4 L1175.1 2106.7 L1169 2107.5 L1163 2108.2 L1157.6 2108.8 L1152.4 2109.2 L1145.6 2109.7 L1138.4 2110.1 L1133.2 2110.4 L1127.4 2110.6 L1119.8 2110.9 L1115.4 2111 L1108.2 2111.1 L1102.6 2111.2 L1096.3 2111.3 L1090.1 2111.3 L1084.2 2111.3 L1077.9 2111.3 L1071.9 2111.3 L1065.9 2111.2 L1059.4 2111.1 L1054.1 2111.1 L1046.8 2111 L1042.3 2110.9 L1034.6 2110.7 L1029.7 2110.6 L1023.1 2110.5 L1016.8 2110.3 L1011.6 2110.2 L1004 2110 L999.5 2109.8 L992.7 2109.6 L986.4 2109.4 L981.5 2109.3 L974 2109 L968.8 2108.9 L962.8 2108.7 L955.6 2108.4 L951.1 2108.2 L944.3 2108 L937.8 2107.7 L933.3 2107.5 L926 2107.3 L920 2107 L915 2106.8 L907.7 2106.5 L902.2 2106.3 L896.8 2106.1 L889.5 2105.7Z" fill="#ff6900" stroke="#ff6900"/></g><path d="M777.6 2156.5 L1196.8 2358 L1616.1 2156.5 L1196.8 1998.7Z" fill="none" stroke="#000" stroke-width="2.9" stroke-linejoin="miter"/>
<path d="M1432.2 1770 V1795" stroke="#404040" stroke-width="4.4"/><circle cx="1432.2" cy="1801.4" r="9.2" fill="#ffc8c8" stroke="#2a1a1a" stroke-width="1.5"/>
<defs><linearGradient id="b0" gradientUnits="userSpaceOnUse" x1="1201.9" y1="1590.7" x2="1191.7" y2="1602.6"><stop stop-color="#ff8f00"/><stop offset="1" stop-color="#ff6000"/></linearGradient><linearGradient id="b1" gradientUnits="userSpaceOnUse" x1="1220.7" y1="1600.7" x2="1212.5" y2="1611.7"><stop stop-color="#ff9e00"/><stop offset="1" stop-color="#ff7100"/></linearGradient><linearGradient id="b2" gradientUnits="userSpaceOnUse" x1="1186.1" y1="1586.5" x2="1167.9" y2="1601.1"><stop stop-color="#ff7100"/><stop offset="1" stop-color="#ff4500"/></linearGradient><linearGradient id="b3" gradientUnits="userSpaceOnUse" x1="1239.8" y1="1610.3" x2="1233.3" y2="1620.3"><stop stop-color="#ffaa00"/><stop offset="1" stop-color="#ff8000"/></linearGradient><linearGradient id="b4" gradientUnits="userSpaceOnUse" x1="1204.2" y1="1596.4" x2="1189.4" y2="1610.7"><stop stop-color="#ff8000"/><stop offset="1" stop-color="#ff5700"/></linearGradient><linearGradient id="b5" gradientUnits="userSpaceOnUse" x1="1172.8" y1="1586.4" x2="1141.1" y2="1598"><stop stop-color="#ff5600"/><stop offset="1" stop-color="#ff2f00"/></linearGradient><linearGradient id="b6" gradientUnits="userSpaceOnUse" x1="1259.4" y1="1619.6" x2="1254.1" y2="1628.5"><stop stop-color="#ffb500"/><stop offset="1" stop-color="#ff8d00"/></linearGradient><linearGradient id="b7" gradientUnits="userSpaceOnUse" x1="1222.7" y1="1606.1" x2="1210.9" y2="1619.6"><stop stop-color="#ff8d00"/><stop offset="1" stop-color="#ff6600"/></linearGradient><linearGradient id="b8" gradientUnits="userSpaceOnUse" x1="1190.3" y1="1595" x2="1163.3" y2="1609.3"><stop stop-color="#ff6600"/><stop offset="1" stop-color="#ff4100"/></linearGradient><linearGradient id="b9" gradientUnits="userSpaceOnUse" x1="1157" y1="1595.2" x2="1116.3" y2="1588.5"><stop stop-color="#ff4100"/><stop offset="1" stop-color="#ff1e00"/></linearGradient><linearGradient id="b10" gradientUnits="userSpaceOnUse" x1="1279.2" y1="1628.4" x2="1275.1" y2="1636.3"><stop stop-color="#ffbf00"/><stop offset="1" stop-color="#ff9900"/></linearGradient><linearGradient id="b11" gradientUnits="userSpaceOnUse" x1="1241.7" y1="1615.5" x2="1232.4" y2="1628"><stop stop-color="#ff9900"/><stop offset="1" stop-color="#ff7400"/></linearGradient><linearGradient id="b12" gradientUnits="userSpaceOnUse" x1="1207.9" y1="1603.8" x2="1185.7" y2="1619.5"><stop stop-color="#ff7400"/><stop offset="1" stop-color="#ff5100"/></linearGradient><linearGradient id="b13" gradientUnits="userSpaceOnUse" x1="1176.7" y1="1602.2" x2="1136.3" y2="1601.7"><stop stop-color="#ff5100"/><stop offset="1" stop-color="#ff3000"/></linearGradient><linearGradient id="b14" gradientUnits="userSpaceOnUse" x1="1130.3" y1="1604.5" x2="1101.8" y2="1581"><stop stop-color="#ff3000"/><stop offset="1" stop-color="#ff1000"/></linearGradient><linearGradient id="b15" gradientUnits="userSpaceOnUse" x1="1299.4" y1="1636.8" x2="1296.2" y2="1643.8"><stop stop-color="#ffc600"/><stop offset="1" stop-color="#ffa200"/></linearGradient><linearGradient id="b16" gradientUnits="userSpaceOnUse" x1="1261.1" y1="1624.6" x2="1253.9" y2="1636"><stop stop-color="#ffa200"/><stop offset="1" stop-color="#ff8000"/></linearGradient><linearGradient id="b17" gradientUnits="userSpaceOnUse" x1="1225.8" y1="1612.8" x2="1208.3" y2="1628.8"><stop stop-color="#ff8000"/><stop offset="1" stop-color="#ff6000"/></linearGradient><linearGradient id="b18" gradientUnits="userSpaceOnUse" x1="1195.7" y1="1608.7" x2="1157.4" y2="1614.7"><stop stop-color="#ff6000"/><stop offset="1" stop-color="#ff4100"/></linearGradient><linearGradient id="b19" gradientUnits="userSpaceOnUse" x1="1151.6" y1="1614" x2="1120.3" y2="1592.2"><stop stop-color="#ff4100"/><stop offset="1" stop-color="#ff2300"/></linearGradient><linearGradient id="b20" gradientUnits="userSpaceOnUse" x1="1102.4" y1="1606.9" x2="1088.1" y2="1583.1"><stop stop-color="#ff2300"/><stop offset="1" stop-color="#ff0800"/></linearGradient><linearGradient id="b21" gradientUnits="userSpaceOnUse" x1="1320" y1="1644.8" x2="1317.5" y2="1650.8"><stop stop-color="#ffcc00"/><stop offset="1" stop-color="#ffab00"/></linearGradient><linearGradient id="b22" gradientUnits="userSpaceOnUse" x1="1280.9" y1="1633.4" x2="1275.4" y2="1643.5"><stop stop-color="#ffab00"/><stop offset="1" stop-color="#ff8b00"/></linearGradient><linearGradient id="b23" gradientUnits="userSpaceOnUse" x1="1244.3" y1="1621.9" x2="1230.8" y2="1637.2"><stop stop-color="#ff8b00"/><stop offset="1" stop-color="#ff6c00"/></linearGradient><linearGradient id="b24" gradientUnits="userSpaceOnUse" x1="1213.8" y1="1615.2" x2="1179.9" y2="1626.9"><stop stop-color="#ff6c00"/><stop offset="1" stop-color="#ff5000"/></linearGradient><linearGradient id="b25" gradientUnits="userSpaceOnUse" x1="1173.3" y1="1622.6" x2="1138.7" y2="1603.6"><stop stop-color="#ff5000"/><stop offset="1" stop-color="#ff3500"/></linearGradient><linearGradient id="b26" gradientUnits="userSpaceOnUse" x1="1122.6" y1="1617.4" x2="1107.7" y2="1593.7"><stop stop-color="#ff3500"/><stop offset="1" stop-color="#ff1b00"/></linearGradient><linearGradient id="b27" gradientUnits="userSpaceOnUse" x1="1077.7" y1="1608.1" x2="1070.8" y2="1589"><stop stop-color="#ff1b00"/><stop offset="1" stop-color="#ff0400"/></linearGradient><linearGradient id="b28" gradientUnits="userSpaceOnUse" x1="1340.8" y1="1652.4" x2="1338.9" y2="1657.6"><stop stop-color="#ffd100"/><stop offset="1" stop-color="#ffb100"/></linearGradient><linearGradient id="b29" gradientUnits="userSpaceOnUse" x1="1301.2" y1="1641.8" x2="1297" y2="1650.6"><stop stop-color="#ffb100"/><stop offset="1" stop-color="#ff9300"/></linearGradient><linearGradient id="b30" gradientUnits="userSpaceOnUse" x1="1263.3" y1="1630.8" x2="1253.1" y2="1644.9"><stop stop-color="#ff9300"/><stop offset="1" stop-color="#ff7700"/></linearGradient><linearGradient id="b31" gradientUnits="userSpaceOnUse" x1="1231.3" y1="1622.2" x2="1203.3" y2="1637.9"><stop stop-color="#ff7700"/><stop offset="1" stop-color="#ff5d00"/></linearGradient><linearGradient id="b32" gradientUnits="userSpaceOnUse" x1="1195.3" y1="1630.1" x2="1157.3" y2="1615.2"><stop stop-color="#ff5d00"/><stop offset="1" stop-color="#ff4400"/></linearGradient><linearGradient id="b33" gradientUnits="userSpaceOnUse" x1="1143.1" y1="1627.6" x2="1127.3" y2="1604"><stop stop-color="#ff4400"/><stop offset="1" stop-color="#ff2d00"/></linearGradient><linearGradient id="b34" gradientUnits="userSpaceOnUse" x1="1097.5" y1="1618.7" x2="1090.8" y2="1600.1"><stop stop-color="#ff2d00"/><stop offset="1" stop-color="#ff1800"/></linearGradient><linearGradient id="b35" gradientUnits="userSpaceOnUse" x1="1054.8" y1="1611.4" x2="1051.2" y2="1595.8"><stop stop-color="#ff1900"/><stop offset="1" stop-color="#ff0400"/></linearGradient><linearGradient id="b36" gradientUnits="userSpaceOnUse" x1="1362" y1="1659.5" x2="1360.5" y2="1663.9"><stop stop-color="#ffd300"/><stop offset="1" stop-color="#ffb600"/></linearGradient><linearGradient id="b37" gradientUnits="userSpaceOnUse" x1="1321.8" y1="1649.7" x2="1318.7" y2="1657.3"><stop stop-color="#ffb600"/><stop offset="1" stop-color="#ff9a00"/></linearGradient><linearGradient id="b38" gradientUnits="userSpaceOnUse" x1="1282.9" y1="1639.5" x2="1275.4" y2="1652.1"><stop stop-color="#ff9a00"/><stop offset="1" stop-color="#ff8000"/></linearGradient><linearGradient id="b39" gradientUnits="userSpaceOnUse" x1="1248.8" y1="1629.9" x2="1227.3" y2="1647.3"><stop stop-color="#ff8000"/><stop offset="1" stop-color="#ff6800"/></linearGradient><linearGradient id="b40" gradientUnits="userSpaceOnUse" x1="1217.2" y1="1636.1" x2="1176.4" y2="1627.6"><stop stop-color="#ff6800"/><stop offset="1" stop-color="#ff5200"/></linearGradient><linearGradient id="b41" gradientUnits="userSpaceOnUse" x1="1163.9" y1="1637.4" x2="1147.1" y2="1613.8"><stop stop-color="#ff5200"/><stop offset="1" stop-color="#ff3d00"/></linearGradient><linearGradient id="b42" gradientUnits="userSpaceOnUse" x1="1032.8" y1="1618.8" x2="1030.1" y2="1601"><stop stop-color="#ff1f00"/><stop offset="1" stop-color="#ff0400"/></linearGradient><linearGradient id="b43" gradientUnits="userSpaceOnUse" x1="1117.4" y1="1628.8" x2="1111" y2="1610.9"><stop stop-color="#ff3d00"/><stop offset="1" stop-color="#ff2a00"/></linearGradient><linearGradient id="b44" gradientUnits="userSpaceOnUse" x1="1074.6" y1="1622.5" x2="1071.1" y2="1606.8"><stop stop-color="#ff2c00"/><stop offset="1" stop-color="#ff1800"/></linearGradient><linearGradient id="b45" gradientUnits="userSpaceOnUse" x1="1383.4" y1="1666.1" x2="1382.4" y2="1669.8"><stop stop-color="#ffd400"/><stop offset="1" stop-color="#ffb900"/></linearGradient><linearGradient id="b46" gradientUnits="userSpaceOnUse" x1="1342.8" y1="1657.1" x2="1340.5" y2="1663.7"><stop stop-color="#ffb900"/><stop offset="1" stop-color="#ffa000"/></linearGradient><linearGradient id="b47" gradientUnits="userSpaceOnUse" x1="1303.1" y1="1647.9" x2="1297.7" y2="1658.8"><stop stop-color="#ffa000"/><stop offset="1" stop-color="#ff8800"/></linearGradient><linearGradient id="b48" gradientUnits="userSpaceOnUse" x1="1266.8" y1="1638.2" x2="1251.2" y2="1655.3"><stop stop-color="#ff8800"/><stop offset="1" stop-color="#ff7200"/></linearGradient><linearGradient id="b49" gradientUnits="userSpaceOnUse" x1="1238.3" y1="1640.5" x2="1196.8" y2="1640.8"><stop stop-color="#ff7200"/><stop offset="1" stop-color="#ff5e00"/></linearGradient><linearGradient id="b50" gradientUnits="userSpaceOnUse" x1="1010.7" y1="1627.5" x2="1008.7" y2="1607.7"><stop stop-color="#ff2900"/><stop offset="1" stop-color="#ff0900"/></linearGradient><linearGradient id="b51" gradientUnits="userSpaceOnUse" x1="1185.1" y1="1646.7" x2="1167" y2="1623.3"><stop stop-color="#ff5e00"/><stop offset="1" stop-color="#ff4c00"/></linearGradient><linearGradient id="b52" gradientUnits="userSpaceOnUse" x1="1052.6" y1="1630.2" x2="1050.1" y2="1612.3"><stop stop-color="#ff3200"/><stop offset="1" stop-color="#ff1900"/></linearGradient><linearGradient id="b53" gradientUnits="userSpaceOnUse" x1="1137.5" y1="1638.5" x2="1131.5" y2="1621.2"><stop stop-color="#ff4c00"/><stop offset="1" stop-color="#ff3b00"/></linearGradient><linearGradient id="b54" gradientUnits="userSpaceOnUse" x1="1094.6" y1="1633.2" x2="1091.3" y2="1617.5"><stop stop-color="#ff3d00"/><stop offset="1" stop-color="#ff2a00"/></linearGradient><linearGradient id="b55" gradientUnits="userSpaceOnUse" x1="1405.2" y1="1672.3" x2="1404.4" y2="1675.6"><stop stop-color="#ffd300"/><stop offset="1" stop-color="#ffb900"/></linearGradient><linearGradient id="b56" gradientUnits="userSpaceOnUse" x1="1364.2" y1="1664.1" x2="1362.5" y2="1669.7"><stop stop-color="#ffba00"/><stop offset="1" stop-color="#ffa300"/></linearGradient><linearGradient id="b57" gradientUnits="userSpaceOnUse" x1="1323.7" y1="1655.8" x2="1319.9" y2="1665.1"><stop stop-color="#ffa300"/><stop offset="1" stop-color="#ff8e00"/></linearGradient><linearGradient id="b58" gradientUnits="userSpaceOnUse" x1="1285.6" y1="1646.7" x2="1274.8" y2="1662.3"><stop stop-color="#ff8e00"/><stop offset="1" stop-color="#ff7a00"/></linearGradient><linearGradient id="b59" gradientUnits="userSpaceOnUse" x1="988.3" y1="1637.6" x2="987.1" y2="1615.9"><stop stop-color="#ff3700"/><stop offset="1" stop-color="#ff1300"/></linearGradient><linearGradient id="b60" gradientUnits="userSpaceOnUse" x1="1257.3" y1="1644" x2="1219.7" y2="1654.1"><stop stop-color="#ff7a00"/><stop offset="1" stop-color="#ff6800"/></linearGradient><linearGradient id="b61" gradientUnits="userSpaceOnUse" x1="1030.4" y1="1639.1" x2="1028.8" y2="1619.3"><stop stop-color="#ff3d00"/><stop offset="1" stop-color="#ff1f00"/></linearGradient><linearGradient id="b62" gradientUnits="userSpaceOnUse" x1="1206.8" y1="1655.7" x2="1186.8" y2="1632.4"><stop stop-color="#ff6800"/><stop offset="1" stop-color="#ff5800"/></linearGradient><linearGradient id="b63" gradientUnits="userSpaceOnUse" x1="1072.5" y1="1641.1" x2="1070.4" y2="1623.3"><stop stop-color="#ff4400"/><stop offset="1" stop-color="#ff2c00"/></linearGradient><linearGradient id="b64" gradientUnits="userSpaceOnUse" x1="1157.9" y1="1647.8" x2="1152.2" y2="1631.3"><stop stop-color="#ff5800"/><stop offset="1" stop-color="#ff4a00"/></linearGradient><linearGradient id="b65" gradientUnits="userSpaceOnUse" x1="1114.8" y1="1643.5" x2="1111.8" y2="1627.8"><stop stop-color="#ff4c00"/><stop offset="1" stop-color="#ff3b00"/></linearGradient><linearGradient id="b66" gradientUnits="userSpaceOnUse" x1="1427.4" y1="1677.8" x2="1426.7" y2="1680.9"><stop stop-color="#ffd200"/><stop offset="1" stop-color="#ffb700"/></linearGradient><linearGradient id="b67" gradientUnits="userSpaceOnUse" x1="1385.9" y1="1670.7" x2="1384.7" y2="1675.4"><stop stop-color="#ffba00"/><stop offset="1" stop-color="#ffa400"/></linearGradient><linearGradient id="b68" gradientUnits="userSpaceOnUse" x1="1344.8" y1="1663.3" x2="1342.2" y2="1671"><stop stop-color="#ffa500"/><stop offset="1" stop-color="#ff9200"/></linearGradient><linearGradient id="b69" gradientUnits="userSpaceOnUse" x1="1305.2" y1="1655.1" x2="1298.1" y2="1668.5"><stop stop-color="#ff9200"/><stop offset="1" stop-color="#ff8100"/></linearGradient><linearGradient id="b70" gradientUnits="userSpaceOnUse" x1="965.8" y1="1649.1" x2="965.3" y2="1625.5"><stop stop-color="#ff4b00"/><stop offset="1" stop-color="#ff2100"/></linearGradient><linearGradient id="b71" gradientUnits="userSpaceOnUse" x1="1274.3" y1="1648.4" x2="1245.3" y2="1665.6"><stop stop-color="#ff8100"/><stop offset="1" stop-color="#ff7100"/></linearGradient><linearGradient id="b72" gradientUnits="userSpaceOnUse" x1="1008.1" y1="1649.5" x2="1007.2" y2="1627.8"><stop stop-color="#ff4c00"/><stop offset="1" stop-color="#ff2900"/></linearGradient><linearGradient id="b73" gradientUnits="userSpaceOnUse" x1="1229.1" y1="1664.2" x2="1206.4" y2="1641.1"><stop stop-color="#ff7100"/><stop offset="1" stop-color="#ff6300"/></linearGradient><linearGradient id="b74" gradientUnits="userSpaceOnUse" x1="1050.3" y1="1650.3" x2="1049" y2="1630.6"><stop stop-color="#ff4f00"/><stop offset="1" stop-color="#ff3200"/></linearGradient><linearGradient id="b75" gradientUnits="userSpaceOnUse" x1="1178.3" y1="1656.6" x2="1173.3" y2="1641"><stop stop-color="#ff6300"/><stop offset="1" stop-color="#ff5700"/></linearGradient><linearGradient id="b76" gradientUnits="userSpaceOnUse" x1="1092.7" y1="1651.7" x2="1090.8" y2="1633.9"><stop stop-color="#ff5400"/><stop offset="1" stop-color="#ff3d00"/></linearGradient><linearGradient id="b77" gradientUnits="userSpaceOnUse" x1="1135.2" y1="1653.5" x2="1132.5" y2="1637.7"><stop stop-color="#ff5a00"/><stop offset="1" stop-color="#ff4a00"/></linearGradient><linearGradient id="b78" gradientUnits="userSpaceOnUse" x1="1449.8" y1="1682.9" x2="1449.2" y2="1685.8"><stop stop-color="#ffcf00"/><stop offset="1" stop-color="#ffb300"/></linearGradient><linearGradient id="b79" gradientUnits="userSpaceOnUse" x1="1408" y1="1676.4" x2="1407" y2="1681"><stop stop-color="#ffb900"/><stop offset="1" stop-color="#ffa300"/></linearGradient><linearGradient id="b80" gradientUnits="userSpaceOnUse" x1="1366.4" y1="1670.2" x2="1364.6" y2="1676.6"><stop stop-color="#ffa500"/><stop offset="1" stop-color="#ff9400"/></linearGradient><linearGradient id="b81" gradientUnits="userSpaceOnUse" x1="943.1" y1="1662" x2="943.2" y2="1636.6"><stop stop-color="#ff6200"/><stop offset="1" stop-color="#ff3400"/></linearGradient><linearGradient id="b82" gradientUnits="userSpaceOnUse" x1="1325.7" y1="1663.2" x2="1321.1" y2="1674.2"><stop stop-color="#ff9400"/><stop offset="1" stop-color="#ff8500"/></linearGradient><linearGradient id="b83" gradientUnits="userSpaceOnUse" x1="985.5" y1="1661.2" x2="985.3" y2="1637.7"><stop stop-color="#ff6000"/><stop offset="1" stop-color="#ff3700"/></linearGradient><linearGradient id="b84" gradientUnits="userSpaceOnUse" x1="1290.6" y1="1655" x2="1271.9" y2="1674.1"><stop stop-color="#ff8500"/><stop offset="1" stop-color="#ff7800"/></linearGradient><linearGradient id="b85" gradientUnits="userSpaceOnUse" x1="1028" y1="1661" x2="1027.4" y2="1639.3"><stop stop-color="#ff5f00"/><stop offset="1" stop-color="#ff3d00"/></linearGradient><linearGradient id="b86" gradientUnits="userSpaceOnUse" x1="1252.5" y1="1671.9" x2="1225.6" y2="1649.8"><stop stop-color="#ff7800"/><stop offset="1" stop-color="#ff6c00"/></linearGradient><linearGradient id="b87" gradientUnits="userSpaceOnUse" x1="1070.5" y1="1661.2" x2="1069.5" y2="1641.4"><stop stop-color="#ff5f00"/><stop offset="1" stop-color="#ff4400"/></linearGradient><linearGradient id="b88" gradientUnits="userSpaceOnUse" x1="1199" y1="1664.9" x2="1194.6" y2="1650.5"><stop stop-color="#ff6c00"/><stop offset="1" stop-color="#ff6200"/></linearGradient><linearGradient id="b89" gradientUnits="userSpaceOnUse" x1="1113" y1="1661.9" x2="1111.6" y2="1644"><stop stop-color="#ff6200"/><stop offset="1" stop-color="#ff4c00"/></linearGradient><linearGradient id="b90" gradientUnits="userSpaceOnUse" x1="1155.7" y1="1663" x2="1153.4" y2="1647.2"><stop stop-color="#ff6600"/><stop offset="1" stop-color="#ff5700"/></linearGradient><linearGradient id="b91" gradientUnits="userSpaceOnUse" x1="1472.5" y1="1687.6" x2="1472.1" y2="1690.3"><stop stop-color="#ffca00"/><stop offset="1" stop-color="#ffad00"/></linearGradient><linearGradient id="b92" gradientUnits="userSpaceOnUse" x1="1430.5" y1="1681.7" x2="1429.6" y2="1686.1"><stop stop-color="#ffb700"/><stop offset="1" stop-color="#ff9f00"/></linearGradient><linearGradient id="b93" gradientUnits="userSpaceOnUse" x1="920.2" y1="1676.5" x2="920.8" y2="1649.2"><stop stop-color="#ff7e00"/><stop offset="1" stop-color="#ff4b00"/></linearGradient><linearGradient id="b94" gradientUnits="userSpaceOnUse" x1="1388.4" y1="1676.3" x2="1387" y2="1682.4"><stop stop-color="#ffa400"/><stop offset="1" stop-color="#ff9300"/></linearGradient><linearGradient id="b95" gradientUnits="userSpaceOnUse" x1="962.8" y1="1674.5" x2="963.2" y2="1649.1"><stop stop-color="#ff7800"/><stop offset="1" stop-color="#ff4b00"/></linearGradient><linearGradient id="b96" gradientUnits="userSpaceOnUse" x1="1346.8" y1="1670.9" x2="1344" y2="1679.6"><stop stop-color="#ff9500"/><stop offset="1" stop-color="#ff8800"/></linearGradient><linearGradient id="b97" gradientUnits="userSpaceOnUse" x1="1005.4" y1="1673" x2="1005.6" y2="1649.5"><stop stop-color="#ff7300"/><stop offset="1" stop-color="#ff4c00"/></linearGradient><linearGradient id="b98" gradientUnits="userSpaceOnUse" x1="1308.2" y1="1663.3" x2="1297.8" y2="1680"><stop stop-color="#ff8800"/><stop offset="1" stop-color="#ff7d00"/></linearGradient><linearGradient id="b99" gradientUnits="userSpaceOnUse" x1="1048.1" y1="1672.1" x2="1047.9" y2="1650.4"><stop stop-color="#ff7000"/><stop offset="1" stop-color="#ff4f00"/></linearGradient><linearGradient id="b100" gradientUnits="userSpaceOnUse" x1="1277.4" y1="1678" x2="1243.6" y2="1659.4"><stop stop-color="#ff7d00"/><stop offset="1" stop-color="#ff7400"/></linearGradient><linearGradient id="b101" gradientUnits="userSpaceOnUse" x1="1090.8" y1="1671.6" x2="1090.3" y2="1651.9"><stop stop-color="#ff6e00"/><stop offset="1" stop-color="#ff5400"/></linearGradient><linearGradient id="b102" gradientUnits="userSpaceOnUse" x1="1219.9" y1="1672.9" x2="1216.3" y2="1659.6"><stop stop-color="#ff7400"/><stop offset="1" stop-color="#ff6c00"/></linearGradient><linearGradient id="b103" gradientUnits="userSpaceOnUse" x1="1133.6" y1="1671.6" x2="1132.5" y2="1653.8"><stop stop-color="#ff6e00"/><stop offset="1" stop-color="#ff5a00"/></linearGradient><linearGradient id="b104" gradientUnits="userSpaceOnUse" x1="1176.5" y1="1672.1" x2="1174.7" y2="1656.3"><stop stop-color="#ff7000"/><stop offset="1" stop-color="#ff6200"/></linearGradient><linearGradient id="b105" gradientUnits="userSpaceOnUse" x1="1495.6" y1="1691.8" x2="1495.2" y2="1694.2"><stop stop-color="#ffc400"/><stop offset="1" stop-color="#ffa600"/></linearGradient><linearGradient id="b106" gradientUnits="userSpaceOnUse" x1="897.1" y1="1692.4" x2="898.3" y2="1663.3"><stop stop-color="#ff9f00"/><stop offset="1" stop-color="#ff6700"/></linearGradient><linearGradient id="b107" gradientUnits="userSpaceOnUse" x1="1453.2" y1="1686.5" x2="1452.5" y2="1690.7"><stop stop-color="#ffb300"/><stop offset="1" stop-color="#ff9a00"/></linearGradient><linearGradient id="b108" gradientUnits="userSpaceOnUse" x1="939.9" y1="1689.2" x2="940.9" y2="1662"><stop stop-color="#ff9500"/><stop offset="1" stop-color="#ff6200"/></linearGradient><linearGradient id="b109" gradientUnits="userSpaceOnUse" x1="1410.8" y1="1681.7" x2="1409.7" y2="1687.7"><stop stop-color="#ffa300"/><stop offset="1" stop-color="#ff9100"/></linearGradient><linearGradient id="b110" gradientUnits="userSpaceOnUse" x1="982.7" y1="1686.5" x2="983.5" y2="1661.2"><stop stop-color="#ff8c00"/><stop offset="1" stop-color="#ff6000"/></linearGradient><linearGradient id="b111" gradientUnits="userSpaceOnUse" x1="1368.5" y1="1677.6" x2="1366.7" y2="1685.1"><stop stop-color="#ff9400"/><stop offset="1" stop-color="#ff8800"/></linearGradient><linearGradient id="b112" gradientUnits="userSpaceOnUse" x1="1025.5" y1="1684.4" x2="1026.1" y2="1661"><stop stop-color="#ff8500"/><stop offset="1" stop-color="#ff5f00"/></linearGradient><linearGradient id="b113" gradientUnits="userSpaceOnUse" x1="1327.5" y1="1672.1" x2="1322.4" y2="1684.7"><stop stop-color="#ff8900"/><stop offset="1" stop-color="#ff8100"/></linearGradient><linearGradient id="b114" gradientUnits="userSpaceOnUse" x1="1068.4" y1="1682.7" x2="1068.7" y2="1661.2"><stop stop-color="#ff7f00"/><stop offset="1" stop-color="#ff5f00"/></linearGradient><linearGradient id="b115" gradientUnits="userSpaceOnUse" x1="1303.4" y1="1678.8" x2="1261.1" y2="1673.3"><stop stop-color="#ff8100"/><stop offset="1" stop-color="#ff7a00"/></linearGradient><linearGradient id="b116" gradientUnits="userSpaceOnUse" x1="1111.3" y1="1681.6" x2="1111.3" y2="1662"><stop stop-color="#ff7b00"/><stop offset="1" stop-color="#ff6200"/></linearGradient><linearGradient id="b117" gradientUnits="userSpaceOnUse" x1="1241.1" y1="1681" x2="1238" y2="1667.5"><stop stop-color="#ff7a00"/><stop offset="1" stop-color="#ff7400"/></linearGradient><linearGradient id="b118" gradientUnits="userSpaceOnUse" x1="1518.9" y1="1695.5" x2="1518.7" y2="1697.8"><stop stop-color="#ffbc00"/><stop offset="1" stop-color="#ff9c00"/></linearGradient><linearGradient id="b119" gradientUnits="userSpaceOnUse" x1="1154.3" y1="1681" x2="1153.8" y2="1663.2"><stop stop-color="#ff7900"/><stop offset="1" stop-color="#ff6600"/></linearGradient><linearGradient id="b120" gradientUnits="userSpaceOnUse" x1="1197.4" y1="1680.8" x2="1196.2" y2="1665"><stop stop-color="#ff7900"/><stop offset="1" stop-color="#ff6c00"/></linearGradient><linearGradient id="b121" gradientUnits="userSpaceOnUse" x1="873.8" y1="1709.8" x2="875.6" y2="1678.9"><stop stop-color="#ffc400"/><stop offset="1" stop-color="#ff8700"/></linearGradient><linearGradient id="b122" gradientUnits="userSpaceOnUse" x1="1476.2" y1="1690.9" x2="1475.7" y2="1694.9"><stop stop-color="#ffad00"/><stop offset="1" stop-color="#ff9300"/></linearGradient><linearGradient id="b123" gradientUnits="userSpaceOnUse" x1="916.8" y1="1705.5" x2="918.4" y2="1676.4"><stop stop-color="#ffb600"/><stop offset="1" stop-color="#ff7e00"/></linearGradient><linearGradient id="b124" gradientUnits="userSpaceOnUse" x1="1433.5" y1="1686.7" x2="1432.7" y2="1692.6"><stop stop-color="#ff9f00"/><stop offset="1" stop-color="#ff8c00"/></linearGradient><linearGradient id="b125" gradientUnits="userSpaceOnUse" x1="959.7" y1="1701.6" x2="961.2" y2="1674.4"><stop stop-color="#ffa900"/><stop offset="1" stop-color="#ff7800"/></linearGradient><linearGradient id="b126" gradientUnits="userSpaceOnUse" x1="1390.9" y1="1683.1" x2="1389.6" y2="1690.8"><stop stop-color="#ff9300"/><stop offset="1" stop-color="#ff8600"/></linearGradient><linearGradient id="b127" gradientUnits="userSpaceOnUse" x1="1002.8" y1="1698.2" x2="1004" y2="1673"><stop stop-color="#ff9e00"/><stop offset="1" stop-color="#ff7300"/></linearGradient><linearGradient id="b128" gradientUnits="userSpaceOnUse" x1="850.3" y1="1728.8" x2="852.7" y2="1696"><stop stop-color="#ffee00"/><stop offset="1" stop-color="#ffab00"/></linearGradient><linearGradient id="b129" gradientUnits="userSpaceOnUse" x1="1348.4" y1="1680.2" x2="1346.1" y2="1689.3"><stop stop-color="#ff8900"/><stop offset="1" stop-color="#ff8200"/></linearGradient><linearGradient id="b130" gradientUnits="userSpaceOnUse" x1="1045.8" y1="1695.4" x2="1046.8" y2="1672"><stop stop-color="#ff9400"/><stop offset="1" stop-color="#ff7000"/></linearGradient><linearGradient id="b131" gradientUnits="userSpaceOnUse" x1="1319.1" y1="1673.3" x2="1289.6" y2="1692.6"><stop stop-color="#ff8200"/><stop offset="1" stop-color="#ff7e00"/></linearGradient><linearGradient id="b132" gradientUnits="userSpaceOnUse" x1="1088.9" y1="1693" x2="1089.7" y2="1671.6"><stop stop-color="#ff8d00"/><stop offset="1" stop-color="#ff6e00"/></linearGradient><linearGradient id="b133" gradientUnits="userSpaceOnUse" x1="1542.7" y1="1698.8" x2="1542.5" y2="1700.8"><stop stop-color="#ffb200"/><stop offset="1" stop-color="#ff9200"/></linearGradient><linearGradient id="b134" gradientUnits="userSpaceOnUse" x1="1262.4" y1="1688.7" x2="1260.2" y2="1675.1"><stop stop-color="#ff7f00"/><stop offset="1" stop-color="#ff7900"/></linearGradient><linearGradient id="b135" gradientUnits="userSpaceOnUse" x1="1132.1" y1="1691.2" x2="1132.5" y2="1671.7"><stop stop-color="#ff8700"/><stop offset="1" stop-color="#ff6e00"/></linearGradient><linearGradient id="b136" gradientUnits="userSpaceOnUse" x1="1218.6" y1="1689.1" x2="1218.1" y2="1673.4"><stop stop-color="#ff8000"/><stop offset="1" stop-color="#ff7400"/></linearGradient><linearGradient id="b137" gradientUnits="userSpaceOnUse" x1="1175.3" y1="1689.9" x2="1175.4" y2="1672.3"><stop stop-color="#ff8200"/><stop offset="1" stop-color="#ff7000"/></linearGradient><linearGradient id="b138" gradientUnits="userSpaceOnUse" x1="893.4" y1="1723.2" x2="895.6" y2="1692.3"><stop stop-color="#ffdc00"/><stop offset="1" stop-color="#ff9f00"/></linearGradient><linearGradient id="b139" gradientUnits="userSpaceOnUse" x1="1499.6" y1="1694.8" x2="1499.2" y2="1698.7"><stop stop-color="#ffa600"/><stop offset="1" stop-color="#ff8b00"/></linearGradient><linearGradient id="b140" gradientUnits="userSpaceOnUse" x1="936.6" y1="1718.1" x2="938.6" y2="1689.2"><stop stop-color="#ffcb00"/><stop offset="1" stop-color="#ff9500"/></linearGradient><linearGradient id="b141" gradientUnits="userSpaceOnUse" x1="1456.6" y1="1691.3" x2="1456" y2="1697"><stop stop-color="#ff9a00"/><stop offset="1" stop-color="#ff8600"/></linearGradient><linearGradient id="b142" gradientUnits="userSpaceOnUse" x1="826.7" y1="1749.4" x2="829.7" y2="1714.7"><stop stop-color="#e1ff00"/><stop offset="0.41" stop-color="#ffff00"/><stop offset="1" stop-color="#ffd500"/></linearGradient><linearGradient id="b143" gradientUnits="userSpaceOnUse" x1="979.8" y1="1713.5" x2="981.6" y2="1686.5"><stop stop-color="#ffbc00"/><stop offset="1" stop-color="#ff8c00"/></linearGradient><linearGradient id="b144" gradientUnits="userSpaceOnUse" x1="1413.5" y1="1688.3" x2="1412.6" y2="1695.9"><stop stop-color="#ff9100"/><stop offset="1" stop-color="#ff8200"/></linearGradient><linearGradient id="b145" gradientUnits="userSpaceOnUse" x1="1023.1" y1="1709.5" x2="1024.7" y2="1684.4"><stop stop-color="#ffae00"/><stop offset="1" stop-color="#ff8500"/></linearGradient><linearGradient id="b146" gradientUnits="userSpaceOnUse" x1="1370.5" y1="1685.9" x2="1369.2" y2="1695.3"><stop stop-color="#ff8800"/><stop offset="1" stop-color="#ff8000"/></linearGradient><linearGradient id="b147" gradientUnits="userSpaceOnUse" x1="869.9" y1="1742.5" x2="872.7" y2="1709.8"><stop stop-color="#f8ff00"/><stop offset="0.11" stop-color="#ffff00"/><stop offset="1" stop-color="#ffc400"/></linearGradient><linearGradient id="b148" gradientUnits="userSpaceOnUse" x1="1066.3" y1="1705.9" x2="1067.8" y2="1682.7"><stop stop-color="#ffa300"/><stop offset="1" stop-color="#ff7f00"/></linearGradient><linearGradient id="b149" gradientUnits="userSpaceOnUse" x1="1566.7" y1="1701.5" x2="1566.6" y2="1703.4"><stop stop-color="#ffa600"/><stop offset="1" stop-color="#ff8500"/></linearGradient><linearGradient id="b150" gradientUnits="userSpaceOnUse" x1="1109.7" y1="1702.9" x2="1110.9" y2="1681.6"><stop stop-color="#ff9900"/><stop offset="1" stop-color="#ff7b00"/></linearGradient><linearGradient id="b151" gradientUnits="userSpaceOnUse" x1="1283.7" y1="1695.9" x2="1283" y2="1682.2"><stop stop-color="#ff8200"/><stop offset="1" stop-color="#ff7d00"/></linearGradient><linearGradient id="b152" gradientUnits="userSpaceOnUse" x1="1153" y1="1700.4" x2="1154.1" y2="1681"><stop stop-color="#ff9000"/><stop offset="1" stop-color="#ff7900"/></linearGradient><linearGradient id="b153" gradientUnits="userSpaceOnUse" x1="1239.9" y1="1696.9" x2="1240.3" y2="1681.3"><stop stop-color="#ff8500"/><stop offset="1" stop-color="#ff7a00"/></linearGradient><linearGradient id="b154" gradientUnits="userSpaceOnUse" x1="1196.4" y1="1698.4" x2="1197.2" y2="1680.9"><stop stop-color="#ff8a00"/><stop offset="1" stop-color="#ff7900"/></linearGradient><linearGradient id="b155" gradientUnits="userSpaceOnUse" x1="913.2" y1="1736.2" x2="915.9" y2="1705.4"><stop stop-color="#fff100"/><stop offset="1" stop-color="#ffb600"/></linearGradient><linearGradient id="b156" gradientUnits="userSpaceOnUse" x1="802.8" y1="1771.4" x2="806.5" y2="1734.9"><stop stop-color="#afff00"/><stop offset="1" stop-color="#fcff00"/></linearGradient><linearGradient id="b157" gradientUnits="userSpaceOnUse" x1="1523.3" y1="1698.2" x2="1523.1" y2="1701.9"><stop stop-color="#ff9c00"/><stop offset="1" stop-color="#ff8100"/></linearGradient><linearGradient id="b158" gradientUnits="userSpaceOnUse" x1="956.6" y1="1730.4" x2="959.1" y2="1701.5"><stop stop-color="#ffde00"/><stop offset="1" stop-color="#ffa900"/></linearGradient><linearGradient id="b159" gradientUnits="userSpaceOnUse" x1="1479.9" y1="1695.4" x2="1479.6" y2="1701"><stop stop-color="#ff9300"/><stop offset="1" stop-color="#ff7e00"/></linearGradient><linearGradient id="b160" gradientUnits="userSpaceOnUse" x1="846.2" y1="1763.4" x2="849.7" y2="1728.8"><stop stop-color="#c9ff00"/><stop offset="0.76" stop-color="#ffff00"/><stop offset="1" stop-color="#ffee00"/></linearGradient><linearGradient id="b161" gradientUnits="userSpaceOnUse" x1="1000.1" y1="1725.1" x2="1002.4" y2="1698.2"><stop stop-color="#ffcd00"/><stop offset="1" stop-color="#ff9e00"/></linearGradient><linearGradient id="b162" gradientUnits="userSpaceOnUse" x1="1436.5" y1="1693" x2="1436" y2="1700.6"><stop stop-color="#ff8c00"/><stop offset="1" stop-color="#ff7c00"/></linearGradient><linearGradient id="b163" gradientUnits="userSpaceOnUse" x1="1043.6" y1="1720.3" x2="1045.7" y2="1695.4"><stop stop-color="#ffbd00"/><stop offset="1" stop-color="#ff9400"/></linearGradient><linearGradient id="b164" gradientUnits="userSpaceOnUse" x1="1393" y1="1691.2" x2="1392.5" y2="1700.7"><stop stop-color="#ff8600"/><stop offset="1" stop-color="#ff7d00"/></linearGradient><linearGradient id="b165" gradientUnits="userSpaceOnUse" x1="778.8" y1="1795.1" x2="783.1" y2="1756.6"><stop stop-color="#77ff00"/><stop offset="1" stop-color="#c9ff00"/></linearGradient><linearGradient id="b166" gradientUnits="userSpaceOnUse" x1="889.7" y1="1755.9" x2="893" y2="1723.2"><stop stop-color="#e2ff00"/><stop offset="0.45" stop-color="#ffff00"/><stop offset="1" stop-color="#ffdc00"/></linearGradient><linearGradient id="b167" gradientUnits="userSpaceOnUse" x1="1087.1" y1="1716.1" x2="1089" y2="1693"><stop stop-color="#ffaf00"/><stop offset="1" stop-color="#ff8d00"/></linearGradient><linearGradient id="b168" gradientUnits="userSpaceOnUse" x1="1591.1" y1="1703.8" x2="1591" y2="1705.4"><stop stop-color="#ff9900"/><stop offset="1" stop-color="#ff7700"/></linearGradient><linearGradient id="b169" gradientUnits="userSpaceOnUse" x1="1349.3" y1="1689.9" x2="1349.1" y2="1701.4"><stop stop-color="#ff8200"/><stop offset="1" stop-color="#ff7f00"/></linearGradient><linearGradient id="b170" gradientUnits="userSpaceOnUse" x1="1130.6" y1="1712.3" x2="1132.4" y2="1691.2"><stop stop-color="#ffa300"/><stop offset="1" stop-color="#ff8700"/></linearGradient><linearGradient id="b171" gradientUnits="userSpaceOnUse" x1="1304.8" y1="1702.4" x2="1306.5" y2="1689.3"><stop stop-color="#ff8300"/><stop offset="1" stop-color="#ff8000"/></linearGradient><linearGradient id="b172" gradientUnits="userSpaceOnUse" x1="1174.2" y1="1709.1" x2="1175.9" y2="1689.9"><stop stop-color="#ff9800"/><stop offset="1" stop-color="#ff8200"/></linearGradient><linearGradient id="b173" gradientUnits="userSpaceOnUse" x1="1261.4" y1="1704.1" x2="1262.8" y2="1688.9"><stop stop-color="#ff8800"/><stop offset="1" stop-color="#ff7f00"/></linearGradient><linearGradient id="b174" gradientUnits="userSpaceOnUse" x1="1217.8" y1="1706.3" x2="1219.3" y2="1689.2"><stop stop-color="#ff8f00"/><stop offset="1" stop-color="#ff8000"/></linearGradient><linearGradient id="b175" gradientUnits="userSpaceOnUse" x1="933.3" y1="1748.8" x2="936.3" y2="1718.1"><stop stop-color="#f9ff00"/><stop offset="0.1" stop-color="#ffff00"/><stop offset="1" stop-color="#ffcb00"/></linearGradient><linearGradient id="b176" gradientUnits="userSpaceOnUse" x1="1547.4" y1="1701.2" x2="1547.2" y2="1704.7"><stop stop-color="#ff9200"/><stop offset="1" stop-color="#ff7500"/></linearGradient><linearGradient id="b177" gradientUnits="userSpaceOnUse" x1="822.4" y1="1785.8" x2="826.4" y2="1749.3"><stop stop-color="#96ff00"/><stop offset="1" stop-color="#e1ff00"/></linearGradient><linearGradient id="b178" gradientUnits="userSpaceOnUse" x1="976.9" y1="1742.3" x2="979.8" y2="1713.6"><stop stop-color="#fff000"/><stop offset="1" stop-color="#ffbc00"/></linearGradient><linearGradient id="b179" gradientUnits="userSpaceOnUse" x1="1503.7" y1="1699" x2="1503.4" y2="1704.5"><stop stop-color="#ff8b00"/><stop offset="1" stop-color="#ff7400"/></linearGradient><linearGradient id="b180" gradientUnits="userSpaceOnUse" x1="866" y1="1777.1" x2="869.9" y2="1742.5"><stop stop-color="#b3ff00"/><stop offset="1" stop-color="#f8ff00"/></linearGradient><linearGradient id="b181" gradientUnits="userSpaceOnUse" x1="1020.5" y1="1736.3" x2="1023.3" y2="1709.5"><stop stop-color="#ffdc00"/><stop offset="1" stop-color="#ffae00"/></linearGradient><linearGradient id="b182" gradientUnits="userSpaceOnUse" x1="1459.8" y1="1697.3" x2="1459.7" y2="1704.8"><stop stop-color="#ff8600"/><stop offset="1" stop-color="#ff7500"/></linearGradient><linearGradient id="b183" gradientUnits="userSpaceOnUse" x1="1064.3" y1="1730.8" x2="1066.9" y2="1706"><stop stop-color="#ffca00"/><stop offset="1" stop-color="#ffa300"/></linearGradient><linearGradient id="b184" gradientUnits="userSpaceOnUse" x1="1415.9" y1="1696.1" x2="1416" y2="1705.6"><stop stop-color="#ff8200"/><stop offset="1" stop-color="#ff7800"/></linearGradient><linearGradient id="b185" gradientUnits="userSpaceOnUse" x1="798.3" y1="1809.9" x2="803.1" y2="1771.5"><stop stop-color="#5eff00"/><stop offset="1" stop-color="#afff00"/></linearGradient><linearGradient id="b186" gradientUnits="userSpaceOnUse" x1="909.7" y1="1768.8" x2="913.4" y2="1736.2"><stop stop-color="#ceff00"/><stop offset="0.78" stop-color="#ffff00"/><stop offset="1" stop-color="#fff100"/></linearGradient><linearGradient id="b187" gradientUnits="userSpaceOnUse" x1="1108" y1="1725.8" x2="1110.5" y2="1703"><stop stop-color="#ffba00"/><stop offset="1" stop-color="#ff9900"/></linearGradient><linearGradient id="b188" gradientUnits="userSpaceOnUse" x1="1371.3" y1="1695.5" x2="1372.9" y2="1707"><stop stop-color="#ff8000"/><stop offset="1" stop-color="#ff7c00"/></linearGradient><linearGradient id="b189" gradientUnits="userSpaceOnUse" x1="1151.8" y1="1721.3" x2="1154.2" y2="1700.5"><stop stop-color="#ffab00"/><stop offset="1" stop-color="#ff9000"/></linearGradient><linearGradient id="b190" gradientUnits="userSpaceOnUse" x1="1323.5" y1="1711.4" x2="1333.1" y2="1692.7"><stop stop-color="#ff8300"/><stop offset="1" stop-color="#ff7f00"/></linearGradient><linearGradient id="b191" gradientUnits="userSpaceOnUse" x1="1195.6" y1="1717.3" x2="1198" y2="1698.5"><stop stop-color="#ff9e00"/><stop offset="1" stop-color="#ff8a00"/></linearGradient><linearGradient id="b192" gradientUnits="userSpaceOnUse" x1="1283" y1="1710.8" x2="1285.8" y2="1696.3"><stop stop-color="#ff8a00"/><stop offset="1" stop-color="#ff8200"/></linearGradient><linearGradient id="b193" gradientUnits="userSpaceOnUse" x1="1239.4" y1="1713.8" x2="1241.8" y2="1697.1"><stop stop-color="#ff9300"/><stop offset="1" stop-color="#ff8500"/></linearGradient><linearGradient id="b194" gradientUnits="userSpaceOnUse" x1="1571.8" y1="1703.6" x2="1571.7" y2="1707"><stop stop-color="#ff8500"/><stop offset="1" stop-color="#ff6700"/></linearGradient><linearGradient id="b195" gradientUnits="userSpaceOnUse" x1="953.5" y1="1761" x2="957" y2="1730.5"><stop stop-color="#e7ff00"/><stop offset="0.42" stop-color="#ffff00"/><stop offset="1" stop-color="#ffde00"/></linearGradient><linearGradient id="b196" gradientUnits="userSpaceOnUse" x1="842.1" y1="1799.9" x2="846.6" y2="1763.5"><stop stop-color="#7fff00"/><stop offset="1" stop-color="#c9ff00"/></linearGradient><linearGradient id="b197" gradientUnits="userSpaceOnUse" x1="1527.7" y1="1702.1" x2="1527.7" y2="1707.4"><stop stop-color="#ff8100"/><stop offset="1" stop-color="#ff6900"/></linearGradient><linearGradient id="b198" gradientUnits="userSpaceOnUse" x1="997.3" y1="1753.8" x2="1000.7" y2="1725.2"><stop stop-color="#ffff00"/><stop offset="0.01" stop-color="#ffff00"/><stop offset="1" stop-color="#ffcd00"/></linearGradient><linearGradient id="b199" gradientUnits="userSpaceOnUse" x1="885.9" y1="1790.4" x2="890.3" y2="1755.9"><stop stop-color="#9eff00"/><stop offset="1" stop-color="#e2ff00"/></linearGradient><linearGradient id="b200" gradientUnits="userSpaceOnUse" x1="1483.5" y1="1701.1" x2="1483.6" y2="1708.5"><stop stop-color="#ff7e00"/><stop offset="1" stop-color="#ff6c00"/></linearGradient><linearGradient id="b201" gradientUnits="userSpaceOnUse" x1="1041.3" y1="1747" x2="1044.5" y2="1720.4"><stop stop-color="#ffea00"/><stop offset="1" stop-color="#ffbd00"/></linearGradient><linearGradient id="b202" gradientUnits="userSpaceOnUse" x1="1439.1" y1="1700.6" x2="1439.8" y2="1710"><stop stop-color="#ff7c00"/><stop offset="1" stop-color="#ff7100"/></linearGradient><linearGradient id="b203" gradientUnits="userSpaceOnUse" x1="1085.2" y1="1740.8" x2="1088.4" y2="1716.2"><stop stop-color="#ffd500"/><stop offset="1" stop-color="#ffaf00"/></linearGradient><linearGradient id="b204" gradientUnits="userSpaceOnUse" x1="818" y1="1824.2" x2="823.2" y2="1786"><stop stop-color="#46ff00"/><stop offset="1" stop-color="#96ff00"/></linearGradient><linearGradient id="b205" gradientUnits="userSpaceOnUse" x1="929.9" y1="1781.3" x2="934.1" y2="1748.9"><stop stop-color="#bbff00"/><stop offset="1" stop-color="#f9ff00"/></linearGradient><linearGradient id="b206" gradientUnits="userSpaceOnUse" x1="1394" y1="1700.8" x2="1396.7" y2="1712"><stop stop-color="#ff7d00"/><stop offset="1" stop-color="#ff7700"/></linearGradient><linearGradient id="b207" gradientUnits="userSpaceOnUse" x1="1129.2" y1="1735.1" x2="1132.3" y2="1712.5"><stop stop-color="#ffc300"/><stop offset="1" stop-color="#ffa300"/></linearGradient><linearGradient id="b208" gradientUnits="userSpaceOnUse" x1="1334.7" y1="1717.9" x2="1367.7" y2="1697.8"><stop stop-color="#ff8200"/><stop offset="1" stop-color="#ff7c00"/></linearGradient><linearGradient id="b209" gradientUnits="userSpaceOnUse" x1="1173.3" y1="1729.8" x2="1176.3" y2="1709.3"><stop stop-color="#ffb200"/><stop offset="1" stop-color="#ff9800"/></linearGradient><linearGradient id="b210" gradientUnits="userSpaceOnUse" x1="1304.8" y1="1717.3" x2="1309.3" y2="1702.7"><stop stop-color="#ff8a00"/><stop offset="1" stop-color="#ff8200"/></linearGradient><linearGradient id="b211" gradientUnits="userSpaceOnUse" x1="1217.3" y1="1725.1" x2="1220.4" y2="1706.7"><stop stop-color="#ffa300"/><stop offset="1" stop-color="#ff8f00"/></linearGradient><linearGradient id="b212" gradientUnits="userSpaceOnUse" x1="1261.3" y1="1720.8" x2="1264.6" y2="1704.7"><stop stop-color="#ff9500"/><stop offset="1" stop-color="#ff8800"/></linearGradient><linearGradient id="b213" gradientUnits="userSpaceOnUse" x1="1596.6" y1="1705.6" x2="1596.6" y2="1708.7"><stop stop-color="#ff7700"/><stop offset="1" stop-color="#ff5700"/></linearGradient><linearGradient id="b214" gradientUnits="userSpaceOnUse" x1="973.9" y1="1772.8" x2="978" y2="1742.4"><stop stop-color="#d7ff00"/><stop offset="0.73" stop-color="#ffff00"/><stop offset="1" stop-color="#fff000"/></linearGradient><linearGradient id="b215" gradientUnits="userSpaceOnUse" x1="862" y1="1813.5" x2="867" y2="1777.2"><stop stop-color="#69ff00"/><stop offset="1" stop-color="#b3ff00"/></linearGradient><linearGradient id="b216" gradientUnits="userSpaceOnUse" x1="1552.1" y1="1704.8" x2="1552.2" y2="1709.9"><stop stop-color="#ff7500"/><stop offset="1" stop-color="#ff5b00"/></linearGradient><linearGradient id="b217" gradientUnits="userSpaceOnUse" x1="1018" y1="1764.8" x2="1021.9" y2="1736.4"><stop stop-color="#f0ff00"/><stop offset="0.29" stop-color="#ffff00"/><stop offset="1" stop-color="#ffdc00"/></linearGradient><linearGradient id="b218" gradientUnits="userSpaceOnUse" x1="1507.6" y1="1704.5" x2="1507.9" y2="1711.7"><stop stop-color="#ff7400"/><stop offset="1" stop-color="#ff6100"/></linearGradient><linearGradient id="b219" gradientUnits="userSpaceOnUse" x1="906.1" y1="1803.2" x2="910.9" y2="1769"><stop stop-color="#8aff00"/><stop offset="1" stop-color="#ceff00"/></linearGradient><linearGradient id="b220" gradientUnits="userSpaceOnUse" x1="1062.2" y1="1757.4" x2="1066" y2="1731"><stop stop-color="#fff500"/><stop offset="1" stop-color="#ffca00"/></linearGradient><linearGradient id="b221" gradientUnits="userSpaceOnUse" x1="1462.8" y1="1704.7" x2="1463.8" y2="1713.9"><stop stop-color="#ff7500"/><stop offset="1" stop-color="#ff6800"/></linearGradient><linearGradient id="b222" gradientUnits="userSpaceOnUse" x1="1106.4" y1="1750.4" x2="1110.1" y2="1726.1"><stop stop-color="#ffdf00"/><stop offset="1" stop-color="#ffba00"/></linearGradient><linearGradient id="b223" gradientUnits="userSpaceOnUse" x1="837.8" y1="1838.2" x2="843.6" y2="1800.1"><stop stop-color="#30ff00"/><stop offset="1" stop-color="#7fff00"/></linearGradient><linearGradient id="b224" gradientUnits="userSpaceOnUse" x1="1417.2" y1="1705.6" x2="1420.5" y2="1716.5"><stop stop-color="#ff7800"/><stop offset="1" stop-color="#ff7100"/></linearGradient><linearGradient id="b225" gradientUnits="userSpaceOnUse" x1="1150.7" y1="1743.9" x2="1154.3" y2="1721.7"><stop stop-color="#ffca00"/><stop offset="1" stop-color="#ffab00"/></linearGradient><linearGradient id="b226" gradientUnits="userSpaceOnUse" x1="950.3" y1="1793.5" x2="955" y2="1761.2"><stop stop-color="#aaff00"/><stop offset="1" stop-color="#e7ff00"/></linearGradient><linearGradient id="b227" gradientUnits="userSpaceOnUse" x1="1352.1" y1="1713.7" x2="1396.6" y2="1712.9"><stop stop-color="#ff8000"/><stop offset="1" stop-color="#ff7800"/></linearGradient><linearGradient id="b228" gradientUnits="userSpaceOnUse" x1="1195" y1="1737.9" x2="1198.6" y2="1717.8"><stop stop-color="#ffb700"/><stop offset="1" stop-color="#ff9e00"/></linearGradient><linearGradient id="b229" gradientUnits="userSpaceOnUse" x1="1325.3" y1="1725.9" x2="1334.6" y2="1706.3"><stop stop-color="#ff8a00"/><stop offset="1" stop-color="#ff8000"/></linearGradient><linearGradient id="b230" gradientUnits="userSpaceOnUse" x1="1239.2" y1="1732.4" x2="1243" y2="1714.5"><stop stop-color="#ffa600"/><stop offset="1" stop-color="#ff9300"/></linearGradient><linearGradient id="b231" gradientUnits="userSpaceOnUse" x1="1283.4" y1="1727.2" x2="1287.6" y2="1711.9"><stop stop-color="#ff9600"/><stop offset="1" stop-color="#ff8a00"/></linearGradient><linearGradient id="b232" gradientUnits="userSpaceOnUse" x1="994.6" y1="1784.2" x2="999.1" y2="1754"><stop stop-color="#c8ff00"/><stop offset="1" stop-color="#ffff00"/></linearGradient><linearGradient id="b233" gradientUnits="userSpaceOnUse" x1="882.1" y1="1826.8" x2="887.6" y2="1790.6"><stop stop-color="#55ff00"/><stop offset="1" stop-color="#9eff00"/></linearGradient><linearGradient id="b234" gradientUnits="userSpaceOnUse" x1="1576.9" y1="1706.9" x2="1577.1" y2="1711.9"><stop stop-color="#ff6700"/><stop offset="1" stop-color="#ff4c00"/></linearGradient><linearGradient id="b235" gradientUnits="userSpaceOnUse" x1="1038.9" y1="1775.5" x2="1043.3" y2="1747.3"><stop stop-color="#e4ff00"/><stop offset="0.56" stop-color="#ffff00"/><stop offset="1" stop-color="#ffea00"/></linearGradient><linearGradient id="b236" gradientUnits="userSpaceOnUse" x1="1532" y1="1707.3" x2="1532.5" y2="1714.4"><stop stop-color="#ff6900"/><stop offset="1" stop-color="#ff5400"/></linearGradient><linearGradient id="b237" gradientUnits="userSpaceOnUse" x1="926.4" y1="1815.8" x2="931.8" y2="1781.6"><stop stop-color="#79ff00"/><stop offset="1" stop-color="#bbff00"/></linearGradient><linearGradient id="b238" gradientUnits="userSpaceOnUse" x1="1083.4" y1="1767.3" x2="1087.7" y2="1741.2"><stop stop-color="#ffff00"/><stop offset="0.01" stop-color="#ffff00"/><stop offset="1" stop-color="#ffd500"/></linearGradient><linearGradient id="b239" gradientUnits="userSpaceOnUse" x1="1486.8" y1="1708.2" x2="1488.2" y2="1717.4"><stop stop-color="#ff6c00"/><stop offset="1" stop-color="#ff5e00"/></linearGradient><linearGradient id="b240" gradientUnits="userSpaceOnUse" x1="1127.9" y1="1759.5" x2="1132.1" y2="1735.5"><stop stop-color="#ffe700"/><stop offset="1" stop-color="#ffc300"/></linearGradient><linearGradient id="b241" gradientUnits="userSpaceOnUse" x1="1440.5" y1="1709.2" x2="1444.8" y2="1721.1"><stop stop-color="#ff7100"/><stop offset="1" stop-color="#ff6900"/></linearGradient><linearGradient id="b242" gradientUnits="userSpaceOnUse" x1="857.9" y1="1851.9" x2="864.2" y2="1813.8"><stop stop-color="#1cff00"/><stop offset="1" stop-color="#69ff00"/></linearGradient><linearGradient id="b243" gradientUnits="userSpaceOnUse" x1="1172.4" y1="1752.3" x2="1176.6" y2="1730.4"><stop stop-color="#ffd000"/><stop offset="1" stop-color="#ffb200"/></linearGradient><linearGradient id="b244" gradientUnits="userSpaceOnUse" x1="970.9" y1="1805.2" x2="976.1" y2="1773.2"><stop stop-color="#9bff00"/><stop offset="1" stop-color="#d7ff00"/></linearGradient><linearGradient id="b245" gradientUnits="userSpaceOnUse" x1="1377.9" y1="1712.1" x2="1417.9" y2="1724.3"><stop stop-color="#ff7c00"/><stop offset="1" stop-color="#ff7100"/></linearGradient><linearGradient id="b246" gradientUnits="userSpaceOnUse" x1="1216.9" y1="1745.5" x2="1221.3" y2="1725.9"><stop stop-color="#ffba00"/><stop offset="1" stop-color="#ffa300"/></linearGradient><linearGradient id="b247" gradientUnits="userSpaceOnUse" x1="1345" y1="1733.5" x2="1361.3" y2="1710"><stop stop-color="#ff8800"/><stop offset="1" stop-color="#ff7c00"/></linearGradient><linearGradient id="b248" gradientUnits="userSpaceOnUse" x1="1261.4" y1="1739.2" x2="1266" y2="1722"><stop stop-color="#ffa700"/><stop offset="1" stop-color="#ff9500"/></linearGradient><linearGradient id="b249" gradientUnits="userSpaceOnUse" x1="1305.1" y1="1734.9" x2="1311.8" y2="1716.7"><stop stop-color="#ff9600"/><stop offset="1" stop-color="#ff8800"/></linearGradient><linearGradient id="b250" gradientUnits="userSpaceOnUse" x1="1015.4" y1="1795.2" x2="1020.5" y2="1765.2"><stop stop-color="#bbff00"/><stop offset="1" stop-color="#f0ff00"/></linearGradient><linearGradient id="b251" gradientUnits="userSpaceOnUse" x1="902.4" y1="1839.6" x2="908.5" y2="1803.6"><stop stop-color="#43ff00"/><stop offset="1" stop-color="#8aff00"/></linearGradient><linearGradient id="b252" gradientUnits="userSpaceOnUse" x1="1060.1" y1="1785.7" x2="1065" y2="1757.8"><stop stop-color="#d9ff00"/><stop offset="0.8" stop-color="#ffff00"/><stop offset="1" stop-color="#fff500"/></linearGradient><linearGradient id="b253" gradientUnits="userSpaceOnUse" x1="1556.7" y1="1709.7" x2="1557.5" y2="1716.6"><stop stop-color="#ff5b00"/><stop offset="1" stop-color="#ff4600"/></linearGradient><linearGradient id="b254" gradientUnits="userSpaceOnUse" x1="947" y1="1827.9" x2="952.9" y2="1793.9"><stop stop-color="#69ff00"/><stop offset="1" stop-color="#aaff00"/></linearGradient><linearGradient id="b255" gradientUnits="userSpaceOnUse" x1="1104.8" y1="1776.7" x2="1109.7" y2="1750.9"><stop stop-color="#f6ff00"/><stop offset="0.22" stop-color="#ffff00"/><stop offset="1" stop-color="#ffdf00"/></linearGradient><linearGradient id="b256" gradientUnits="userSpaceOnUse" x1="1511.1" y1="1711.3" x2="1512.9" y2="1720.3"><stop stop-color="#ff6100"/><stop offset="1" stop-color="#ff5200"/></linearGradient><linearGradient id="b257" gradientUnits="userSpaceOnUse" x1="1149.6" y1="1768.2" x2="1154.4" y2="1744.6"><stop stop-color="#ffed00"/><stop offset="1" stop-color="#ffca00"/></linearGradient><linearGradient id="b258" gradientUnits="userSpaceOnUse" x1="1464.3" y1="1712.6" x2="1469.4" y2="1725.3"><stop stop-color="#ff6900"/><stop offset="1" stop-color="#ff5e00"/></linearGradient><linearGradient id="b259" gradientUnits="userSpaceOnUse" x1="878.1" y1="1865.1" x2="885" y2="1827.3"><stop stop-color="#09ff00"/><stop offset="1" stop-color="#55ff00"/></linearGradient><linearGradient id="b260" gradientUnits="userSpaceOnUse" x1="1194.4" y1="1760.2" x2="1199.2" y2="1738.8"><stop stop-color="#ffd300"/><stop offset="1" stop-color="#ffb700"/></linearGradient><linearGradient id="b261" gradientUnits="userSpaceOnUse" x1="1404.5" y1="1714.1" x2="1439" y2="1731.3"><stop stop-color="#ff7600"/><stop offset="1" stop-color="#ff6900"/></linearGradient><linearGradient id="b262" gradientUnits="userSpaceOnUse" x1="991.7" y1="1816.6" x2="997.5" y2="1784.7"><stop stop-color="#8dff00"/><stop offset="1" stop-color="#c8ff00"/></linearGradient><linearGradient id="b263" gradientUnits="userSpaceOnUse" x1="1239.2" y1="1752.6" x2="1244.2" y2="1733.6"><stop stop-color="#ffbc00"/><stop offset="1" stop-color="#ffa600"/></linearGradient><linearGradient id="b264" gradientUnits="userSpaceOnUse" x1="1364.2" y1="1739.3" x2="1389.2" y2="1714.6"><stop stop-color="#ff8500"/><stop offset="1" stop-color="#ff7600"/></linearGradient><linearGradient id="b265" gradientUnits="userSpaceOnUse" x1="1283.7" y1="1746.3" x2="1289.7" y2="1727.9"><stop stop-color="#ffa700"/><stop offset="1" stop-color="#ff9500"/></linearGradient><linearGradient id="b266" gradientUnits="userSpaceOnUse" x1="1326.7" y1="1742.5" x2="1336.7" y2="1721"><stop stop-color="#ff9500"/><stop offset="1" stop-color="#ff8500"/></linearGradient><linearGradient id="b267" gradientUnits="userSpaceOnUse" x1="1036.6" y1="1805.8" x2="1042.2" y2="1776.1"><stop stop-color="#b0ff00"/><stop offset="1" stop-color="#e4ff00"/></linearGradient><linearGradient id="b268" gradientUnits="userSpaceOnUse" x1="922.9" y1="1852.1" x2="929.6" y2="1816.3"><stop stop-color="#33ff00"/><stop offset="1" stop-color="#79ff00"/></linearGradient><linearGradient id="b269" gradientUnits="userSpaceOnUse" x1="1081.5" y1="1795.5" x2="1087" y2="1767.9"><stop stop-color="#d0ff00"/><stop offset="1" stop-color="#ffff00"/></linearGradient><linearGradient id="b270" gradientUnits="userSpaceOnUse" x1="1126.5" y1="1785.7" x2="1131.9" y2="1760.3"><stop stop-color="#f0ff00"/><stop offset="0.39" stop-color="#ffff00"/><stop offset="1" stop-color="#ffe700"/></linearGradient><linearGradient id="b271" gradientUnits="userSpaceOnUse" x1="967.8" y1="1839.5" x2="974.3" y2="1805.9"><stop stop-color="#5bff00"/><stop offset="1" stop-color="#9bff00"/></linearGradient><linearGradient id="b272" gradientUnits="userSpaceOnUse" x1="1535.9" y1="1713.9" x2="1537.9" y2="1722.7"><stop stop-color="#ff5400"/><stop offset="1" stop-color="#ff4400"/></linearGradient><linearGradient id="b273" gradientUnits="userSpaceOnUse" x1="1171.5" y1="1776.4" x2="1176.9" y2="1753.3"><stop stop-color="#fff100"/><stop offset="1" stop-color="#ffd000"/></linearGradient><linearGradient id="b274" gradientUnits="userSpaceOnUse" x1="1488.5" y1="1715.5" x2="1494.3" y2="1728.8"><stop stop-color="#ff6000"/><stop offset="1" stop-color="#ff5200"/></linearGradient><linearGradient id="b275" gradientUnits="userSpaceOnUse" x1="1216.6" y1="1767.6" x2="1222.1" y2="1746.8"><stop stop-color="#ffd600"/><stop offset="1" stop-color="#ffba00"/></linearGradient><linearGradient id="b276" gradientUnits="userSpaceOnUse" x1="898.6" y1="1877.9" x2="906" y2="1840.3"><stop stop-color="#00ff00"/><stop offset="0.1" stop-color="#00ff00"/><stop offset="1" stop-color="#43ff00"/></linearGradient><linearGradient id="b277" gradientUnits="userSpaceOnUse" x1="1430.7" y1="1717.1" x2="1461.2" y2="1736.2"><stop stop-color="#ff6f00"/><stop offset="1" stop-color="#ff6000"/></linearGradient><linearGradient id="b278" gradientUnits="userSpaceOnUse" x1="1012.8" y1="1827.5" x2="1019.1" y2="1795.9"><stop stop-color="#82ff00"/><stop offset="1" stop-color="#bbff00"/></linearGradient><linearGradient id="b279" gradientUnits="userSpaceOnUse" x1="1261.6" y1="1759.4" x2="1267.6" y2="1740.4"><stop stop-color="#ffbc00"/><stop offset="1" stop-color="#ffa600"/></linearGradient><linearGradient id="b280" gradientUnits="userSpaceOnUse" x1="1383.6" y1="1742.9" x2="1417.5" y2="1720.4"><stop stop-color="#ff7f00"/><stop offset="1" stop-color="#ff6f00"/></linearGradient><linearGradient id="b281" gradientUnits="userSpaceOnUse" x1="1305.7" y1="1753.8" x2="1314" y2="1732.8"><stop stop-color="#ffa600"/><stop offset="1" stop-color="#ff9200"/></linearGradient><linearGradient id="b282" gradientUnits="userSpaceOnUse" x1="1348.1" y1="1749.3" x2="1362.3" y2="1725.1"><stop stop-color="#ff9200"/><stop offset="1" stop-color="#ff7f00"/></linearGradient><linearGradient id="b283" gradientUnits="userSpaceOnUse" x1="1057.9" y1="1816" x2="1064.1" y2="1786.5"><stop stop-color="#a6ff00"/><stop offset="1" stop-color="#d9ff00"/></linearGradient><linearGradient id="b284" gradientUnits="userSpaceOnUse" x1="943.7" y1="1864.1" x2="950.9" y2="1828.6"><stop stop-color="#25ff00"/><stop offset="1" stop-color="#69ff00"/></linearGradient><linearGradient id="b285" gradientUnits="userSpaceOnUse" x1="1103.1" y1="1804.9" x2="1109.2" y2="1777.6"><stop stop-color="#c9ff00"/><stop offset="1" stop-color="#f6ff00"/></linearGradient><linearGradient id="b286" gradientUnits="userSpaceOnUse" x1="1148.4" y1="1794.3" x2="1154.4" y2="1769.3"><stop stop-color="#ebff00"/><stop offset="0.53" stop-color="#ffff00"/><stop offset="1" stop-color="#ffed00"/></linearGradient><linearGradient id="b287" gradientUnits="userSpaceOnUse" x1="988.9" y1="1850.8" x2="995.9" y2="1817.4"><stop stop-color="#4fff00"/><stop offset="1" stop-color="#8dff00"/></linearGradient><linearGradient id="b288" gradientUnits="userSpaceOnUse" x1="1513.1" y1="1718.1" x2="1519.5" y2="1731.7"><stop stop-color="#ff5400"/><stop offset="1" stop-color="#ff4400"/></linearGradient><linearGradient id="b289" gradientUnits="userSpaceOnUse" x1="1193.8" y1="1784.2" x2="1199.8" y2="1761.5"><stop stop-color="#fff400"/><stop offset="1" stop-color="#ffd300"/></linearGradient><linearGradient id="b290" gradientUnits="userSpaceOnUse" x1="1456.7" y1="1720.2" x2="1484.3" y2="1740"><stop stop-color="#ff6500"/><stop offset="1" stop-color="#ff5400"/></linearGradient><linearGradient id="b291" gradientUnits="userSpaceOnUse" x1="1239.2" y1="1774.6" x2="1245.3" y2="1754.3"><stop stop-color="#ffd600"/><stop offset="1" stop-color="#ffbc00"/></linearGradient><linearGradient id="b292" gradientUnits="userSpaceOnUse" x1="919.4" y1="1890.4" x2="927.3" y2="1853"><stop stop-color="#00ff00"/><stop offset="0.31" stop-color="#00ff00"/><stop offset="1" stop-color="#33ff00"/></linearGradient><linearGradient id="b293" gradientUnits="userSpaceOnUse" x1="1034.2" y1="1838" x2="1041" y2="1806.7"><stop stop-color="#78ff00"/><stop offset="1" stop-color="#b0ff00"/></linearGradient><linearGradient id="b294" gradientUnits="userSpaceOnUse" x1="1404.3" y1="1744.6" x2="1445.2" y2="1727.3"><stop stop-color="#ff7800"/><stop offset="1" stop-color="#ff6500"/></linearGradient><linearGradient id="b295" gradientUnits="userSpaceOnUse" x1="1284" y1="1767.1" x2="1291.6" y2="1745.8"><stop stop-color="#ffbc00"/><stop offset="1" stop-color="#ffa400"/></linearGradient><linearGradient id="b296" gradientUnits="userSpaceOnUse" x1="1369.4" y1="1755.3" x2="1388.7" y2="1729.2"><stop stop-color="#ff8d00"/><stop offset="1" stop-color="#ff7800"/></linearGradient><linearGradient id="b297" gradientUnits="userSpaceOnUse" x1="1327.9" y1="1760.7" x2="1338.9" y2="1737.4"><stop stop-color="#ffa400"/><stop offset="1" stop-color="#ff8d00"/></linearGradient><linearGradient id="b298" gradientUnits="userSpaceOnUse" x1="1079.6" y1="1825.7" x2="1086.3" y2="1796.6"><stop stop-color="#9fff00"/><stop offset="1" stop-color="#d0ff00"/></linearGradient><linearGradient id="b299" gradientUnits="userSpaceOnUse" x1="964.7" y1="1875.8" x2="972.4" y2="1840.5"><stop stop-color="#18ff00"/><stop offset="1" stop-color="#5bff00"/></linearGradient><linearGradient id="b300" gradientUnits="userSpaceOnUse" x1="1125.1" y1="1813.8" x2="1131.7" y2="1787"><stop stop-color="#c4ff00"/><stop offset="1" stop-color="#efff00"/></linearGradient><linearGradient id="b301" gradientUnits="userSpaceOnUse" x1="1170.7" y1="1802.4" x2="1177.2" y2="1777.9"><stop stop-color="#e7ff00"/><stop offset="0.63" stop-color="#ffff00"/><stop offset="1" stop-color="#fff100"/></linearGradient><linearGradient id="b302" gradientUnits="userSpaceOnUse" x1="1010.2" y1="1861.7" x2="1017.7" y2="1828.6"><stop stop-color="#44ff00"/><stop offset="1" stop-color="#82ff00"/></linearGradient><linearGradient id="b303" gradientUnits="userSpaceOnUse" x1="1216.3" y1="1791.5" x2="1222.9" y2="1769.4"><stop stop-color="#fff500"/><stop offset="1" stop-color="#ffd600"/></linearGradient><linearGradient id="b304" gradientUnits="userSpaceOnUse" x1="1482.5" y1="1723.1" x2="1508.3" y2="1743.1"><stop stop-color="#ff5a00"/><stop offset="1" stop-color="#ff4700"/></linearGradient><linearGradient id="b305" gradientUnits="userSpaceOnUse" x1="1261.7" y1="1782.1" x2="1269.2" y2="1760.1"><stop stop-color="#ffd600"/><stop offset="1" stop-color="#ffba00"/></linearGradient><linearGradient id="b306" gradientUnits="userSpaceOnUse" x1="940.3" y1="1902.4" x2="948.8" y2="1865.3"><stop stop-color="#00ff00"/><stop offset="0.5" stop-color="#00ff00"/><stop offset="1" stop-color="#25ff00"/></linearGradient><linearGradient id="b307" gradientUnits="userSpaceOnUse" x1="1426.7" y1="1745.1" x2="1471.9" y2="1734.2"><stop stop-color="#ff7000"/><stop offset="1" stop-color="#ff5a00"/></linearGradient><linearGradient id="b308" gradientUnits="userSpaceOnUse" x1="1055.8" y1="1848.1" x2="1063.2" y2="1817.1"><stop stop-color="#6fff00"/><stop offset="1" stop-color="#a6ff00"/></linearGradient><linearGradient id="b309" gradientUnits="userSpaceOnUse" x1="1306.4" y1="1774.2" x2="1316.2" y2="1750.7"><stop stop-color="#ffba00"/><stop offset="1" stop-color="#ff9f00"/></linearGradient><linearGradient id="b310" gradientUnits="userSpaceOnUse" x1="1390.9" y1="1760.2" x2="1415.6" y2="1733.3"><stop stop-color="#ff8700"/><stop offset="1" stop-color="#ff7000"/></linearGradient><linearGradient id="b311" gradientUnits="userSpaceOnUse" x1="1350.2" y1="1767.1" x2="1364.3" y2="1741.6"><stop stop-color="#ffa000"/><stop offset="1" stop-color="#ff8700"/></linearGradient><linearGradient id="b312" gradientUnits="userSpaceOnUse" x1="1101.5" y1="1834.9" x2="1108.7" y2="1806.2"><stop stop-color="#99ff00"/><stop offset="1" stop-color="#c9ff00"/></linearGradient><linearGradient id="b313" gradientUnits="userSpaceOnUse" x1="985.9" y1="1887" x2="994.3" y2="1852"><stop stop-color="#0dff00"/><stop offset="1" stop-color="#4fff00"/></linearGradient><linearGradient id="b314" gradientUnits="userSpaceOnUse" x1="1147.3" y1="1822.3" x2="1154.5" y2="1795.9"><stop stop-color="#c0ff00"/><stop offset="1" stop-color="#ebff00"/></linearGradient><linearGradient id="b315" gradientUnits="userSpaceOnUse" x1="1193.2" y1="1810.1" x2="1200.3" y2="1786.1"><stop stop-color="#e6ff00"/><stop offset="0.69" stop-color="#ffff00"/><stop offset="1" stop-color="#fff400"/></linearGradient><linearGradient id="b316" gradientUnits="userSpaceOnUse" x1="1031.7" y1="1872.1" x2="1039.8" y2="1839.3"><stop stop-color="#3cff00"/><stop offset="1" stop-color="#78ff00"/></linearGradient><linearGradient id="b317" gradientUnits="userSpaceOnUse" x1="1239" y1="1798.9" x2="1246.7" y2="1775.9"><stop stop-color="#fff500"/><stop offset="1" stop-color="#ffd500"/></linearGradient><linearGradient id="b318" gradientUnits="userSpaceOnUse" x1="1284.3" y1="1789.4" x2="1293.6" y2="1765.5"><stop stop-color="#ffd500"/><stop offset="1" stop-color="#ffb600"/></linearGradient><linearGradient id="b319" gradientUnits="userSpaceOnUse" x1="1450.8" y1="1745.2" x2="1497.6" y2="1740.6"><stop stop-color="#ff6500"/><stop offset="1" stop-color="#ff4e00"/></linearGradient><linearGradient id="b320" gradientUnits="userSpaceOnUse" x1="961.5" y1="1914" x2="970.6" y2="1877.2"><stop stop-color="#00ff00"/><stop offset="0.67" stop-color="#00ff00"/><stop offset="1" stop-color="#18ff00"/></linearGradient><linearGradient id="b321" gradientUnits="userSpaceOnUse" x1="1329.1" y1="1780.7" x2="1341.2" y2="1755.3"><stop stop-color="#ffb600"/><stop offset="1" stop-color="#ff9a00"/></linearGradient><linearGradient id="b322" gradientUnits="userSpaceOnUse" x1="1077.6" y1="1857.7" x2="1085.6" y2="1827.2"><stop stop-color="#69ff00"/><stop offset="1" stop-color="#9fff00"/></linearGradient><linearGradient id="b323" gradientUnits="userSpaceOnUse" x1="1412.6" y1="1764" x2="1442.9" y2="1737.5"><stop stop-color="#ff7f00"/><stop offset="1" stop-color="#ff6500"/></linearGradient><linearGradient id="b324" gradientUnits="userSpaceOnUse" x1="1372.6" y1="1772.8" x2="1390.3" y2="1745.5"><stop stop-color="#ff9a00"/><stop offset="1" stop-color="#ff7f00"/></linearGradient><linearGradient id="b325" gradientUnits="userSpaceOnUse" x1="1123.7" y1="1843.8" x2="1131.5" y2="1815.5"><stop stop-color="#94ff00"/><stop offset="1" stop-color="#c4ff00"/></linearGradient><linearGradient id="b326" gradientUnits="userSpaceOnUse" x1="1007.5" y1="1897.9" x2="1016.3" y2="1863.2"><stop stop-color="#03ff00"/><stop offset="1" stop-color="#44ff00"/></linearGradient><linearGradient id="b327" gradientUnits="userSpaceOnUse" x1="1169.8" y1="1830.3" x2="1177.5" y2="1804.4"><stop stop-color="#beff00"/><stop offset="1" stop-color="#e7ff00"/></linearGradient><linearGradient id="b328" gradientUnits="userSpaceOnUse" x1="1216" y1="1817.4" x2="1223.9" y2="1793.3"><stop stop-color="#e6ff00"/><stop offset="0.7" stop-color="#ffff00"/><stop offset="1" stop-color="#fff400"/></linearGradient><linearGradient id="b329" gradientUnits="userSpaceOnUse" x1="1053.6" y1="1882.1" x2="1062.2" y2="1849.7"><stop stop-color="#34ff00"/><stop offset="1" stop-color="#6fff00"/></linearGradient><linearGradient id="b330" gradientUnits="userSpaceOnUse" x1="1261.7" y1="1806.5" x2="1270.9" y2="1781.7"><stop stop-color="#fff400"/><stop offset="1" stop-color="#ffd200"/></linearGradient><linearGradient id="b331" gradientUnits="userSpaceOnUse" x1="1307.2" y1="1796.3" x2="1318.3" y2="1770.5"><stop stop-color="#ffd200"/><stop offset="1" stop-color="#ffb100"/></linearGradient><linearGradient id="b332" gradientUnits="userSpaceOnUse" x1="983" y1="1925.3" x2="992.7" y2="1888.7"><stop stop-color="#00ff00"/><stop offset="0.82" stop-color="#00ff00"/><stop offset="1" stop-color="#0dff00"/></linearGradient><linearGradient id="b333" gradientUnits="userSpaceOnUse" x1="1352" y1="1786.7" x2="1366.7" y2="1759.5"><stop stop-color="#ffb100"/><stop offset="1" stop-color="#ff9200"/></linearGradient><linearGradient id="b334" gradientUnits="userSpaceOnUse" x1="1435" y1="1766.7" x2="1470.5" y2="1741.8"><stop stop-color="#ff7500"/><stop offset="1" stop-color="#ff5900"/></linearGradient><linearGradient id="b335" gradientUnits="userSpaceOnUse" x1="1395.2" y1="1777.7" x2="1416.8" y2="1749.2"><stop stop-color="#ff9200"/><stop offset="1" stop-color="#ff7500"/></linearGradient><linearGradient id="b336" gradientUnits="userSpaceOnUse" x1="1099.8" y1="1866.9" x2="1108.3" y2="1836.8"><stop stop-color="#64ff00"/><stop offset="1" stop-color="#99ff00"/></linearGradient><linearGradient id="b337" gradientUnits="userSpaceOnUse" x1="1146.2" y1="1852.1" x2="1154.5" y2="1824.3"><stop stop-color="#92ff00"/><stop offset="1" stop-color="#c0ff00"/></linearGradient><linearGradient id="b338" gradientUnits="userSpaceOnUse" x1="1029.2" y1="1908.3" x2="1038.7" y2="1874"><stop stop-color="#00ff00"/><stop offset="0.07" stop-color="#00ff00"/><stop offset="1" stop-color="#3cff00"/></linearGradient><linearGradient id="b339" gradientUnits="userSpaceOnUse" x1="1192.7" y1="1837.8" x2="1200.9" y2="1812.3"><stop stop-color="#beff00"/><stop offset="1" stop-color="#e6ff00"/></linearGradient><linearGradient id="b340" gradientUnits="userSpaceOnUse" x1="1238.8" y1="1825.3" x2="1248" y2="1799.5"><stop stop-color="#e6ff00"/><stop offset="0.65" stop-color="#ffff00"/><stop offset="1" stop-color="#fff200"/></linearGradient><linearGradient id="b341" gradientUnits="userSpaceOnUse" x1="1075.7" y1="1891.7" x2="1084.9" y2="1859.7"><stop stop-color="#2fff00"/><stop offset="1" stop-color="#69ff00"/></linearGradient><linearGradient id="b342" gradientUnits="userSpaceOnUse" x1="1284.7" y1="1813.6" x2="1295.5" y2="1787.1"><stop stop-color="#fff200"/><stop offset="1" stop-color="#ffcd00"/></linearGradient><linearGradient id="b343" gradientUnits="userSpaceOnUse" x1="1330.3" y1="1802.5" x2="1343.6" y2="1775"><stop stop-color="#ffcd00"/><stop offset="1" stop-color="#ffaa00"/></linearGradient><linearGradient id="b344" gradientUnits="userSpaceOnUse" x1="1375.1" y1="1792.1" x2="1392.6" y2="1763.4"><stop stop-color="#ffaa00"/><stop offset="1" stop-color="#ff8900"/></linearGradient><linearGradient id="b345" gradientUnits="userSpaceOnUse" x1="1004.7" y1="1936.1" x2="1015" y2="1899.9"><stop stop-color="#00ff00"/><stop offset="0.95" stop-color="#00ff00"/><stop offset="1" stop-color="#03ff00"/></linearGradient><linearGradient id="b346" gradientUnits="userSpaceOnUse" x1="1418.1" y1="1781.8" x2="1443.7" y2="1752.7"><stop stop-color="#ff8900"/><stop offset="1" stop-color="#ff6900"/></linearGradient><linearGradient id="b347" gradientUnits="userSpaceOnUse" x1="1122.2" y1="1875.6" x2="1131.3" y2="1846"><stop stop-color="#61ff00"/><stop offset="1" stop-color="#94ff00"/></linearGradient><linearGradient id="b348" gradientUnits="userSpaceOnUse" x1="1169" y1="1860" x2="1177.8" y2="1832.8"><stop stop-color="#91ff00"/><stop offset="1" stop-color="#beff00"/></linearGradient><linearGradient id="b349" gradientUnits="userSpaceOnUse" x1="1051.3" y1="1918.2" x2="1061.3" y2="1884.3"><stop stop-color="#00ff00"/><stop offset="0.16" stop-color="#00ff00"/><stop offset="1" stop-color="#34ff00"/></linearGradient><linearGradient id="b350" gradientUnits="userSpaceOnUse" x1="1215.5" y1="1845.8" x2="1225" y2="1818.9"><stop stop-color="#beff00"/><stop offset="1" stop-color="#e8ff00"/></linearGradient><linearGradient id="b351" gradientUnits="userSpaceOnUse" x1="1261.8" y1="1832.6" x2="1272.5" y2="1805.3"><stop stop-color="#e8ff00"/><stop offset="0.56" stop-color="#ffff00"/><stop offset="1" stop-color="#ffed00"/></linearGradient><linearGradient id="b352" gradientUnits="userSpaceOnUse" x1="1098.1" y1="1900.8" x2="1107.8" y2="1869.3"><stop stop-color="#2bff00"/><stop offset="1" stop-color="#64ff00"/></linearGradient><linearGradient id="b353" gradientUnits="userSpaceOnUse" x1="1307.9" y1="1820.1" x2="1320.5" y2="1792"><stop stop-color="#ffed00"/><stop offset="1" stop-color="#ffc600"/></linearGradient><linearGradient id="b354" gradientUnits="userSpaceOnUse" x1="1353.7" y1="1808.2" x2="1369.2" y2="1779.2"><stop stop-color="#ffc600"/><stop offset="1" stop-color="#ffa100"/></linearGradient><linearGradient id="b355" gradientUnits="userSpaceOnUse" x1="1398.4" y1="1796.9" x2="1419.1" y2="1766.9"><stop stop-color="#ffa100"/><stop offset="1" stop-color="#ff7e00"/></linearGradient><linearGradient id="b356" gradientUnits="userSpaceOnUse" x1="1026.7" y1="1946.4" x2="1037.5" y2="1910.7"><stop stop-color="#00ff00"/><stop offset="1" stop-color="#00ff00"/></linearGradient><linearGradient id="b357" gradientUnits="userSpaceOnUse" x1="1145" y1="1883.9" x2="1154.6" y2="1854.8"><stop stop-color="#5fff00"/><stop offset="1" stop-color="#92ff00"/></linearGradient><linearGradient id="b358" gradientUnits="userSpaceOnUse" x1="1191.9" y1="1868" x2="1201.8" y2="1839.9"><stop stop-color="#91ff00"/><stop offset="1" stop-color="#bfff00"/></linearGradient><linearGradient id="b359" gradientUnits="userSpaceOnUse" x1="1073.7" y1="1927.7" x2="1084.2" y2="1894.3"><stop stop-color="#00ff00"/><stop offset="0.24" stop-color="#00ff00"/><stop offset="1" stop-color="#2fff00"/></linearGradient><linearGradient id="b360" gradientUnits="userSpaceOnUse" x1="1238.5" y1="1853.4" x2="1249.4" y2="1825"><stop stop-color="#bfff00"/><stop offset="1" stop-color="#ecff00"/></linearGradient><linearGradient id="b361" gradientUnits="userSpaceOnUse" x1="1285.1" y1="1839.5" x2="1297.5" y2="1810.6"><stop stop-color="#ecff00"/><stop offset="0.45" stop-color="#ffff00"/><stop offset="1" stop-color="#ffe700"/></linearGradient><linearGradient id="b362" gradientUnits="userSpaceOnUse" x1="1120.8" y1="1909.5" x2="1131.1" y2="1878.5"><stop stop-color="#29ff00"/><stop offset="1" stop-color="#61ff00"/></linearGradient><linearGradient id="b363" gradientUnits="userSpaceOnUse" x1="1331.5" y1="1826.1" x2="1346" y2="1796.5"><stop stop-color="#ffe700"/><stop offset="1" stop-color="#ffbe00"/></linearGradient><linearGradient id="b364" gradientUnits="userSpaceOnUse" x1="1377.3" y1="1813.4" x2="1395.3" y2="1782.9"><stop stop-color="#ffbe00"/><stop offset="1" stop-color="#ff9700"/></linearGradient><linearGradient id="b365" gradientUnits="userSpaceOnUse" x1="1049" y1="1956.4" x2="1060.4" y2="1921"><stop stop-color="#00ff00"/><stop offset="1" stop-color="#00ff00"/></linearGradient><linearGradient id="b366" gradientUnits="userSpaceOnUse" x1="1168" y1="1891.9" x2="1178.3" y2="1862.6"><stop stop-color="#5fff00"/><stop offset="1" stop-color="#92ff00"/></linearGradient><linearGradient id="b367" gradientUnits="userSpaceOnUse" x1="1215" y1="1876" x2="1226.1" y2="1846.5"><stop stop-color="#92ff00"/><stop offset="1" stop-color="#c2ff00"/></linearGradient><linearGradient id="b368" gradientUnits="userSpaceOnUse" x1="1096.3" y1="1936.8" x2="1107.4" y2="1903.9"><stop stop-color="#00ff00"/><stop offset="0.28" stop-color="#00ff00"/><stop offset="1" stop-color="#2bff00"/></linearGradient><linearGradient id="b369" gradientUnits="userSpaceOnUse" x1="1261.9" y1="1860.6" x2="1274.2" y2="1830.7"><stop stop-color="#c2ff00"/><stop offset="1" stop-color="#f1ff00"/></linearGradient><linearGradient id="b370" gradientUnits="userSpaceOnUse" x1="1308.7" y1="1845.8" x2="1322.8" y2="1815.4"><stop stop-color="#f1ff00"/><stop offset="0.31" stop-color="#ffff00"/><stop offset="1" stop-color="#ffe000"/></linearGradient><linearGradient id="b371" gradientUnits="userSpaceOnUse" x1="1143.8" y1="1917.7" x2="1154.7" y2="1887"><stop stop-color="#29ff00"/><stop offset="1" stop-color="#60ff00"/></linearGradient><linearGradient id="b372" gradientUnits="userSpaceOnUse" x1="1355.3" y1="1831.6" x2="1371.9" y2="1800.6"><stop stop-color="#ffe000"/><stop offset="1" stop-color="#ffb400"/></linearGradient><linearGradient id="b373" gradientUnits="userSpaceOnUse" x1="1071.6" y1="1965.8" x2="1083.5" y2="1931"><stop stop-color="#00ff00"/><stop offset="1" stop-color="#00ff00"/></linearGradient><linearGradient id="b374" gradientUnits="userSpaceOnUse" x1="1191.1" y1="1900.3" x2="1202.6" y2="1869.6"><stop stop-color="#60ff00"/><stop offset="1" stop-color="#94ff00"/></linearGradient><linearGradient id="b375" gradientUnits="userSpaceOnUse" x1="1238.3" y1="1883.5" x2="1250.9" y2="1852.5"><stop stop-color="#94ff00"/><stop offset="1" stop-color="#c7ff00"/></linearGradient><linearGradient id="b376" gradientUnits="userSpaceOnUse" x1="1119.3" y1="1945.5" x2="1130.9" y2="1913"><stop stop-color="#00ff00"/><stop offset="0.3" stop-color="#00ff00"/><stop offset="1" stop-color="#29ff00"/></linearGradient><linearGradient id="b377" gradientUnits="userSpaceOnUse" x1="1285.5" y1="1867.3" x2="1299.5" y2="1836"><stop stop-color="#c7ff00"/><stop offset="1" stop-color="#f8ff00"/></linearGradient><linearGradient id="b378" gradientUnits="userSpaceOnUse" x1="1332.6" y1="1851.6" x2="1348.5" y2="1819.9"><stop stop-color="#f8ff00"/><stop offset="0.14" stop-color="#ffff00"/><stop offset="1" stop-color="#ffd600"/></linearGradient><linearGradient id="b379" gradientUnits="userSpaceOnUse" x1="1166.9" y1="1926.3" x2="1178.9" y2="1894.4"><stop stop-color="#29ff00"/><stop offset="1" stop-color="#62ff00"/></linearGradient><linearGradient id="b380" gradientUnits="userSpaceOnUse" x1="1094.5" y1="1974.9" x2="1107" y2="1940.6"><stop stop-color="#00ff00"/><stop offset="1" stop-color="#00ff00"/></linearGradient><linearGradient id="b381" gradientUnits="userSpaceOnUse" x1="1214.4" y1="1908.2" x2="1227.3" y2="1876.1"><stop stop-color="#62ff00"/><stop offset="1" stop-color="#99ff00"/></linearGradient><linearGradient id="b382" gradientUnits="userSpaceOnUse" x1="1261.9" y1="1890.5" x2="1276" y2="1858.2"><stop stop-color="#99ff00"/><stop offset="1" stop-color="#ceff00"/></linearGradient><linearGradient id="b383" gradientUnits="userSpaceOnUse" x1="1142.4" y1="1954.1" x2="1155" y2="1920.9"><stop stop-color="#00ff00"/><stop offset="0.29" stop-color="#00ff00"/><stop offset="1" stop-color="#2bff00"/></linearGradient><linearGradient id="b384" gradientUnits="userSpaceOnUse" x1="1309.5" y1="1873.5" x2="1325.1" y2="1840.8"><stop stop-color="#ceff00"/><stop offset="0.96" stop-color="#ffff00"/><stop offset="1" stop-color="#fffd00"/></linearGradient><linearGradient id="b385" gradientUnits="userSpaceOnUse" x1="1190.2" y1="1934.6" x2="1203.5" y2="1901.3"><stop stop-color="#2bff00"/><stop offset="1" stop-color="#66ff00"/></linearGradient><linearGradient id="b386" gradientUnits="userSpaceOnUse" x1="1117.7" y1="1983.7" x2="1130.9" y2="1949.1"><stop stop-color="#00ff00"/><stop offset="1" stop-color="#00ff00"/></linearGradient><linearGradient id="b387" gradientUnits="userSpaceOnUse" x1="1238" y1="1915.6" x2="1252.3" y2="1882.1"><stop stop-color="#66ff00"/><stop offset="1" stop-color="#9fff00"/></linearGradient><linearGradient id="b388" gradientUnits="userSpaceOnUse" x1="1285.9" y1="1897.1" x2="1301.5" y2="1863.4"><stop stop-color="#9fff00"/><stop offset="1" stop-color="#d6ff00"/></linearGradient><linearGradient id="b389" gradientUnits="userSpaceOnUse" x1="1165.7" y1="1962.8" x2="1179.5" y2="1928.2"><stop stop-color="#00ff00"/><stop offset="0.27" stop-color="#00ff00"/><stop offset="1" stop-color="#2eff00"/></linearGradient><linearGradient id="b390" gradientUnits="userSpaceOnUse" x1="1213.8" y1="1942.4" x2="1228.5" y2="1907.7"><stop stop-color="#2eff00"/><stop offset="1" stop-color="#6bff00"/></linearGradient><linearGradient id="b391" gradientUnits="userSpaceOnUse" x1="1140.9" y1="1992.7" x2="1155.4" y2="1956.9"><stop stop-color="#00ff00"/><stop offset="1" stop-color="#00ff00"/></linearGradient><linearGradient id="b392" gradientUnits="userSpaceOnUse" x1="1262" y1="1922.4" x2="1277.8" y2="1887.7"><stop stop-color="#6bff00"/><stop offset="1" stop-color="#a6ff00"/></linearGradient><linearGradient id="b393" gradientUnits="userSpaceOnUse" x1="1189.3" y1="1970.9" x2="1204.4" y2="1935.1"><stop stop-color="#00ff00"/><stop offset="0.22" stop-color="#00ff00"/><stop offset="1" stop-color="#33ff00"/></linearGradient><linearGradient id="b394" gradientUnits="userSpaceOnUse" x1="1237.7" y1="1949.6" x2="1253.8" y2="1913.8"><stop stop-color="#33ff00"/><stop offset="1" stop-color="#72ff00"/></linearGradient><linearGradient id="b395" gradientUnits="userSpaceOnUse" x1="1164.4" y1="2001.3" x2="1180.2" y2="1964.3"><stop stop-color="#00ff00"/><stop offset="1" stop-color="#00ff00"/></linearGradient><linearGradient id="b396" gradientUnits="userSpaceOnUse" x1="1213.2" y1="1978.6" x2="1229.7" y2="1941.6"><stop stop-color="#00ff00"/><stop offset="0.14" stop-color="#00ff00"/><stop offset="1" stop-color="#3aff00"/></linearGradient><linearGradient id="b397" gradientUnits="userSpaceOnUse" x1="1188.3" y1="2009.4" x2="1205.4" y2="1971.2"><stop stop-color="#00ff00"/><stop offset="1" stop-color="#00ff00"/></linearGradient></defs><g class="sf"><path fill="url(#b0)" d="M1196.8 1599.9l19.7 3.3l-19.7-9.5l-19.7-3.6z"/><path fill="url(#b1)" d="M1216.7 1609.3l19.6 3.2l-19.8-9.3l-19.7-3.3z"/><path fill="url(#b2)" d="M1176.9 1597.7l19.9 2.2l-19.7-9.8l-19.9-2.4z"/><path fill="url(#b3)" d="M1236.8 1618.3l19.6 3l-20.1-8.8l-19.6-3.2z"/><path fill="url(#b4)" d="M1196.8 1607.4l19.9 1.9l-19.9-9.4l-19.9-2.2z"/><path fill="url(#b5)" d="M1156.7 1596.9l20.2 0.8l-19.7-10l-20.2-1.1z"/><path fill="url(#b6)" d="M1257.1 1626.9l19.6 2.8l-20.3-8.4l-19.6-3z"/><path fill="url(#b7)" d="M1216.9 1616.6l19.9 1.7l-20.1-9l-19.9-1.9z"/><path fill="url(#b8)" d="M1176.7 1606.7l20.1 0.7l-19.9-9.7l-20.2-0.8z"/><path fill="url(#b9)" d="M1136.3 1597.2l20.4-0.3l-19.7-10.3l-20.4 0.2z"/><path fill="url(#b10)" d="M1277.7 1635.2l19.5 2.6l-20.5-8.1l-19.6-2.8z"/><path fill="url(#b11)" d="M1237.3 1625.4l19.8 1.5l-20.3-8.6l-19.9-1.7z"/><path fill="url(#b12)" d="M1196.8 1616.1l20.1 0.5l-20.1-9.2l-20.1-0.7z"/><path fill="url(#b13)" d="M1156.3 1607.3l20.4-0.6l-20-9.8l-20.4 0.3z"/><path fill="url(#b14)" d="M1115.6 1598.9l20.7-1.7l-19.7-10.4l-20.7 1.5z"/><path fill="url(#b15)" d="M1298.5 1643l19.5 2.4l-20.8-7.6l-19.5-2.6z"/><path fill="url(#b16)" d="M1257.9 1633.9l19.8 1.3l-20.6-8.3l-19.8-1.5z"/><path fill="url(#b17)" d="M1217.2 1625.2l20.1 0.2l-20.4-8.8l-20.1-0.5z"/><path fill="url(#b18)" d="M1176.4 1616.9l20.4-0.8l-20.1-9.4l-20.4 0.6z"/><path fill="url(#b19)" d="M1135.6 1609.2l20.7-1.9l-20-10.1l-20.7 1.7z"/><path fill="url(#b20)" d="M1094.7 1601.9l20.9-3l-19.7-10.6l-21 2.7z"/><path fill="url(#b21)" d="M1319.5 1650.5l19.5 2.2l-21-7.3l-19.5-2.4z"/><path fill="url(#b22)" d="M1278.7 1641.9l19.8 1.1l-20.8-7.8l-19.8-1.3z"/><path fill="url(#b23)" d="M1237.8 1633.8l20.1 0.1l-20.6-8.5l-20.1-0.2z"/><path fill="url(#b24)" d="M1196.8 1626.2l20.4-1l-20.4-9.1l-20.4 0.8z"/><path fill="url(#b25)" d="M1155.8 1619.1l20.6-2.2l-20.1-9.6l-20.7 1.9z"/><path fill="url(#b26)" d="M1114.7 1612.5l20.9-3.3l-20-10.3l-20.9 3z"/><path fill="url(#b27)" d="M1073.6 1606.3l21.1-4.4l-19.8-10.9l-21.1 4.2z"/><path fill="url(#b28)" d="M1340.8 1657.5l19.4 2l-21.2-6.8l-19.5-2.2z"/><path fill="url(#b29)" d="M1299.7 1649.5l19.8 1l-21-7.5l-19.8-1.1z"/><path fill="url(#b30)" d="M1258.6 1642.1l20.1-0.2l-20.8-8l-20.1-0.1z"/><path fill="url(#b31)" d="M1217.4 1635.1l20.4-1.3l-20.6-8.6l-20.4 1z"/><path fill="url(#b32)" d="M1176.2 1628.6l20.6-2.4l-20.4-9.3l-20.6 2.2z"/><path fill="url(#b33)" d="M1134.9 1622.6l20.9-3.5l-20.2-9.9l-20.9 3.3z"/><path fill="url(#b34)" d="M1093.5 1617.1l21.2-4.6l-20-10.6l-21.1 4.4z"/><path fill="url(#b35)" d="M1052.2 1612l21.4-5.7l-19.8-11.1l-21.4 5.4z"/><path fill="url(#b36)" d="M1362.3 1664.1l19.4 1.8l-21.5-6.4l-19.4-2z"/><path fill="url(#b37)" d="M1321 1656.8l19.8 0.7l-21.3-7l-19.8-1z"/><path fill="url(#b38)" d="M1279.7 1649.9l20-0.4l-21-7.6l-20.1 0.2z"/><path fill="url(#b39)" d="M1238.3 1643.6l20.3-1.5l-20.8-8.3l-20.4 1.3z"/><path fill="url(#b40)" d="M1196.8 1637.7l20.6-2.6l-20.6-8.9l-20.6 2.4z"/><path fill="url(#b41)" d="M1155.3 1632.3l20.9-3.7l-20.4-9.5l-20.9 3.5z"/><path fill="url(#b42)" d="M1030.5 1619.2l21.7-7.2l-19.8-11.4l-21.7 6.9z"/><path fill="url(#b43)" d="M1113.7 1627.4l21.2-4.8l-20.2-10.1l-21.2 4.6z"/><path fill="url(#b44)" d="M1072.1 1623.1l21.4-6l-19.9-10.8l-21.4 5.7z"/><path fill="url(#b45)" d="M1384.1 1670.3l19.4 1.6l-21.8-6l-19.4-1.8z"/><path fill="url(#b46)" d="M1342.6 1663.6l19.7 0.5l-21.5-6.6l-19.8-0.7z"/><path fill="url(#b47)" d="M1301 1657.3l20-0.5l-21.3-7.3l-20 0.4z"/><path fill="url(#b48)" d="M1259.4 1651.6l20.3-1.7l-21.1-7.8l-20.3 1.5z"/><path fill="url(#b49)" d="M1217.7 1646.4l20.6-2.8l-20.9-8.5l-20.6 2.6z"/><path fill="url(#b50)" d="M1008.7 1627.7l21.8-8.5l-19.8-11.7l-21.8 8.3z"/><path fill="url(#b51)" d="M1175.9 1641.7l20.9-4l-20.6-9.1l-20.9 3.7z"/><path fill="url(#b52)" d="M1050.5 1630.5l21.6-7.4l-19.9-11.1l-21.7 7.2z"/><path fill="url(#b53)" d="M1134.2 1637.4l21.1-5.1l-20.4-9.7l-21.2 4.8z"/><path fill="url(#b54)" d="M1092.3 1633.7l21.4-6.3l-20.2-10.3l-21.4 6z"/><path fill="url(#b55)" d="M1406.2 1676l19.3 1.4l-22-5.5l-19.4-1.6z"/><path fill="url(#b56)" d="M1364.4 1669.9l19.7 0.4l-21.8-6.2l-19.7-0.5z"/><path fill="url(#b57)" d="M1322.6 1664.4l20-0.8l-21.6-6.8l-20 0.5z"/><path fill="url(#b58)" d="M1280.7 1659.3l20.3-2l-21.3-7.4l-20.3 1.7z"/><path fill="url(#b59)" d="M986.6 1637.7l22.1-10l-19.8-11.9l-22.1 9.7z"/><path fill="url(#b60)" d="M1238.8 1654.7l20.6-3.1l-21.1-8l-20.6 2.8z"/><path fill="url(#b61)" d="M1028.6 1639.3l21.9-8.8l-20-11.3l-21.8 8.5z"/><path fill="url(#b62)" d="M1196.8 1650.6l20.9-4.2l-20.9-8.7l-20.9 4z"/><path fill="url(#b63)" d="M1070.7 1641.4l21.6-7.7l-20.2-10.6l-21.6 7.4z"/><path fill="url(#b64)" d="M1154.8 1647l21.1-5.3l-20.6-9.4l-21.1 5.1z"/><path fill="url(#b65)" d="M1112.8 1643.9l21.4-6.5l-20.5-10l-21.4 6.3z"/><path fill="url(#b66)" d="M1428.5 1681.3l19.4 1.3l-22.4-5.2l-19.3-1.4z"/><path fill="url(#b67)" d="M1386.5 1675.9l19.7 0.1l-22.1-5.7l-19.7-0.4z"/><path fill="url(#b68)" d="M1344.4 1670.9l20-1l-21.8-6.3l-20 0.8z"/><path fill="url(#b69)" d="M1302.3 1666.5l20.3-2.1l-21.6-7.1l-20.3 2z"/><path fill="url(#b70)" d="M964.3 1649.1l22.3-11.4l-19.8-12.2l-22.3 11.1z"/><path fill="url(#b71)" d="M1260.1 1662.6l20.6-3.3l-21.3-7.7l-20.6 3.1z"/><path fill="url(#b72)" d="M1006.6 1649.5l22-10.2l-19.9-11.6l-22.1 10z"/><path fill="url(#b73)" d="M1217.9 1659.1l20.9-4.4l-21.1-8.3l-20.9 4.2z"/><path fill="url(#b74)" d="M1048.9 1650.4l21.8-9l-20.2-10.9l-21.9 8.8z"/><path fill="url(#b75)" d="M1175.7 1656.2l21.1-5.6l-20.9-8.9l-21.1 5.3z"/><path fill="url(#b76)" d="M1091.1 1651.9l21.7-8l-20.5-10.2l-21.6 7.7z"/><path fill="url(#b77)" d="M1133.4 1653.8l21.4-6.8l-20.6-9.6l-21.4 6.5z"/><path fill="url(#b78)" d="M1451.2 1686.2l19.3 1l-22.6-4.6l-19.4-1.3z"/><path fill="url(#b79)" d="M1408.9 1681.4l19.6-0.1l-22.3-5.3l-19.7-0.1z"/><path fill="url(#b80)" d="M1366.6 1677.1l19.9-1.2l-22.1-6l-20 1z"/><path fill="url(#b81)" d="M941.8 1662l22.5-12.9l-19.8-12.5l-22.5 12.6z"/><path fill="url(#b82)" d="M1324.2 1673.3l20.2-2.4l-21.8-6.5l-20.3 2.1z"/><path fill="url(#b83)" d="M984.3 1661.3l22.3-11.8l-20-11.8l-22.3 11.4z"/><path fill="url(#b84)" d="M1281.8 1670l20.5-3.5l-21.6-7.2l-20.6 3.3z"/><path fill="url(#b85)" d="M1026.8 1661l22.1-10.6l-20.3-11.1l-22 10.2z"/><path fill="url(#b86)" d="M1239.3 1667.3l20.8-4.7l-21.3-7.9l-20.9 4.4z"/><path fill="url(#b87)" d="M1069.3 1661.2l21.8-9.3l-20.4-10.5l-21.8 9z"/><path fill="url(#b88)" d="M1196.8 1665l21.1-5.9l-21.1-8.5l-21.1 5.6z"/><path fill="url(#b89)" d="M1111.8 1662l21.6-8.2l-20.6-9.9l-21.7 8z"/><path fill="url(#b90)" d="M1154.3 1663.2l21.4-7l-20.9-9.2l-21.4 6.8z"/><path fill="url(#b91)" d="M1474.2 1690.6l19.2 0.9l-22.9-4.3l-19.3-1z"/><path fill="url(#b92)" d="M1431.6 1686.5l19.6-0.3l-22.7-4.9l-19.6 0.1z"/><path fill="url(#b93)" d="M919 1676.4l22.8-14.4l-19.8-12.8l-22.7 14.1z"/><path fill="url(#b94)" d="M1389 1682.8l19.9-1.4l-22.4-5.5l-19.9 1.2z"/><path fill="url(#b95)" d="M961.7 1674.5l22.6-13.2l-20-12.2l-22.5 12.9z"/><path fill="url(#b96)" d="M1346.3 1679.7l20.3-2.6l-22.2-6.2l-20.2 2.4z"/><path fill="url(#b97)" d="M1004.4 1673l22.4-12l-20.2-11.5l-22.3 11.8z"/><path fill="url(#b98)" d="M1303.6 1677.1l20.6-3.8l-21.9-6.8l-20.5 3.5z"/><path fill="url(#b99)" d="M1047.2 1672.1l22.1-10.9l-20.4-10.8l-22.1 10.6z"/><path fill="url(#b100)" d="M1260.9 1675l20.9-5l-21.7-7.4l-20.8 4.7z"/><path fill="url(#b101)" d="M1089.9 1671.6l21.9-9.6l-20.7-10.1l-21.8 9.3z"/><path fill="url(#b102)" d="M1218.2 1673.4l21.1-6.1l-21.4-8.2l-21.1 5.9z"/><path fill="url(#b103)" d="M1132.7 1671.7l21.6-8.5l-20.9-9.4l-21.6 8.2z"/><path fill="url(#b104)" d="M1175.4 1672.3l21.4-7.3l-21.1-8.8l-21.4 7z"/><path fill="url(#b105)" d="M1497.4 1694.5l19.3 0.7l-23.3-3.7l-19.2-0.9z"/><path fill="url(#b106)" d="M896.1 1692.4l22.9-16l-19.7-13.1l-22.9 15.6z"/><path fill="url(#b107)" d="M1454.6 1691.1l19.6-0.5l-23-4.4l-19.6 0.3z"/><path fill="url(#b108)" d="M939 1689.2l22.7-14.7l-19.9-12.5l-22.8 14.4z"/><path fill="url(#b109)" d="M1411.7 1688.1l19.9-1.6l-22.7-5.1l-19.9 1.4z"/><path fill="url(#b110)" d="M981.9 1686.5l22.5-13.5l-20.1-11.7l-22.6 13.2z"/><path fill="url(#b111)" d="M1368.8 1685.6l20.2-2.8l-22.4-5.7l-20.3 2.6z"/><path fill="url(#b112)" d="M1024.8 1684.4l22.4-12.3l-20.4-11.1l-22.4 12z"/><path fill="url(#b113)" d="M1325.8 1683.7l20.5-4l-22.1-6.4l-20.6 3.8z"/><path fill="url(#b114)" d="M1067.8 1682.7l22.1-11.1l-20.6-10.4l-22.1 10.9z"/><path fill="url(#b115)" d="M1282.8 1682.2l20.8-5.1l-21.8-7.1l-20.9 5z"/><path fill="url(#b116)" d="M1110.8 1681.6l21.9-9.9l-20.9-9.7l-21.9 9.6z"/><path fill="url(#b117)" d="M1239.8 1681.3l21.1-6.3l-21.6-7.7l-21.1 6.1z"/><path fill="url(#b118)" d="M1521 1698l19.2 0.5l-23.5-3.3l-19.3-0.7z"/><path fill="url(#b119)" d="M1153.8 1681l21.6-8.7l-21.1-9.1l-21.6 8.5z"/><path fill="url(#b120)" d="M1196.8 1680.9l21.4-7.5l-21.4-8.4l-21.4 7.3z"/><path fill="url(#b121)" d="M873 1709.8l23.1-17.4l-19.7-13.5l-23.1 17.1z"/><path fill="url(#b122)" d="M1477.9 1695.2l19.5-0.7l-23.2-3.9l-19.6 0.5z"/><path fill="url(#b123)" d="M916.1 1705.4l22.9-16.2l-20-12.8l-22.9 16z"/><path fill="url(#b124)" d="M1434.7 1692.9l19.9-1.8l-23-4.6l-19.9 1.6z"/><path fill="url(#b125)" d="M959.2 1701.5l22.7-15l-20.2-12l-22.7 14.7z"/><path fill="url(#b126)" d="M1391.5 1691.1l20.2-3l-22.7-5.3l-20.2 2.8z"/><path fill="url(#b127)" d="M1002.3 1698.2l22.5-13.8l-20.4-11.4l-22.5 13.5z"/><path fill="url(#b128)" d="M849.8 1728.8l23.2-19l-19.7-13.8l-23.2 18.7z"/><path fill="url(#b129)" d="M1348.2 1689.8l20.6-4.2l-22.5-5.9l-20.5 4z"/><path fill="url(#b130)" d="M1045.5 1695.3l22.3-12.6l-20.6-10.6l-22.4 12.3z"/><path fill="url(#b131)" d="M1305 1689.1l20.8-5.4l-22.2-6.6l-20.8 5.1z"/><path fill="url(#b132)" d="M1088.7 1693l22.1-11.4l-20.9-10l-22.1 11.1z"/><path fill="url(#b133)" d="M1544.9 1701l19.2 0.4l-23.9-2.9l-19.2-0.5z"/><path fill="url(#b134)" d="M1261.7 1688.8l21.1-6.6l-21.9-7.2l-21.1 6.3z"/><path fill="url(#b135)" d="M1131.9 1691.2l21.9-10.2l-21.1-9.3l-21.9 9.9z"/><path fill="url(#b136)" d="M1218.4 1689.1l21.4-7.8l-21.6-7.9l-21.4 7.5z"/><path fill="url(#b137)" d="M1175.2 1689.9l21.6-9l-21.4-8.6l-21.6 8.7z"/><path fill="url(#b138)" d="M893 1723.2l23.1-17.8l-20-13l-23.1 17.4z"/><path fill="url(#b139)" d="M1501.5 1698.9l19.5-0.9l-23.6-3.5l-19.5 0.7z"/><path fill="url(#b140)" d="M936.2 1718.1l23-16.6l-20.2-12.3l-22.9 16.2z"/><path fill="url(#b141)" d="M1458 1697.3l19.9-2.1l-23.3-4.1l-19.9 1.8z"/><path fill="url(#b142)" d="M826.3 1749.3l23.5-20.5l-19.7-14.1l-23.5 20.2z"/><path fill="url(#b143)" d="M979.5 1713.5l22.8-15.3l-20.4-11.7l-22.7 15z"/><path fill="url(#b144)" d="M1414.5 1696.1l20.2-3.2l-23-4.8l-20.2 3z"/><path fill="url(#b145)" d="M1022.9 1709.5l22.6-14.2l-20.7-10.9l-22.5 13.8z"/><path fill="url(#b146)" d="M1371 1695.6l20.5-4.5l-22.7-5.5l-20.6 4.2z"/><path fill="url(#b147)" d="M869.6 1742.5l23.4-19.3l-20-13.4l-23.2 19z"/><path fill="url(#b148)" d="M1066.3 1705.9l22.4-12.9l-20.9-10.3l-22.3 12.6z"/><path fill="#ff8100" d="M1327.4 1695.5l20.8-5.7l-22.4-6.1l-20.8 5.4z"/><path fill="url(#b149)" d="M1569.2 1703.6l19.1 0.1l-24.2-2.3l-19.2-0.4z"/><path fill="url(#b150)" d="M1109.8 1702.9l22.1-11.7l-21.1-9.6l-22.1 11.4z"/><path fill="url(#b151)" d="M1283.9 1695.9l21.1-6.8l-22.2-6.9l-21.1 6.6z"/><path fill="url(#b152)" d="M1153.3 1700.4l21.9-10.5l-21.4-8.9l-21.9 10.2z"/><path fill="url(#b153)" d="M1240.3 1696.9l21.4-8.1l-21.9-7.5l-21.4 7.8z"/><path fill="url(#b154)" d="M1196.8 1698.4l21.6-9.3l-21.6-8.2l-21.6 9z"/><path fill="url(#b155)" d="M913.1 1736.2l23.1-18.1l-20.1-12.7l-23.1 17.8z"/><path fill="url(#b156)" d="M802.7 1771.4l23.6-22.1l-19.7-14.4l-23.6 21.7z"/><path fill="url(#b157)" d="M1525.4 1702.1l19.5-1.1l-23.9-3l-19.5 0.9z"/><path fill="url(#b158)" d="M956.6 1730.4l22.9-16.9l-20.3-12l-23 16.6z"/><path fill="url(#b159)" d="M1481.7 1701.1l19.8-2.2l-23.6-3.7l-19.9 2.1z"/><path fill="url(#b160)" d="M846.2 1763.4l23.4-20.9l-19.8-13.7l-23.5 20.5z"/><path fill="url(#b161)" d="M1000.1 1725.1l22.8-15.6l-20.6-11.3l-22.8 15.3z"/><path fill="url(#b162)" d="M1437.8 1700.7l20.2-3.4l-23.3-4.4l-20.2 3.2z"/><path fill="url(#b163)" d="M1043.8 1720.3l22.5-14.4l-20.8-10.6l-22.6 14.2z"/><path fill="url(#b164)" d="M1394 1700.8l20.5-4.7l-23-5l-20.5 4.5z"/><path fill="url(#b165)" d="M778.9 1795.1l23.8-23.7l-19.7-14.8l-23.7 23.4z"/><path fill="url(#b166)" d="M889.7 1755.9l23.4-19.7l-20.1-13l-23.4 19.3z"/><path fill="url(#b167)" d="M1087.4 1716.1l22.4-13.2l-21.1-9.9l-22.4 12.9z"/><path fill="url(#b168)" d="M1593.8 1705.6l19.1-0.1l-24.6-1.8l-19.1-0.1z"/><path fill="url(#b169)" d="M1350.2 1701.4l20.8-5.8l-22.8-5.8l-20.8 5.7z"/><path fill="url(#b170)" d="M1131.2 1712.4l22.1-12l-21.4-9.2l-22.1 11.7z"/><path fill="url(#b171)" d="M1306.4 1702.6l21-7.1l-22.4-6.4l-21.1 6.8z"/><path fill="url(#b172)" d="M1174.9 1709.1l21.9-10.7l-21.6-8.5l-21.9 10.5z"/><path fill="url(#b173)" d="M1262.5 1704.2l21.4-8.3l-22.2-7.1l-21.4 8.1z"/><path fill="url(#b174)" d="M1218.7 1706.4l21.6-9.5l-21.9-7.8l-21.6 9.3z"/><path fill="url(#b175)" d="M933.4 1748.8l23.2-18.4l-20.4-12.3l-23.1 18.1z"/><path fill="url(#b176)" d="M1549.7 1704.8l19.5-1.2l-24.3-2.6l-19.5 1.1z"/><path fill="url(#b177)" d="M822.5 1785.9l23.7-22.5l-19.9-14.1l-23.6 22.1z"/><path fill="url(#b178)" d="M977.1 1742.3l23-17.2l-20.6-11.6l-22.9 16.9z"/><path fill="url(#b179)" d="M1505.6 1704.5l19.8-2.4l-23.9-3.2l-19.8 2.2z"/><path fill="url(#b180)" d="M866.2 1777.1l23.5-21.2l-20.1-13.4l-23.4 20.9z"/><path fill="url(#b181)" d="M1021 1736.3l22.8-16l-20.9-10.8l-22.8 15.6z"/><path fill="url(#b182)" d="M1461.5 1704.8l20.2-3.7l-23.7-3.8l-20.2 3.4z"/><path fill="url(#b183)" d="M1064.8 1730.8l22.6-14.7l-21.1-10.2l-22.5 14.4z"/><path fill="url(#b184)" d="M1417.4 1705.6l20.4-4.9l-23.3-4.6l-20.5 4.7z"/><path fill="url(#b185)" d="M798.7 1809.9l23.8-24l-19.8-14.5l-23.8 23.7z"/><path fill="url(#b186)" d="M910 1768.8l23.4-20l-20.3-12.6l-23.4 19.7z"/><path fill="#ff7a00" d="M1618.8 1707.1l19.1-0.2l-25-1.4l-19.1 0.1z"/><path fill="url(#b187)" d="M1108.8 1725.9l22.4-13.5l-21.4-9.5l-22.4 13.2z"/><path fill="url(#b188)" d="M1373.2 1706.9l20.8-6.1l-23-5.2l-20.8 5.8z"/><path fill="url(#b189)" d="M1152.8 1721.4l22.1-12.3l-21.6-8.7l-22.1 12z"/><path fill="url(#b190)" d="M1329.1 1708.8l21.1-7.4l-22.8-5.9l-21 7.1z"/><path fill="url(#b191)" d="M1196.8 1717.5l21.9-11.1l-21.9-8l-21.9 10.7z"/><path fill="url(#b192)" d="M1285 1711.2l21.4-8.6l-22.5-6.7l-21.4 8.3z"/><path fill="url(#b193)" d="M1240.9 1714.1l21.6-9.9l-22.2-7.3l-21.6 9.5z"/><path fill="url(#b194)" d="M1574.4 1707l19.4-1.4l-24.6-2l-19.5 1.2z"/><path fill="url(#b195)" d="M954 1761.1l23.1-18.8l-20.5-11.9l-23.2 18.4z"/><path fill="url(#b196)" d="M842.5 1799.9l23.7-22.8l-20-13.7l-23.7 22.5z"/><path fill="url(#b197)" d="M1530 1707.5l19.7-2.7l-24.3-2.7l-19.8 2.4z"/><path fill="url(#b198)" d="M998 1753.8l23-17.5l-20.9-11.2l-23 17.2z"/><path fill="url(#b199)" d="M886.5 1790.4l23.5-21.6l-20.3-12.9l-23.5 21.2z"/><path fill="url(#b200)" d="M1485.5 1708.4l20.1-3.9l-23.9-3.4l-20.2 3.7z"/><path fill="url(#b201)" d="M1042 1747.1l22.8-16.3l-21-10.5l-22.8 16z"/><path fill="url(#b202)" d="M1441 1710l20.5-5.2l-23.7-4.1l-20.4 4.9z"/><path fill="url(#b203)" d="M1086.2 1740.9l22.6-15l-21.4-9.8l-22.6 14.7z"/><path fill="url(#b204)" d="M818.7 1824.3l23.8-24.4l-20-14l-23.8 24z"/><path fill="url(#b205)" d="M930.6 1781.4l23.4-20.3l-20.6-12.3l-23.4 20z"/><path fill="url(#b206)" d="M1396.6 1712l20.8-6.4l-23.4-4.8l-20.8 6.1z"/><path fill="url(#b207)" d="M1130.4 1735.2l22.4-13.8l-21.6-9l-22.4 13.5z"/><path fill="url(#b208)" d="M1352.2 1714.5l21-7.6l-23-5.5l-21.1 7.4z"/><path fill="url(#b209)" d="M1174.7 1730l22.1-12.5l-21.9-8.4l-22.1 12.3z"/><path fill="url(#b210)" d="M1307.7 1717.6l21.4-8.8l-22.7-6.2l-21.4 8.6z"/><path fill="url(#b211)" d="M1219 1725.4l21.9-11.3l-22.2-7.7l-21.9 11.1z"/><path fill="url(#b212)" d="M1263.3 1721.2l21.7-10l-22.5-7l-21.6 9.9z"/><path fill="url(#b213)" d="M1599.4 1708.7l19.4-1.6l-25-1.5l-19.4 1.4z"/><path fill="url(#b214)" d="M974.7 1773l23.3-19.2l-20.9-11.5l-23.1 18.8z"/><path fill="url(#b215)" d="M862.8 1813.6l23.7-23.2l-20.3-13.3l-23.7 22.8z"/><path fill="url(#b216)" d="M1554.6 1709.9l19.8-2.9l-24.7-2.2l-19.7 2.7z"/><path fill="url(#b217)" d="M1019 1765l23-17.9l-21-10.8l-23 17.5z"/><path fill="url(#b218)" d="M1509.8 1711.6l20.2-4.1l-24.4-3l-20.1 3.9z"/><path fill="url(#b219)" d="M907 1803.4l23.6-22l-20.6-12.6l-23.5 21.6z"/><path fill="url(#b220)" d="M1063.3 1757.5l22.9-16.6l-21.4-10.1l-22.8 16.3z"/><path fill="url(#b221)" d="M1465.1 1713.8l20.4-5.4l-24-3.6l-20.5 5.2z"/><path fill="url(#b222)" d="M1107.8 1750.6l22.6-15.4l-21.6-9.3l-22.6 15z"/><path fill="url(#b223)" d="M838.9 1838.4l23.9-24.8l-20.3-13.7l-23.8 24.4z"/><path fill="url(#b224)" d="M1420.3 1716.6l20.7-6.6l-23.6-4.4l-20.8 6.4z"/><path fill="url(#b225)" d="M1152.3 1744.1l22.4-14.1l-21.9-8.6l-22.4 13.8z"/><path fill="url(#b226)" d="M951.3 1793.7l23.4-20.7l-20.7-11.9l-23.4 20.3z"/><path fill="url(#b227)" d="M1375.5 1719.8l21.1-7.8l-23.4-5.1l-21 7.6z"/><path fill="url(#b228)" d="M1196.8 1738.2l22.2-12.8l-22.2-7.9l-22.1 12.5z"/><path fill="url(#b229)" d="M1330.8 1723.7l21.4-9.2l-23.1-5.7l-21.4 8.8z"/><path fill="url(#b230)" d="M1241.4 1732.9l21.9-11.7l-22.4-7.1l-21.9 11.3z"/><path fill="url(#b231)" d="M1286.1 1728l21.6-10.4l-22.7-6.4l-21.7 10z"/><path fill="url(#b232)" d="M995.7 1784.4l23.3-19.4l-21-11.2l-23.3 19.2z"/><path fill="url(#b233)" d="M883.2 1826.9l23.8-23.5l-20.5-13l-23.7 23.2z"/><path fill="url(#b234)" d="M1579.7 1711.8l19.7-3.1l-25-1.7l-19.8 2.9z"/><path fill="url(#b235)" d="M1040.3 1775.7l23-18.2l-21.3-10.4l-23 17.9z"/><path fill="url(#b236)" d="M1534.5 1714.2l20.1-4.3l-24.6-2.4l-20.2 4.1z"/><path fill="url(#b237)" d="M927.7 1816l23.6-22.3l-20.7-12.3l-23.6 22z"/><path fill="url(#b238)" d="M1084.9 1767.5l22.9-16.9l-21.6-9.7l-22.9 16.6z"/><path fill="url(#b239)" d="M1489.4 1717.2l20.4-5.6l-24.3-3.2l-20.4 5.4z"/><path fill="url(#b240)" d="M1129.6 1759.8l22.7-15.7l-21.9-8.9l-22.6 15.4z"/><path fill="url(#b241)" d="M1444.3 1720.7l20.8-6.9l-24.1-3.8l-20.7 6.6z"/><path fill="url(#b242)" d="M859.3 1852.1l23.9-25.2l-20.4-13.3l-23.9 24.8z"/><path fill="url(#b243)" d="M1174.4 1752.7l22.4-14.5l-22.1-8.2l-22.4 14.1z"/><path fill="url(#b244)" d="M972.3 1805.5l23.4-21.1l-21-11.4l-23.4 20.7z"/><path fill="url(#b245)" d="M1399.2 1724.7l21.1-8.1l-23.7-4.6l-21.1 7.8z"/><path fill="url(#b246)" d="M1219.3 1746l22.1-13.1l-22.4-7.5l-22.2 12.8z"/><path fill="url(#b247)" d="M1354.2 1729.2l21.3-9.4l-23.3-5.3l-21.4 9.2z"/><path fill="url(#b248)" d="M1264.2 1739.9l21.9-11.9l-22.8-6.8l-21.9 11.7z"/><path fill="url(#b249)" d="M1309.1 1734.3l21.7-10.6l-23.1-6.1l-21.6 10.4z"/><path fill="url(#b250)" d="M1017 1795.5l23.3-19.8l-21.3-10.7l-23.3 19.4z"/><path fill="url(#b251)" d="M903.9 1839.9l23.8-23.9l-20.7-12.6l-23.8 23.5z"/><path fill="url(#b252)" d="M1061.8 1786l23.1-18.5l-21.6-10l-23 18.2z"/><path fill="url(#b253)" d="M1559.6 1716.3l20.1-4.5l-25.1-1.9l-20.1 4.3z"/><path fill="url(#b254)" d="M948.6 1828.1l23.7-22.6l-21-11.8l-23.6 22.3z"/><path fill="url(#b255)" d="M1106.7 1777.1l22.9-17.3l-21.8-9.2l-22.9 16.9z"/><path fill="url(#b256)" d="M1514.1 1720l20.4-5.8l-24.7-2.6l-20.4 5.6z"/><path fill="url(#b257)" d="M1151.7 1768.7l22.7-16l-22.1-8.6l-22.7 15.7z"/><path fill="url(#b258)" d="M1468.7 1724.3l20.7-7.1l-24.3-3.4l-20.8 6.9z"/><path fill="url(#b259)" d="M879.9 1865.4l24-25.5l-20.7-13l-23.9 25.2z"/><path fill="url(#b260)" d="M1196.8 1760.7l22.5-14.7l-22.5-7.8l-22.4 14.5z"/><path fill="url(#b261)" d="M1423.2 1729l21.1-8.3l-24-4.1l-21.1 8.1z"/><path fill="url(#b262)" d="M993.5 1816.9l23.5-21.4l-21.3-11.1l-23.4 21.1z"/><path fill="url(#b263)" d="M1242 1753.3l22.2-13.4l-22.8-7l-22.1 13.1z"/><path fill="url(#b264)" d="M1377.9 1734.3l21.3-9.6l-23.7-4.9l-21.3 9.4z"/><path fill="url(#b265)" d="M1287.2 1746.5l21.9-12.2l-23-6.3l-21.9 11.9z"/><path fill="url(#b266)" d="M1332.5 1740.1l21.7-10.9l-23.4-5.5l-21.7 10.6z"/><path fill="url(#b267)" d="M1038.5 1806.2l23.3-20.2l-21.5-10.3l-23.3 19.8z"/><path fill="url(#b268)" d="M924.8 1852.4l23.8-24.3l-20.9-12.1l-23.8 23.9z"/><path fill="url(#b269)" d="M1083.6 1796l23.1-18.9l-21.8-9.6l-23.1 18.5z"/><path fill="url(#b270)" d="M1128.8 1786.3l22.9-17.6l-22.1-8.9l-22.9 17.3z"/><path fill="url(#b271)" d="M969.8 1839.9l23.7-23l-21.2-11.4l-23.7 22.6z"/><path fill="url(#b272)" d="M1539.2 1722.4l20.4-6.1l-25.1-2.1l-20.4 5.8z"/><path fill="url(#b273)" d="M1174.1 1777.1l22.7-16.4l-22.4-8l-22.7 16z"/><path fill="url(#b274)" d="M1493.4 1727.4l20.7-7.4l-24.7-2.8l-20.7 7.1z"/><path fill="url(#b275)" d="M1219.5 1768.4l22.5-15.1l-22.7-7.3l-22.5 14.7z"/><path fill="url(#b276)" d="M900.8 1878.4l24-26l-20.9-12.5l-24 25.5z"/><path fill="url(#b277)" d="M1447.6 1732.9l21.1-8.6l-24.4-3.6l-21.1 8.3z"/><path fill="url(#b278)" d="M1015 1827.9l23.5-21.7l-21.5-10.7l-23.5 21.4z"/><path fill="url(#b279)" d="M1265 1760.2l22.2-13.7l-23-6.6l-22.2 13.4z"/><path fill="url(#b280)" d="M1401.9 1738.9l21.3-9.9l-24-4.3l-21.3 9.6z"/><path fill="url(#b281)" d="M1310.6 1752.6l21.9-12.5l-23.4-5.8l-21.9 12.2z"/><path fill="url(#b282)" d="M1356.2 1745.5l21.7-11.2l-23.7-5.1l-21.7 10.9z"/><path fill="url(#b283)" d="M1060.3 1816.4l23.3-20.4l-21.8-10l-23.3 20.2z"/><path fill="url(#b284)" d="M946 1864.6l23.8-24.7l-21.2-11.8l-23.8 24.3z"/><path fill="url(#b285)" d="M1105.7 1805.5l23.1-19.2l-22.1-9.2l-23.1 18.9z"/><path fill="url(#b286)" d="M1151.2 1795l22.9-17.9l-22.4-8.4l-22.9 17.6z"/><path fill="url(#b287)" d="M991.3 1851.3l23.7-23.4l-21.5-11l-23.7 23z"/><path fill="url(#b288)" d="M1518.5 1730l20.7-7.6l-25.1-2.4l-20.7 7.4z"/><path fill="url(#b289)" d="M1196.8 1785l22.7-16.6l-22.7-7.7l-22.7 16.4z"/><path fill="url(#b290)" d="M1472.3 1736.2l21.1-8.8l-24.7-3.1l-21.1 8.6z"/><path fill="url(#b291)" d="M1242.5 1775.6l22.5-15.4l-23-6.9l-22.5 15.1z"/><path fill="url(#b292)" d="M921.9 1890.9l24.1-26.3l-21.2-12.2l-24 26z"/><path fill="url(#b293)" d="M1036.7 1838.6l23.6-22.2l-21.8-10.2l-23.5 21.7z"/><path fill="url(#b294)" d="M1426.3 1743l21.3-10.1l-24.4-3.9l-21.3 9.9z"/><path fill="url(#b295)" d="M1288.4 1766.7l22.2-14.1l-23.4-6.1l-22.2 13.7z"/><path fill="url(#b296)" d="M1380.2 1750.4l21.7-11.5l-24-4.6l-21.7 11.2z"/><path fill="url(#b297)" d="M1334.2 1758.3l22-12.8l-23.7-5.4l-21.9 12.5z"/><path fill="url(#b298)" d="M1082.3 1826.3l23.4-20.8l-22.1-9.5l-23.3 20.4z"/><path fill="url(#b299)" d="M967.3 1876.4l24-25.1l-21.5-11.4l-23.8 24.7z"/><path fill="url(#b300)" d="M1128 1814.5l23.2-19.5l-22.4-8.7l-23.1 19.2z"/><path fill="url(#b301)" d="M1173.9 1803.3l22.9-18.3l-22.7-7.9l-22.9 17.9z"/><path fill="url(#b302)" d="M1012.9 1862.3l23.8-23.7l-21.7-10.7l-23.7 23.4z"/><path fill="url(#b303)" d="M1219.8 1792.5l22.7-16.9l-23-7.2l-22.7 16.6z"/><path fill="url(#b304)" d="M1497.4 1739.1l21.1-9.1l-25.1-2.6l-21.1 8.8z"/><path fill="url(#b305)" d="M1265.9 1782.3l22.5-15.6l-23.4-6.5l-22.5 15.4z"/><path fill="url(#b306)" d="M943.2 1903.1l24.1-26.7l-21.3-11.8l-24.1 26.3z"/><path fill="url(#b307)" d="M1451 1746.7l21.3-10.5l-24.7-3.3l-21.3 10.1z"/><path fill="url(#b308)" d="M1058.7 1848.8l23.6-22.5l-22-9.9l-23.6 22.2z"/><path fill="url(#b309)" d="M1312 1772.6l22.2-14.3l-23.6-5.7l-22.2 14.1z"/><path fill="url(#b310)" d="M1404.6 1754.8l21.7-11.8l-24.4-4.1l-21.7 11.5z"/><path fill="url(#b311)" d="M1358.3 1763.4l21.9-13l-24-4.9l-22 12.8z"/><path fill="url(#b312)" d="M1104.6 1835.7l23.4-21.2l-22.3-9l-23.4 20.8z"/><path fill="url(#b313)" d="M989 1887.8l23.9-25.5l-21.6-11l-24 25.1z"/><path fill="url(#b314)" d="M1150.6 1823.2l23.3-19.9l-22.7-8.3l-23.2 19.5z"/><path fill="url(#b315)" d="M1196.8 1811.1l23-18.6l-23-7.5l-22.9 18.3z"/><path fill="url(#b316)" d="M1034.9 1872.9l23.8-24.1l-22-10.2l-23.8 23.7z"/><path fill="url(#b317)" d="M1243.1 1799.6l22.8-17.3l-23.4-6.7l-22.7 16.9z"/><path fill="url(#b318)" d="M1289.5 1788.6l22.5-16l-23.6-5.9l-22.5 15.6z"/><path fill="url(#b319)" d="M1476.1 1749.8l21.3-10.7l-25.1-2.9l-21.3 10.5z"/><path fill="url(#b320)" d="M964.8 1914.9l24.2-27.1l-21.7-11.4l-24.1 26.7z"/><path fill="url(#b321)" d="M1336 1778.1l22.3-14.7l-24.1-5.1l-22.2 14.3z"/><path fill="url(#b322)" d="M1081 1858.6l23.6-22.9l-22.3-9.4l-23.6 22.5z"/><path fill="url(#b323)" d="M1429.3 1758.7l21.7-12l-24.7-3.7l-21.7 11.8z"/><path fill="url(#b324)" d="M1382.6 1768.1l22-13.3l-24.4-4.4l-21.9 13z"/><path fill="url(#b325)" d="M1127.2 1844.7l23.4-21.5l-22.6-8.7l-23.4 21.2z"/><path fill="url(#b326)" d="M1010.9 1898.7l24-25.8l-22-10.6l-23.9 25.5z"/><path fill="url(#b327)" d="M1173.6 1831.4l23.2-20.3l-22.9-7.8l-23.3 19.9z"/><path fill="url(#b328)" d="M1220.1 1818.6l23-19l-23.3-7.1l-23 18.6z"/><path fill="url(#b329)" d="M1057.1 1883.1l23.9-24.5l-22.3-9.8l-23.8 24.1z"/><path fill="url(#b330)" d="M1266.7 1806.2l22.8-17.6l-23.6-6.3l-22.8 17.3z"/><path fill="url(#b331)" d="M1313.5 1794.4l22.5-16.3l-24-5.5l-22.5 16z"/><path fill="url(#b332)" d="M986.7 1926.2l24.2-27.5l-21.9-10.9l-24.2 27.1z"/><path fill="url(#b333)" d="M1360.4 1783.1l22.2-15l-24.3-4.7l-22.3 14.7z"/><path fill="url(#b334)" d="M1454.4 1762.1l21.7-12.3l-25.1-3.1l-21.7 12z"/><path fill="url(#b335)" d="M1407.3 1772.4l22-13.7l-24.7-3.9l-22 13.3z"/><path fill="url(#b336)" d="M1103.5 1868l23.7-23.3l-22.6-9l-23.6 22.9z"/><path fill="url(#b337)" d="M1150.1 1853.3l23.5-21.9l-23-8.2l-23.4 21.5z"/><path fill="url(#b338)" d="M1033.1 1909.3l24-26.2l-22.2-10.2l-24 25.8z"/><path fill="url(#b339)" d="M1196.8 1839.2l23.3-20.6l-23.3-7.5l-23.2 20.3z"/><path fill="url(#b340)" d="M1243.7 1825.5l23-19.3l-23.6-6.6l-23 19z"/><path fill="url(#b341)" d="M1079.6 1892.9l23.9-24.9l-22.5-9.4l-23.9 24.5z"/><path fill="url(#b342)" d="M1290.7 1812.4l22.8-18l-24-5.8l-22.8 17.6z"/><path fill="url(#b343)" d="M1337.8 1799.8l22.6-16.7l-24.4-5l-22.5 16.3z"/><path fill="url(#b344)" d="M1385.1 1787.7l22.2-15.3l-24.7-4.3l-22.2 15z"/><path fill="url(#b345)" d="M1008.8 1937.2l24.3-27.9l-22.2-10.6l-24.2 27.5z"/><path fill="url(#b346)" d="M1432.4 1776.1l22-14l-25.1-3.4l-22 13.7z"/><path fill="url(#b347)" d="M1126.4 1876.9l23.7-23.6l-22.9-8.6l-23.7 23.3z"/><path fill="url(#b348)" d="M1173.3 1861.4l23.5-22.2l-23.2-7.8l-23.5 21.9z"/><path fill="url(#b349)" d="M1055.5 1919.5l24.1-26.6l-22.5-9.8l-24 26.2z"/><path fill="url(#b350)" d="M1220.4 1846.5l23.3-21l-23.6-6.9l-23.3 20.6z"/><path fill="url(#b351)" d="M1267.6 1832l23.1-19.6l-24-6.2l-23 19.3z"/><path fill="url(#b352)" d="M1102.4 1902.2l24-25.3l-22.9-8.9l-23.9 24.9z"/><path fill="url(#b353)" d="M1315 1818l22.8-18.2l-24.3-5.4l-22.8 18z"/><path fill="url(#b354)" d="M1362.5 1804.6l22.6-16.9l-24.7-4.6l-22.6 16.7z"/><path fill="url(#b355)" d="M1410.1 1791.7l22.3-15.6l-25.1-3.7l-22.2 15.3z"/><path fill="url(#b356)" d="M1031.2 1947.8l24.3-28.3l-22.4-10.2l-24.3 27.9z"/><path fill="url(#b357)" d="M1149.5 1885.4l23.8-24l-23.2-8.1l-23.7 23.6z"/><path fill="url(#b358)" d="M1196.8 1869.1l23.6-22.6l-23.6-7.3l-23.5 22.2z"/><path fill="url(#b359)" d="M1078.3 1929.2l24.1-27l-22.8-9.3l-24.1 26.6z"/><path fill="url(#b360)" d="M1244.3 1853.3l23.3-21.3l-23.9-6.5l-23.3 21z"/><path fill="url(#b361)" d="M1291.9 1838l23.1-20l-24.3-5.6l-23.1 19.6z"/><path fill="url(#b362)" d="M1125.6 1911.1l23.9-25.7l-23.1-8.5l-24 25.3z"/><path fill="url(#b363)" d="M1339.6 1823.2l22.9-18.6l-24.7-4.8l-22.8 18.2z"/><path fill="url(#b364)" d="M1387.5 1809l22.6-17.3l-25-4l-22.6 16.9z"/><path fill="url(#b365)" d="M1053.9 1957.9l24.4-28.7l-22.8-9.7l-24.3 28.3z"/><path fill="url(#b366)" d="M1173 1893.5l23.8-24.4l-23.5-7.7l-23.8 24z"/><path fill="url(#b367)" d="M1220.7 1876.3l23.6-23l-23.9-6.8l-23.6 22.6z"/><path fill="url(#b368)" d="M1101.3 1938.5l24.3-27.4l-23.2-8.9l-24.1 27z"/><path fill="url(#b369)" d="M1268.5 1859.7l23.4-21.7l-24.3-6l-23.3 21.3z"/><path fill="url(#b370)" d="M1316.5 1843.6l23.1-20.4l-24.6-5.2l-23.1 20z"/><path fill="url(#b371)" d="M1149 1919.6l24-26.1l-23.5-8.1l-23.9 25.7z"/><path fill="url(#b372)" d="M1364.6 1827.9l22.9-18.9l-25-4.4l-22.9 18.6z"/><path fill="url(#b373)" d="M1076.9 1967.7l24.4-29.2l-23-9.3l-24.4 28.7z"/><path fill="url(#b374)" d="M1196.8 1901.1l23.9-24.8l-23.9-7.2l-23.8 24.4z"/><path fill="url(#b375)" d="M1244.8 1883.1l23.7-23.4l-24.2-6.4l-23.6 23z"/><path fill="url(#b376)" d="M1124.7 1947.4l24.3-27.8l-23.4-8.5l-24.3 27.4z"/><path fill="url(#b377)" d="M1293.1 1865.6l23.4-22l-24.6-5.6l-23.4 21.7z"/><path fill="url(#b378)" d="M1341.5 1848.6l23.1-20.7l-25-4.7l-23.1 20.4z"/><path fill="url(#b379)" d="M1172.7 1927.6l24.1-26.5l-23.8-7.6l-24 26.1z"/><path fill="url(#b380)" d="M1100.2 1977l24.5-29.6l-23.4-8.9l-24.4 29.2z"/><path fill="url(#b381)" d="M1221 1908.3l23.8-25.2l-24.1-6.8l-23.9 24.8z"/><path fill="url(#b382)" d="M1269.4 1889.4l23.7-23.8l-24.6-5.9l-23.7 23.4z"/><path fill="url(#b383)" d="M1148.4 1955.8l24.3-28.2l-23.7-8l-24.3 27.8z"/><path fill="url(#b384)" d="M1318 1871l23.5-22.4l-25-5l-23.4 22z"/><path fill="url(#b385)" d="M1196.8 1935.1l24.2-26.8l-24.2-7.2l-24.1 26.5z"/><path fill="url(#b386)" d="M1123.9 1985.8l24.5-30l-23.7-8.4l-24.5 29.6z"/><path fill="url(#b387)" d="M1245.4 1914.9l24-25.5l-24.6-6.3l-23.8 25.2z"/><path fill="url(#b388)" d="M1294.3 1895.2l23.7-24.2l-24.9-5.4l-23.7 23.8z"/><path fill="url(#b389)" d="M1172.4 1963.8l24.4-28.7l-24.1-7.5l-24.3 28.2z"/><path fill="url(#b390)" d="M1221.3 1942.2l24.1-27.3l-24.4-6.6l-24.2 26.8z"/><path fill="url(#b391)" d="M1147.8 1994.2l24.6-30.4l-24-8l-24.5 30z"/><path fill="url(#b392)" d="M1270.3 1921.1l24-25.9l-24.9-5.8l-24 25.5z"/><path fill="url(#b393)" d="M1196.8 1971.3l24.5-29.1l-24.5-7.1l-24.4 28.7z"/><path fill="url(#b394)" d="M1246 1948.9l24.3-27.8l-24.9-6.2l-24.1 27.3z"/><path fill="url(#b395)" d="M1172.1 2002.2l24.7-30.9l-24.4-7.5l-24.6 30.4z"/><path fill="url(#b396)" d="M1221.6 1978.4l24.4-29.5l-24.7-6.7l-24.5 29.1z"/><path fill="url(#b397)" d="M1196.8 2009.7l24.8-31.3l-24.8-7.1l-24.7 30.9z"/></g>
<circle cx="964.8" cy="1909.3" r="9.0" fill="#c00000" stroke="#3a0000" stroke-width="1.5"/><circle cx="988.1" cy="1609.6" r="9.3" fill="#c00000" stroke="#3a0000" stroke-width="1.5"/><rect x="1188.4" y="1688.4" width="17.2" height="40" rx="8.6" fill="#c00000" stroke="#7a0000" stroke-width="1.6"/><path d="M1189.4 1704.9 A8.6 8.6 0 0 0 1204.6 1704.9" fill="none" stroke="#8a0000" stroke-width="1.6"/><path d="M1189.4 1712.4 A8.6 8.6 0 0 1 1204.6 1712.4" fill="none" stroke="#8a0000" stroke-width="1.6"/><rect x="1195" y="1710.4" width="4" height="11" fill="#800000"/>
<g fill="#000"><rect x="766.6" y="2015.2" width="8.6" height="8" rx="3"/><rect x="764" y="1960.3" width="8.6" height="8" rx="3"/><rect x="761.3" y="1905.4" width="8.6" height="8" rx="3"/><rect x="758.6" y="1850.5" width="8.6" height="8" rx="3"/><rect x="756" y="1795.6" width="8.6" height="8" rx="3"/><rect x="753.3" y="1740.7" width="8.6" height="8" rx="3"/><rect x="750.6" y="1685.8" width="8.6" height="8" rx="3"/><rect x="748" y="1630.9" width="8.6" height="8" rx="3"/><rect x="745.3" y="1576" width="8.6" height="8" rx="3"/><rect x="773.3" y="2152.5" width="8.6" height="8" rx="3"/><rect x="878.1" y="2202.9" width="8.6" height="8" rx="3"/><rect x="982.9" y="2253.2" width="8.6" height="8" rx="3"/><rect x="1087.7" y="2303.6" width="8.6" height="8" rx="3"/><rect x="1192.5" y="2354" width="8.6" height="8" rx="3"/><rect x="1297.3" y="2303.6" width="8.6" height="8" rx="3"/><rect x="1402.1" y="2253.2" width="8.6" height="8" rx="3"/><rect x="1506.9" y="2202.9" width="8.6" height="8" rx="3"/><rect x="1611.8" y="2152.5" width="8.6" height="8" rx="3"/></g><g class="tk"><text x="752.5" y="2009.9" text-anchor="end" textLength="15.3" lengthAdjust="spacingAndGlyphs">6</text><text x="749.9" y="1955" text-anchor="end" textLength="15.3" lengthAdjust="spacingAndGlyphs">8</text><text x="747.2" y="1900.1" text-anchor="end" textLength="31.6" lengthAdjust="spacingAndGlyphs">10</text><text x="744.5" y="1845.2" text-anchor="end" textLength="31.6" lengthAdjust="spacingAndGlyphs">12</text><text x="741.9" y="1790.3" text-anchor="end" textLength="31.6" lengthAdjust="spacingAndGlyphs">14</text><text x="739.2" y="1735.4" text-anchor="end" textLength="31.6" lengthAdjust="spacingAndGlyphs">16</text><text x="736.5" y="1680.5" text-anchor="end" textLength="31.6" lengthAdjust="spacingAndGlyphs">18</text><text x="733.9" y="1625.6" text-anchor="end" textLength="31.6" lengthAdjust="spacingAndGlyphs">20</text><text x="731.2" y="1570.7" text-anchor="end" textLength="31.6" lengthAdjust="spacingAndGlyphs">22</text><text x="758.4" y="2187.6" text-anchor="end" textLength="31.6" lengthAdjust="spacingAndGlyphs">35</text><text x="863.2" y="2238" text-anchor="end" textLength="31.6" lengthAdjust="spacingAndGlyphs">30</text><text x="968" y="2288.3" text-anchor="end" textLength="31.6" lengthAdjust="spacingAndGlyphs">25</text><text x="1072.8" y="2338.7" text-anchor="end" textLength="31.6" lengthAdjust="spacingAndGlyphs">20</text><text x="1177.6" y="2389.1" text-anchor="end" textLength="31.6" lengthAdjust="spacingAndGlyphs">15</text><text x="1212.1" y="2389.1" text-anchor="start" textLength="51" lengthAdjust="spacingAndGlyphs">300</text><text x="1316.9" y="2338.7" text-anchor="start" textLength="51" lengthAdjust="spacingAndGlyphs">350</text><text x="1421.7" y="2288.3" text-anchor="start" textLength="51" lengthAdjust="spacingAndGlyphs">400</text><text x="1526.5" y="2238" text-anchor="start" textLength="51" lengthAdjust="spacingAndGlyphs">450</text><text x="1631.4" y="2187.6" text-anchor="start" textLength="51" lengthAdjust="spacingAndGlyphs">500</text></g>
<text><tspan x="7.3" y="82.9" class="b" textLength="180.8" lengthAdjust="spacingAndGlyphs">Design-Expert</tspan><tspan x="192.7" y="79.6" class="reg" textLength="17.1" lengthAdjust="spacingAndGlyphs">®</tspan> <tspan x="219" y="82.9" class="b" textLength="119" lengthAdjust="spacingAndGlyphs">Software</tspan></text>
<text><tspan x="6.4" y="117.2" textLength="75.4" lengthAdjust="spacingAndGlyphs">Factor</tspan> <tspan x="90.4" y="117.2" textLength="94.9" lengthAdjust="spacingAndGlyphs">Coding:</tspan> <tspan x="193.4" y="117.2" textLength="76.2" lengthAdjust="spacingAndGlyphs">Actual</tspan></text>
<text><tspan x="7.3" y="185.4" class="b" textLength="81.9" lengthAdjust="spacingAndGlyphs">Bio-oil</tspan> <tspan x="96.7" y="185.4" class="b" textLength="57" lengthAdjust="spacingAndGlyphs">yield</tspan> <tspan x="164.6" y="185.4" class="b" textLength="38" lengthAdjust="spacingAndGlyphs">(%)</tspan></text>
<text><tspan x="76.4" y="233.4" style="fill:#c00000" textLength="82.8" lengthAdjust="spacingAndGlyphs">Design</tspan> <tspan x="167" y="233.4" style="fill:#c00000" textLength="74.3" lengthAdjust="spacingAndGlyphs">points</tspan> <tspan x="250.7" y="233.4" style="fill:#c00000" textLength="70.4" lengthAdjust="spacingAndGlyphs">above</tspan> <tspan x="329.8" y="233.4" style="fill:#c00000" textLength="111.4" lengthAdjust="spacingAndGlyphs">predicted</tspan> <tspan x="450.6" y="233.4" style="fill:#c00000" textLength="64" lengthAdjust="spacingAndGlyphs">value</tspan></text>
<text><tspan x="76.4" y="297.2" style="fill:#c00000" textLength="82.8" lengthAdjust="spacingAndGlyphs">Design</tspan> <tspan x="167" y="297.2" style="fill:#c00000" textLength="74.3" lengthAdjust="spacingAndGlyphs">points</tspan> <tspan x="249.8" y="297.2" style="fill:#c00000" textLength="70.4" lengthAdjust="spacingAndGlyphs">below</tspan> <tspan x="329.8" y="297.2" style="fill:#c00000" textLength="111.4" lengthAdjust="spacingAndGlyphs">predicted</tspan> <tspan x="450.6" y="297.2" style="fill:#c00000" textLength="64" lengthAdjust="spacingAndGlyphs">value</tspan></text>
<text><tspan x="17.9" y="359.3" style="fill:#00a000" textLength="36.3" lengthAdjust="spacingAndGlyphs">7.7</tspan></text>
<text><tspan x="194.1" y="359.3" style="fill:#ff0000" textLength="48.1" lengthAdjust="spacingAndGlyphs">18.9</tspan></text>
<text><tspan x="7.8" y="472.9" textLength="26" lengthAdjust="spacingAndGlyphs">X1</tspan> <tspan x="42.9" y="472.9" textLength="15.6" lengthAdjust="spacingAndGlyphs">=</tspan> <tspan x="69.3" y="472.9" textLength="24.1" lengthAdjust="spacingAndGlyphs">A:</tspan> <tspan x="100" y="472.9" textLength="104.2" lengthAdjust="spacingAndGlyphs">Pyrolysis</tspan> <tspan x="213.3" y="472.9" textLength="70.3" lengthAdjust="spacingAndGlyphs">temp.</tspan></text>
<text><tspan x="6.9" y="507.2" textLength="29.6" lengthAdjust="spacingAndGlyphs">X2</tspan> <tspan x="42.9" y="507.2" textLength="15.6" lengthAdjust="spacingAndGlyphs">=</tspan> <tspan x="69.4" y="507.2" textLength="21.9" lengthAdjust="spacingAndGlyphs">B:</tspan> <tspan x="99.4" y="507.2" textLength="84.1" lengthAdjust="spacingAndGlyphs">Vapour</tspan> <tspan x="192.9" y="507.2" textLength="90.7" lengthAdjust="spacingAndGlyphs">cooling</tspan> <tspan x="292" y="507.2" textLength="70.1" lengthAdjust="spacingAndGlyphs">temp.</tspan></text>
<text><tspan x="6.9" y="575.3" class="b" textLength="81.4" lengthAdjust="spacingAndGlyphs">Actual</tspan> <tspan x="94.6" y="575.3" class="b" textLength="91" lengthAdjust="spacingAndGlyphs">Factors</tspan></text>
<text><tspan x="6.9" y="609.6" textLength="26.3" lengthAdjust="spacingAndGlyphs">C:</tspan> <tspan x="38.6" y="609.6" textLength="120.9" lengthAdjust="spacingAndGlyphs">Residence</tspan> <tspan x="168.5" y="609.6" textLength="53.1" lengthAdjust="spacingAndGlyphs">time</tspan> <tspan x="230" y="609.6" textLength="15.5" lengthAdjust="spacingAndGlyphs">=</tspan> <tspan x="253.7" y="609.6" textLength="27.2" lengthAdjust="spacingAndGlyphs">25</tspan></text>
<text><tspan x="6" y="643.5" textLength="27.2" lengthAdjust="spacingAndGlyphs">D:</tspan> <tspan x="39.5" y="643.5" textLength="42.4" lengthAdjust="spacingAndGlyphs">Gas</tspan> <tspan x="90.9" y="643.5" textLength="49.1" lengthAdjust="spacingAndGlyphs">flow</tspan> <tspan x="149.4" y="643.5" textLength="44.8" lengthAdjust="spacingAndGlyphs">rate</tspan> <tspan x="201.4" y="643.5" textLength="16.9" lengthAdjust="spacingAndGlyphs">=</tspan> <tspan x="226.6" y="643.5" textLength="13.5" lengthAdjust="spacingAndGlyphs">2</tspan></text>
<text><tspan x="7.3" y="1315.8" class="b" textLength="180.8" lengthAdjust="spacingAndGlyphs">Design-Expert</tspan><tspan x="192.7" y="1312.5" class="reg" textLength="17.1" lengthAdjust="spacingAndGlyphs">®</tspan> <tspan x="219" y="1315.8" class="b" textLength="119" lengthAdjust="spacingAndGlyphs">Software</tspan></text>
<text><tspan x="6.4" y="1350.1" textLength="75.4" lengthAdjust="spacingAndGlyphs">Factor</tspan> <tspan x="90.4" y="1350.1" textLength="94.9" lengthAdjust="spacingAndGlyphs">Coding:</tspan> <tspan x="193.4" y="1350.1" textLength="76.2" lengthAdjust="spacingAndGlyphs">Actual</tspan></text>
<text><tspan x="7.3" y="1418.3" class="b" textLength="81.9" lengthAdjust="spacingAndGlyphs">Bio-oil</tspan> <tspan x="96.7" y="1418.3" class="b" textLength="57" lengthAdjust="spacingAndGlyphs">yield</tspan> <tspan x="164.6" y="1418.3" class="b" textLength="38" lengthAdjust="spacingAndGlyphs">(%)</tspan></text>
<text><tspan x="76.4" y="1466.3" style="fill:#c00000" textLength="82.8" lengthAdjust="spacingAndGlyphs">Design</tspan> <tspan x="167" y="1466.3" style="fill:#c00000" textLength="74.3" lengthAdjust="spacingAndGlyphs">points</tspan> <tspan x="250.7" y="1466.3" style="fill:#c00000" textLength="70.4" lengthAdjust="spacingAndGlyphs">above</tspan> <tspan x="329.8" y="1466.3" style="fill:#c00000" textLength="111.4" lengthAdjust="spacingAndGlyphs">predicted</tspan> <tspan x="450.6" y="1466.3" style="fill:#c00000" textLength="64" lengthAdjust="spacingAndGlyphs">value</tspan></text>
<text><tspan x="76.4" y="1530.1" style="fill:#c00000" textLength="82.8" lengthAdjust="spacingAndGlyphs">Design</tspan> <tspan x="167" y="1530.1" style="fill:#c00000" textLength="74.3" lengthAdjust="spacingAndGlyphs">points</tspan> <tspan x="249.8" y="1530.1" style="fill:#c00000" textLength="70.4" lengthAdjust="spacingAndGlyphs">below</tspan> <tspan x="329.8" y="1530.1" style="fill:#c00000" textLength="111.4" lengthAdjust="spacingAndGlyphs">predicted</tspan> <tspan x="450.6" y="1530.1" style="fill:#c00000" textLength="64" lengthAdjust="spacingAndGlyphs">value</tspan></text>
<text><tspan x="17.9" y="1592.2" style="fill:#00a000" textLength="36.3" lengthAdjust="spacingAndGlyphs">7.7</tspan></text>
<text><tspan x="194.1" y="1592.2" style="fill:#ff0000" textLength="48.1" lengthAdjust="spacingAndGlyphs">18.9</tspan></text>
<text><tspan x="7.8" y="1705.8" textLength="26" lengthAdjust="spacingAndGlyphs">X1</tspan> <tspan x="42.9" y="1705.8" textLength="15.6" lengthAdjust="spacingAndGlyphs">=</tspan> <tspan x="69.3" y="1705.8" textLength="24.1" lengthAdjust="spacingAndGlyphs">A:</tspan> <tspan x="100" y="1705.8" textLength="104.2" lengthAdjust="spacingAndGlyphs">Pyrolysis</tspan> <tspan x="213.3" y="1705.8" textLength="70.3" lengthAdjust="spacingAndGlyphs">temp.</tspan></text>
<text><tspan x="6.9" y="1740.1" textLength="29.6" lengthAdjust="spacingAndGlyphs">X2</tspan> <tspan x="42.9" y="1740.1" textLength="15.6" lengthAdjust="spacingAndGlyphs">=</tspan> <tspan x="69.4" y="1740.1" textLength="23.8" lengthAdjust="spacingAndGlyphs">C:</tspan> <tspan x="100" y="1740.1" textLength="121.5" lengthAdjust="spacingAndGlyphs">Residence</tspan> <tspan x="230" y="1740.1" textLength="53.6" lengthAdjust="spacingAndGlyphs">time</tspan></text>
<text><tspan x="6.9" y="1808.2" class="b" textLength="81.4" lengthAdjust="spacingAndGlyphs">Actual</tspan> <tspan x="94.6" y="1808.2" class="b" textLength="91" lengthAdjust="spacingAndGlyphs">Factors</tspan></text>
<text><tspan x="6" y="1842.5" textLength="22.9" lengthAdjust="spacingAndGlyphs">B:</tspan> <tspan x="37.3" y="1842.5" textLength="85" lengthAdjust="spacingAndGlyphs">Vapour</tspan> <tspan x="131.7" y="1842.5" textLength="89.9" lengthAdjust="spacingAndGlyphs">cooling</tspan> <tspan x="228.8" y="1842.5" textLength="70.9" lengthAdjust="spacingAndGlyphs">temp.</tspan> <tspan x="307.6" y="1842.5" textLength="15.5" lengthAdjust="spacingAndGlyphs">=</tspan> <tspan x="331.6" y="1842.5" textLength="13.5" lengthAdjust="spacingAndGlyphs">6</tspan></text>
<text><tspan x="6" y="1876.4" textLength="27.2" lengthAdjust="spacingAndGlyphs">D:</tspan> <tspan x="39.5" y="1876.4" textLength="42.4" lengthAdjust="spacingAndGlyphs">Gas</tspan> <tspan x="90.9" y="1876.4" textLength="49.1" lengthAdjust="spacingAndGlyphs">flow</tspan> <tspan x="149.4" y="1876.4" textLength="44.8" lengthAdjust="spacingAndGlyphs">rate</tspan> <tspan x="202.3" y="1876.4" textLength="8.8" lengthAdjust="spacingAndGlyphs">=</tspan> <tspan x="226.6" y="1876.4" textLength="13.5" lengthAdjust="spacingAndGlyphs">2</tspan></text>
<text><tspan x="1422" y="1110.3" class="ax" textLength="26.6" lengthAdjust="spacingAndGlyphs">A:</tspan> <tspan x="1455.3" y="1110.3" class="ax" textLength="116.3" lengthAdjust="spacingAndGlyphs">Pyrolysis</tspan> <tspan x="1582.2" y="1110.3" class="ax" textLength="78.2" lengthAdjust="spacingAndGlyphs">temp.</tspan> <tspan x="1668.3" y="1110.3" class="ax" textLength="8" lengthAdjust="spacingAndGlyphs">(</tspan><tspan x="1679.2" y="1097.5" class="sup" textLength="7.1" lengthAdjust="spacingAndGlyphs">0</tspan><tspan x="1686.9" y="1110.3" class="ax" textLength="28.4" lengthAdjust="spacingAndGlyphs">C)</tspan></text>
<text><tspan x="633.9" y="1111.5" class="ax" textLength="26.8" lengthAdjust="spacingAndGlyphs">B:</tspan> <tspan x="670.7" y="1111.5" class="ax" textLength="90.1" lengthAdjust="spacingAndGlyphs">Vapour</tspan> <tspan x="772.4" y="1111.5" class="ax" textLength="98.6" lengthAdjust="spacingAndGlyphs">cooling</tspan> <tspan x="882.8" y="1111.5" class="ax" textLength="77.9" lengthAdjust="spacingAndGlyphs">temp.</tspan> <tspan x="966.1" y="1111.5" class="ax" textLength="9" lengthAdjust="spacingAndGlyphs">(</tspan><tspan x="979.8" y="1098.7" class="sup" textLength="8.6" lengthAdjust="spacingAndGlyphs">0</tspan><tspan x="988.9" y="1111.5" class="ax" textLength="28.4" lengthAdjust="spacingAndGlyphs">C)</tspan></text>
<text transform="translate(623.4 747.7) rotate(-90)"><tspan x="-1.2" y="0" class="ax" textLength="86.3" lengthAdjust="spacingAndGlyphs">Bio-oil</tspan> <tspan x="93.5" y="0" class="ax" textLength="64.5" lengthAdjust="spacingAndGlyphs">yield</tspan> <tspan x="168.5" y="0" class="ax" textLength="39.3" lengthAdjust="spacingAndGlyphs">(%)</tspan></text>
<text><tspan x="1422" y="2342.8" class="ax" textLength="26.6" lengthAdjust="spacingAndGlyphs">A:</tspan> <tspan x="1455.3" y="2342.8" class="ax" textLength="116.3" lengthAdjust="spacingAndGlyphs">Pyrolysis</tspan> <tspan x="1582.2" y="2342.8" class="ax" textLength="78.2" lengthAdjust="spacingAndGlyphs">temp.</tspan> <tspan x="1668.3" y="2342.8" class="ax" textLength="8" lengthAdjust="spacingAndGlyphs">(</tspan><tspan x="1679.2" y="2330" class="sup" textLength="7.1" lengthAdjust="spacingAndGlyphs">0</tspan><tspan x="1686.9" y="2342.8" class="ax" textLength="28.4" lengthAdjust="spacingAndGlyphs">C)</tspan></text>
<text><tspan x="664.4" y="2342.5" class="ax" textLength="26.2" lengthAdjust="spacingAndGlyphs">C:</tspan> <tspan x="698.5" y="2342.5" class="ax" textLength="136.6" lengthAdjust="spacingAndGlyphs">Residence</tspan> <tspan x="843.3" y="2342.5" class="ax" textLength="58.5" lengthAdjust="spacingAndGlyphs">time</tspan> <tspan x="918.1" y="2342.5" class="ax" textLength="72.1" lengthAdjust="spacingAndGlyphs">(min)</tspan></text>
<text transform="translate(623.4 1980.2) rotate(-90)"><tspan x="-1.2" y="0" class="ax" textLength="86.3" lengthAdjust="spacingAndGlyphs">Bio-oil</tspan> <tspan x="93.5" y="0" class="ax" textLength="64.5" lengthAdjust="spacingAndGlyphs">yield</tspan> <tspan x="168.5" y="0" class="ax" textLength="39.3" lengthAdjust="spacingAndGlyphs">(%)</tspan></text>
</svg></body></html>
